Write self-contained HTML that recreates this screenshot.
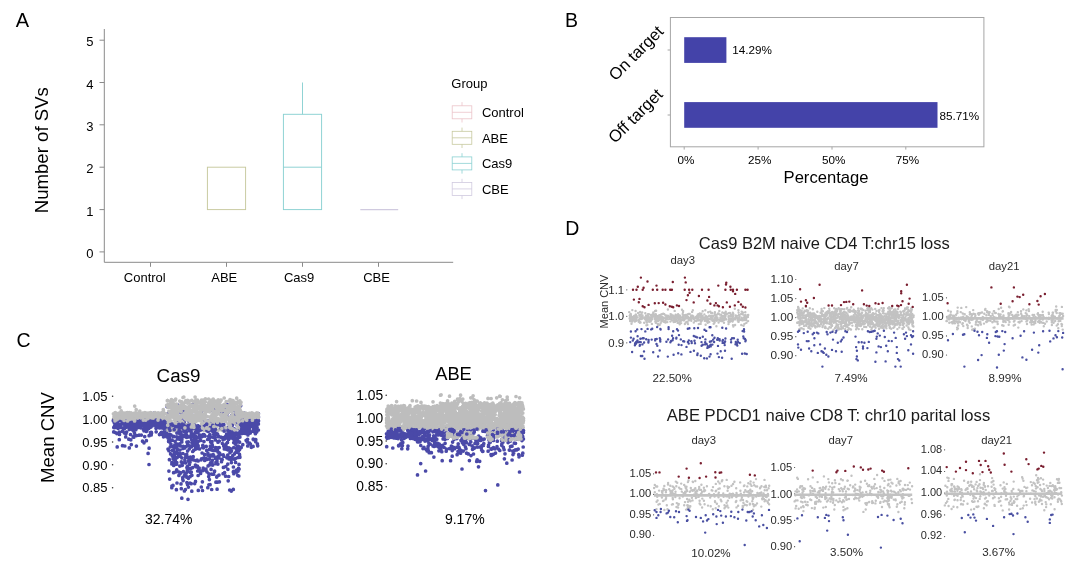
<!DOCTYPE html>
<html lang="en"><head><meta charset="utf-8"><title>Figure</title>
<style>html,body{margin:0;padding:0;background:#fff;}body{width:1080px;height:565px;overflow:hidden;}svg{display:block;}text{font-family:"Liberation Sans", Arial, Helvetica, sans-serif;}</style>
</head><body>
<svg width="1080" height="565" viewBox="0 0 1080 565">
<rect width="1080" height="565" fill="#fff"/>
<g id="panelA">
<text x="15.8" y="27.3" font-size="20" text-anchor="start" fill="#000">A</text>
<path d="M104.3 29 V262.3 H453.2" fill="none" stroke="#8a8a8a" stroke-width="1"/>
<line x1="99.5" x2="104.3" y1="251.9" y2="251.9" stroke="#8a8a8a" stroke-width="1"/>
<text x="93.5" y="258.0" font-size="13" text-anchor="end" fill="#000">0</text>
<line x1="99.5" x2="104.3" y1="209.6" y2="209.6" stroke="#8a8a8a" stroke-width="1"/>
<text x="93.5" y="215.7" font-size="13" text-anchor="end" fill="#000">1</text>
<line x1="99.5" x2="104.3" y1="167.2" y2="167.2" stroke="#8a8a8a" stroke-width="1"/>
<text x="93.5" y="173.3" font-size="13" text-anchor="end" fill="#000">2</text>
<line x1="99.5" x2="104.3" y1="124.8" y2="124.8" stroke="#8a8a8a" stroke-width="1"/>
<text x="93.5" y="130.9" font-size="13" text-anchor="end" fill="#000">3</text>
<line x1="99.5" x2="104.3" y1="82.5" y2="82.5" stroke="#8a8a8a" stroke-width="1"/>
<text x="93.5" y="88.6" font-size="13" text-anchor="end" fill="#000">4</text>
<line x1="99.5" x2="104.3" y1="40.2" y2="40.2" stroke="#8a8a8a" stroke-width="1"/>
<text x="93.5" y="46.3" font-size="13" text-anchor="end" fill="#000">5</text>
<line x1="150.5" x2="150.5" y1="262.3" y2="266.8" stroke="#8a8a8a" stroke-width="1"/>
<text x="144.8" y="282.3" font-size="13" text-anchor="middle" fill="#000">Control</text>
<line x1="226.5" x2="226.5" y1="262.3" y2="266.8" stroke="#8a8a8a" stroke-width="1"/>
<text x="224.3" y="282.3" font-size="13" text-anchor="middle" fill="#000">ABE</text>
<line x1="302.5" x2="302.5" y1="262.3" y2="266.8" stroke="#8a8a8a" stroke-width="1"/>
<text x="299.1" y="282.3" font-size="13" text-anchor="middle" fill="#000">Cas9</text>
<line x1="378.5" x2="378.5" y1="262.3" y2="266.8" stroke="#8a8a8a" stroke-width="1"/>
<text x="376.6" y="282.3" font-size="13" text-anchor="middle" fill="#000">CBE</text>
<text x="47.6" y="150.2" font-size="18.6" text-anchor="middle" fill="#000" transform="rotate(-90 47.6 150.2)">Number of SVs</text>
<rect x="207.4" y="167.2" width="38.2" height="42.4" fill="none" stroke="#c7c99e" stroke-width="0.95"/>
<rect x="283.4" y="114.3" width="38.2" height="95.3" fill="none" stroke="#8ad1d2" stroke-width="0.95"/>
<line x1="283.4" x2="321.6" y1="167.2" y2="167.2" stroke="#8ad1d2" stroke-width="0.95"/>
<line x1="302.5" x2="302.5" y1="114.3" y2="82.5" stroke="#8ad1d2" stroke-width="0.95"/>
<line x1="360.3" x2="398.2" y1="209.6" y2="209.6" stroke="#d0cadf" stroke-width="1.2"/>
<text x="451.3" y="87.6" font-size="13" text-anchor="start" fill="#000">Group</text>
<g stroke="#ecc3c9" stroke-width="0.8" fill="none"><line x1="462" x2="462" y1="102.1" y2="122.5"/><rect x="452.2" y="105.8" width="19.6" height="13" fill="#fff"/><line x1="452.2" x2="471.8" y1="112.3" y2="112.3"/></g>
<text x="481.9" y="117.0" font-size="13" text-anchor="start" fill="#000">Control</text>
<g stroke="#c7c99e" stroke-width="0.8" fill="none"><line x1="462" x2="462" y1="127.6" y2="148.0"/><rect x="452.2" y="131.3" width="19.6" height="13" fill="#fff"/><line x1="452.2" x2="471.8" y1="137.8" y2="137.8"/></g>
<text x="481.9" y="142.5" font-size="13" text-anchor="start" fill="#000">ABE</text>
<g stroke="#8ad1d2" stroke-width="0.8" fill="none"><line x1="462" x2="462" y1="153.2" y2="173.6"/><rect x="452.2" y="156.9" width="19.6" height="13" fill="#fff"/><line x1="452.2" x2="471.8" y1="163.4" y2="163.4"/></g>
<text x="481.9" y="168.1" font-size="13" text-anchor="start" fill="#000">Cas9</text>
<g stroke="#d0cadf" stroke-width="0.8" fill="none"><line x1="462" x2="462" y1="178.8" y2="199.1"/><rect x="452.2" y="182.4" width="19.6" height="13" fill="#fff"/><line x1="452.2" x2="471.8" y1="188.9" y2="188.9"/></g>
<text x="481.9" y="193.6" font-size="13" text-anchor="start" fill="#000">CBE</text>
</g>
<g id="panelB">
<text x="565.0" y="26.6" font-size="19.5" text-anchor="start" fill="#000">B</text>
<rect x="670.4" y="17.5" width="313.5" height="129.3" fill="none" stroke="#a6a6a6" stroke-width="1"/>
<rect x="684.2" y="37.2" width="42.2" height="25.7" fill="#4443a9"/>
<rect x="684.2" y="102.1" width="253.3" height="25.7" fill="#4443a9"/>
<text x="732.3" y="53.8" font-size="11.7" text-anchor="start" fill="#000">14.29%</text>
<text x="939.6" y="120.3" font-size="11.7" text-anchor="start" fill="#000">85.71%</text>
<line x1="684.2" x2="684.2" y1="146.8" y2="149.6" stroke="#a6a6a6" stroke-width="1"/>
<text x="685.9" y="164.3" font-size="11.7" text-anchor="middle" fill="#000">0%</text>
<line x1="758.1" x2="758.1" y1="146.8" y2="149.6" stroke="#a6a6a6" stroke-width="1"/>
<text x="759.8" y="164.3" font-size="11.7" text-anchor="middle" fill="#000">25%</text>
<line x1="832.0" x2="832.0" y1="146.8" y2="149.6" stroke="#a6a6a6" stroke-width="1"/>
<text x="833.7" y="164.3" font-size="11.7" text-anchor="middle" fill="#000">50%</text>
<line x1="905.8" x2="905.8" y1="146.8" y2="149.6" stroke="#a6a6a6" stroke-width="1"/>
<text x="907.5" y="164.3" font-size="11.7" text-anchor="middle" fill="#000">75%</text>
<line x1="667.6" x2="670.4" y1="50" y2="50" stroke="#a6a6a6" stroke-width="1"/>
<line x1="667.6" x2="670.4" y1="115" y2="115" stroke="#a6a6a6" stroke-width="1"/>
<text x="826.0" y="183.1" font-size="16.6" text-anchor="middle" fill="#000">Percentage</text>
<text x="664.5" y="32.5" font-size="16.6" text-anchor="end" fill="#000" transform="rotate(-45 664.5 32.5)">On target</text>
<text x="663.7" y="95.4" font-size="16.6" text-anchor="end" fill="#000" transform="rotate(-45 663.7 95.4)">Off target</text>
</g>
<g id="panelC">
<text x="16.5" y="346.6" font-size="19.5" text-anchor="start" fill="#000">C</text>
<text x="178.5" y="381.6" font-size="18.8" text-anchor="middle" fill="#000">Cas9</text>
<text x="453.5" y="379.8" font-size="18.3" text-anchor="middle" fill="#000">ABE</text>
<text x="53.7" y="437.5" font-size="18.6" text-anchor="middle" fill="#000" transform="rotate(-90 53.7 437.5)">Mean CNV</text>
<text x="107.6" y="400.9" font-size="13" text-anchor="end" fill="#000">1.05</text>
<circle cx="112.6" cy="396.2" r="0.8" fill="#333"/>
<text x="383.2" y="399.9" font-size="13.8" text-anchor="end" fill="#000">1.05</text>
<circle cx="386.2" cy="395.2" r="0.8" fill="#333"/>
<text x="107.6" y="423.8" font-size="13" text-anchor="end" fill="#000">1.00</text>
<circle cx="112.6" cy="419.1" r="0.8" fill="#333"/>
<text x="383.2" y="422.7" font-size="13.8" text-anchor="end" fill="#000">1.00</text>
<circle cx="386.2" cy="418.1" r="0.8" fill="#333"/>
<text x="107.6" y="446.7" font-size="13" text-anchor="end" fill="#000">0.95</text>
<circle cx="112.6" cy="442.0" r="0.8" fill="#333"/>
<text x="383.2" y="445.6" font-size="13.8" text-anchor="end" fill="#000">0.95</text>
<circle cx="386.2" cy="441.0" r="0.8" fill="#333"/>
<text x="107.6" y="469.5" font-size="13" text-anchor="end" fill="#000">0.90</text>
<circle cx="112.6" cy="464.8" r="0.8" fill="#333"/>
<text x="383.2" y="468.4" font-size="13.8" text-anchor="end" fill="#000">0.90</text>
<circle cx="386.2" cy="463.8" r="0.8" fill="#333"/>
<text x="107.6" y="492.4" font-size="13" text-anchor="end" fill="#000">0.85</text>
<circle cx="112.6" cy="487.7" r="0.8" fill="#333"/>
<text x="383.2" y="491.3" font-size="13.8" text-anchor="end" fill="#000">0.85</text>
<circle cx="386.2" cy="486.7" r="0.8" fill="#333"/>
<text x="168.8" y="524.0" font-size="14" text-anchor="middle" fill="#000">32.74%</text>
<text x="464.8" y="523.7" font-size="14" text-anchor="middle" fill="#000">9.17%</text>
<path d="M213.1 428.7h0M233.4 418.9h0M224.3 412.8h0M183.4 411.1h0M188.9 428.8h0M231.6 415.6h0M167.0 429.5h0M227.7 417.4h0M225.9 417.6h0M201.4 427.3h0M189.1 423.3h0M187.3 419.1h0M185.6 415.1h0M199.7 426.8h0M204.1 414.7h0M207.8 428.0h0M240.7 405.8h0M225.6 415.2h0M212.9 417.5h0M240.2 428.7h0M182.6 410.5h0M178.5 425.0h0M212.2 421.6h0M169.9 422.6h0M169.3 420.4h0M204.9 429.3h0M201.3 412.6h0M234.8 414.4h0M213.4 409.3h0M204.9 405.3h0M203.6 409.5h0M185.0 427.8h0M167.5 425.8h0M180.9 406.9h0M218.1 419.7h0M181.5 416.5h0M194.1 419.5h0M166.9 421.1h0M228.4 412.0h0M178.1 429.0h0M186.5 416.1h0M232.1 420.3h0M204.5 420.5h0M229.6 408.8h0M214.2 405.6h0M221.8 414.7h0M173.4 423.9h0M206.9 425.2h0M204.4 423.0h0M231.4 406.9h0M193.5 427.7h0M211.1 424.9h0M171.0 426.8h0M195.4 417.6h0M190.6 427.8h0M177.8 405.2h0M227.3 404.8h0M194.8 404.5h0M239.4 410.6h0M210.5 410.5h0M211.6 408.9h0M214.1 418.7h0M216.9 405.0h0M177.8 419.4h0M199.4 408.3h0M184.4 421.6h0M196.5 404.5h0M173.8 412.1h0M238.6 428.4h0M182.6 418.0h0M216.6 425.1h0M189.0 421.1h0M231.6 419.9h0M215.9 409.0h0M176.4 418.9h0M229.5 405.0h0M236.9 424.8h0M233.9 429.0h0M209.0 426.2h0M177.4 405.3h0M180.9 412.8h0M235.6 412.3h0M207.7 406.9h0M180.0 420.3h0M232.4 424.7h0M214.3 412.2h0M209.0 426.4h0M194.6 424.7h0M197.2 407.4h0M184.4 423.9h0M169.4 426.9h0M231.8 409.1h0M201.4 418.9h0M207.3 420.6h0M190.6 419.8h0M222.5 406.5h0M168.5 421.2h0M194.3 420.4h0M168.9 425.4h0M175.7 424.9h0M238.6 412.5h0M215.5 422.8h0M198.5 426.5h0M205.6 427.2h0M231.5 408.2h0M192.2 404.7h0M210.5 420.9h0M217.5 409.6h0M193.0 418.7h0M205.2 428.6h0M223.5 413.9h0M234.2 410.6h0M177.8 415.9h0M236.0 421.1h0M167.0 406.6h0M222.6 413.9h0M226.9 407.5h0M176.8 421.2h0M197.8 425.6h0M227.3 413.8h0M167.7 413.7h0M213.4 418.0h0M225.6 409.6h0M204.8 410.4h0M220.6 412.6h0M183.4 415.9h0M181.4 406.1h0M193.6 423.6h0M179.9 419.1h0M192.3 411.8h0M117.3 413.9h0M153.5 414.3h0M120.1 418.6h0M120.2 417.5h0M120.1 418.0h0M117.5 420.0h0M161.1 419.6h0M127.4 418.9h0M129.4 418.4h0M157.2 415.8h0M145.9 417.5h0M123.1 414.3h0M136.2 418.3h0M159.9 418.3h0M133.0 418.0h0M150.7 416.1h0M118.3 415.6h0M151.6 415.9h0M154.2 413.2h0M156.8 418.9h0M148.8 416.8h0M132.8 415.7h0M116.6 416.8h0M140.6 418.1h0M153.2 415.7h0M123.3 418.8h0M127.3 419.4h0M141.5 415.7h0M152.7 414.0h0M160.5 418.3h0M258.5 417.0h0M243.6 416.1h0M253.5 418.3h0M255.5 414.3h0M257.2 419.4h0M243.2 414.5h0M242.6 418.4h0M258.4 413.5h0M243.1 416.3h0M244.1 413.2h0" fill="none" stroke="#4a49a8" stroke-width="3.70" stroke-linecap="round"/>
<path d="M129.8 414.6h0M129.7 417.8h0M151.2 417.0h0M137.2 417.7h0M116.2 415.2h0M165.8 417.6h0M160.1 417.4h0M161.6 415.3h0M126.2 412.8h0M134.0 419.2h0M125.2 417.5h0M119.8 414.0h0M114.9 417.6h0M139.8 414.5h0M119.7 415.8h0M122.5 418.5h0M158.6 415.7h0M138.8 414.6h0M122.9 414.7h0M148.6 413.1h0M127.2 414.1h0M141.0 414.5h0M128.1 413.8h0M140.5 413.0h0M146.4 415.8h0M141.5 414.1h0M134.1 417.7h0M155.0 419.0h0M159.3 414.5h0M122.7 416.5h0M120.4 416.1h0M119.2 413.1h0M164.9 413.5h0M162.9 418.7h0M125.4 415.9h0M164.4 418.2h0M124.2 413.1h0M139.9 416.7h0M139.5 418.6h0M161.5 418.6h0M115.3 412.6h0M129.9 416.2h0M144.9 415.1h0M116.7 417.8h0M125.7 413.1h0M137.8 414.4h0M159.7 418.2h0M153.4 415.8h0M157.0 415.7h0M153.4 419.3h0M150.6 414.8h0M158.1 412.9h0M149.2 415.3h0M152.0 413.7h0M129.1 413.2h0M122.1 416.5h0M153.1 419.2h0M122.0 416.6h0M161.7 417.1h0M144.7 414.8h0M130.6 416.5h0M162.7 417.8h0M121.4 416.7h0M140.4 418.1h0M118.0 416.4h0M164.2 414.0h0M143.6 416.6h0M155.6 416.0h0M128.1 413.7h0M155.5 416.9h0M150.3 418.2h0M147.2 413.5h0M163.4 416.4h0M136.1 417.7h0M135.1 415.4h0M149.7 414.5h0M157.3 415.2h0M130.9 416.3h0M148.6 417.3h0M124.2 416.5h0M142.3 413.3h0M153.8 418.2h0M116.6 419.0h0M151.6 413.3h0M114.0 414.3h0M163.8 413.8h0M137.9 418.5h0M134.8 418.9h0M151.2 412.9h0M140.8 414.9h0M151.8 413.9h0M117.7 415.8h0M142.9 419.0h0M142.7 413.1h0M162.4 413.8h0M115.3 416.0h0M137.1 416.2h0M146.5 417.7h0M142.3 415.6h0M117.1 413.6h0M144.5 415.0h0M124.9 419.4h0M123.5 417.8h0M159.6 413.4h0M123.6 418.2h0M137.2 414.7h0M152.8 418.0h0M150.5 412.7h0M142.4 418.6h0M155.8 413.7h0M137.8 415.7h0M146.0 417.2h0M156.4 416.1h0M149.0 413.7h0M147.1 413.6h0M134.6 414.6h0M142.7 413.0h0M134.1 414.1h0M152.5 413.5h0M133.3 415.8h0M137.8 415.1h0M153.1 416.6h0M139.8 414.5h0M131.0 412.8h0M156.9 414.9h0M133.3 417.8h0M157.8 414.4h0M154.7 415.4h0M136.8 417.8h0M150.8 415.4h0M115.0 418.7h0M133.8 418.9h0M158.6 414.7h0M143.8 417.7h0M142.7 414.3h0M148.3 413.6h0M149.0 415.6h0M144.0 416.8h0M135.4 419.1h0M122.9 413.6h0M128.7 417.5h0M128.7 415.9h0M135.9 413.5h0M166.0 419.3h0M131.8 417.4h0M136.8 413.5h0M132.8 418.8h0M143.9 413.3h0M163.2 413.2h0M160.1 414.9h0M133.1 419.1h0M127.3 412.8h0M159.9 418.9h0M139.3 416.8h0M149.4 413.1h0M117.1 416.5h0M159.0 415.8h0M129.7 416.5h0M139.3 417.7h0M123.7 417.3h0M135.4 419.5h0M156.9 413.7h0M156.9 418.2h0M138.2 415.4h0M153.7 418.0h0M137.4 418.8h0M132.9 419.4h0M142.0 414.4h0M123.8 415.7h0M129.9 419.1h0M150.5 419.1h0M153.9 415.2h0M116.2 419.1h0M151.9 415.4h0M156.4 415.2h0M136.7 417.8h0M116.5 415.9h0M149.3 415.7h0M126.2 415.3h0M147.2 415.6h0M133.1 413.6h0M146.8 413.0h0M126.8 417.8h0M138.4 416.5h0M140.9 417.2h0M146.5 418.1h0M123.9 414.2h0M164.0 414.2h0M128.5 414.5h0M129.4 414.7h0M126.7 417.8h0M116.8 415.2h0M135.5 414.8h0M154.0 417.0h0M150.7 413.9h0M123.5 413.3h0M120.4 417.4h0M130.2 417.8h0M153.8 414.6h0M139.0 417.0h0M161.9 412.8h0M147.9 415.4h0M146.0 416.6h0M153.7 414.3h0M152.8 415.0h0M131.4 416.8h0M126.8 416.7h0M136.3 413.7h0M139.0 417.5h0M120.7 413.2h0M136.5 419.3h0M147.0 414.0h0M120.4 414.3h0M120.5 414.0h0M122.4 419.4h0M128.2 414.6h0M164.0 416.8h0M114.6 419.4h0M122.9 419.2h0M121.9 412.9h0M138.2 416.2h0M114.0 416.7h0M137.4 417.4h0M121.8 414.9h0M127.4 414.9h0M155.0 412.6h0M122.9 412.8h0M145.8 416.4h0M134.7 413.1h0M135.2 414.0h0M156.3 414.9h0M121.7 413.1h0M162.0 412.8h0M160.4 419.0h0M148.5 415.6h0M115.8 414.0h0M148.2 417.5h0M144.9 412.7h0M154.0 414.3h0M124.5 419.2h0M163.5 418.8h0M160.0 417.0h0M119.2 413.2h0M129.8 414.8h0M114.9 412.8h0M157.1 414.1h0M161.5 412.8h0M165.5 413.5h0M145.5 417.0h0M148.4 413.3h0M149.0 413.7h0M143.3 418.8h0M163.5 414.9h0M145.3 414.9h0M130.9 413.2h0M140.3 418.1h0M114.2 417.3h0M151.4 416.4h0M149.8 416.9h0M135.4 413.3h0M158.2 414.4h0M153.1 416.6h0M131.0 419.2h0M117.3 418.2h0M120.2 417.0h0M122.9 416.2h0M129.2 412.7h0M136.8 418.7h0M162.2 413.1h0M127.9 413.5h0M160.6 417.4h0M149.1 418.2h0M158.3 418.0h0M134.5 415.7h0M113.4 413.8h0M154.8 412.8h0M126.2 418.5h0M120.7 419.3h0M155.4 414.3h0M149.4 418.6h0M124.4 415.4h0M127.3 414.7h0M162.8 416.1h0M127.4 412.7h0M150.3 415.7h0M120.0 414.0h0M156.2 417.5h0M119.4 416.1h0M140.4 418.6h0M115.1 418.8h0M142.2 414.8h0M157.9 414.5h0M117.7 419.1h0M127.7 416.1h0M153.6 413.3h0M145.3 412.9h0M129.7 419.4h0M146.4 416.6h0M137.2 413.0h0M158.7 416.1h0M139.8 411.0h0M136.2 409.7h0M163.4 410.4h0M163.3 409.5h0M119.8 407.3h0M121.2 410.9h0M134.7 406.1h0M218.6 410.7h0M181.1 411.8h0M201.6 410.1h0M239.1 414.9h0M206.7 421.8h0M170.8 417.6h0M198.5 401.5h0M215.7 410.9h0M170.8 405.2h0M185.4 402.3h0M168.0 404.3h0M206.8 405.5h0M195.0 421.1h0M204.1 416.4h0M188.6 418.8h0M215.5 415.4h0M179.5 406.9h0M234.1 408.6h0M238.0 409.7h0M203.3 406.5h0M201.2 409.3h0M230.6 417.0h0M188.2 401.7h0M226.4 406.1h0M188.0 410.5h0M220.2 414.9h0M191.5 414.2h0M211.4 415.9h0M235.5 402.3h0M170.6 404.0h0M226.7 406.8h0M206.9 406.2h0M194.8 416.6h0M192.7 421.9h0M171.8 415.0h0M185.8 400.7h0M213.0 406.5h0M173.9 417.7h0M216.4 420.3h0M238.2 413.1h0M239.6 407.7h0M232.8 407.8h0M226.6 413.9h0M179.8 419.0h0M238.8 407.5h0M181.7 404.2h0M231.3 400.1h0M231.9 403.0h0M212.9 418.7h0M205.4 413.7h0M181.5 421.8h0M205.2 401.5h0M188.2 408.1h0M176.0 417.5h0M176.1 414.5h0M226.2 401.5h0M235.2 408.8h0M177.2 414.0h0M167.6 415.1h0M186.2 409.9h0M176.6 404.1h0M180.6 421.3h0M210.0 410.3h0M198.0 415.8h0M198.5 411.8h0M181.9 401.8h0M216.0 405.2h0M188.1 401.4h0M196.3 404.2h0M201.1 404.4h0M233.9 409.1h0M184.9 407.1h0M220.1 408.0h0M189.6 418.0h0M233.1 400.5h0M195.9 402.3h0M204.2 417.8h0M231.9 411.7h0M216.7 409.7h0M173.6 405.9h0M176.8 411.9h0M240.3 404.9h0M168.8 418.9h0M189.0 418.1h0M237.9 407.1h0M167.7 400.5h0M178.6 419.5h0M182.5 406.6h0M173.0 414.5h0M201.7 418.9h0M210.7 417.6h0M190.3 419.0h0M174.7 410.8h0M226.9 418.5h0M226.5 410.1h0M208.4 405.8h0M176.8 410.6h0M206.9 407.4h0M213.4 416.9h0M198.5 418.3h0M230.9 403.1h0M195.6 403.6h0M204.6 408.4h0M175.1 410.2h0M208.5 421.0h0M223.6 420.7h0M221.0 421.3h0M185.7 416.1h0M240.4 414.9h0M220.2 405.9h0M198.1 408.2h0M197.5 400.1h0M224.6 418.3h0M179.7 406.1h0M214.2 401.7h0M220.1 406.9h0M205.0 407.1h0M231.6 415.9h0M201.5 400.1h0M201.2 405.1h0M187.8 419.7h0M235.0 418.8h0M190.1 413.8h0M218.3 412.3h0M197.1 404.9h0M236.2 419.3h0M237.1 416.7h0M168.8 411.3h0M240.6 403.5h0M211.6 404.7h0M172.1 408.3h0M203.6 407.3h0M170.3 401.3h0M207.4 408.9h0M180.4 409.9h0M194.0 406.3h0M189.3 408.5h0M211.4 407.3h0M227.8 408.3h0M236.3 413.6h0M191.1 410.9h0M209.0 404.3h0M167.0 417.5h0M194.3 411.3h0M238.1 410.1h0M175.4 415.7h0M231.3 416.5h0M215.1 418.7h0M188.5 417.8h0M224.5 414.7h0M188.1 415.9h0M233.2 403.5h0M172.8 415.4h0M175.5 405.6h0M222.4 405.7h0M200.0 402.6h0M177.6 408.7h0M204.8 400.4h0M188.7 414.5h0M207.5 416.5h0M221.9 417.1h0M230.3 402.8h0M171.0 414.1h0M210.7 418.4h0M239.8 400.8h0M200.8 404.3h0M223.9 405.9h0M173.8 410.2h0M231.6 403.8h0M209.9 411.9h0M232.7 407.6h0M225.2 414.4h0M231.3 411.7h0M170.9 415.1h0M219.8 405.4h0M181.3 415.6h0M186.4 416.2h0M190.8 415.9h0M210.6 401.5h0M213.3 420.8h0M235.9 412.7h0M167.5 406.0h0M181.0 409.6h0M193.5 411.4h0M227.5 411.4h0M207.5 405.5h0M204.7 405.8h0M223.2 408.0h0M215.3 417.2h0M188.2 409.6h0M173.1 400.8h0M201.0 409.9h0M232.1 404.4h0M211.1 400.3h0M170.6 421.5h0M199.3 406.5h0M195.2 411.8h0M209.9 407.9h0M210.3 401.2h0M237.4 419.8h0M191.8 420.6h0M197.0 404.1h0M212.2 409.2h0M232.5 408.2h0M219.1 403.7h0M201.6 414.6h0M227.2 417.2h0M202.7 416.7h0M238.3 414.9h0M187.6 400.4h0M176.1 405.1h0M228.4 411.3h0M188.7 415.5h0M229.6 408.5h0M211.9 409.9h0M204.5 418.5h0M173.1 400.5h0M225.1 405.9h0M171.5 406.4h0M238.4 421.8h0M231.8 405.0h0M189.1 401.0h0M176.1 409.2h0M232.5 414.3h0M202.3 403.4h0M175.9 418.5h0M203.7 404.3h0M185.0 415.5h0M196.9 403.6h0M214.2 419.4h0M234.7 404.4h0M226.2 416.1h0M178.6 418.5h0M202.1 405.6h0M203.2 402.0h0M240.2 412.9h0M173.1 411.0h0M204.6 410.5h0M234.6 417.2h0M196.3 410.2h0M186.1 410.9h0M208.0 410.7h0M190.4 410.0h0M235.6 408.9h0M172.9 403.5h0M182.0 406.5h0M172.8 405.8h0M219.6 405.5h0M188.4 417.2h0M233.6 402.5h0M233.1 404.5h0M236.3 411.6h0M185.7 406.9h0M166.6 405.3h0M195.4 408.2h0M238.2 411.0h0M223.4 414.8h0M171.0 421.4h0M218.9 418.8h0M234.8 409.5h0M238.6 409.9h0M219.9 409.1h0M230.8 405.3h0M229.2 420.9h0M193.3 401.5h0M174.0 404.5h0M220.7 414.6h0M176.8 413.0h0M195.2 406.1h0M240.7 420.6h0M208.2 409.0h0M205.4 413.1h0M237.1 402.0h0M187.7 419.6h0M241.0 402.3h0M234.5 408.7h0M193.7 419.5h0M190.9 420.8h0M176.0 419.9h0M234.7 418.2h0M180.4 405.1h0M167.3 400.7h0M232.8 409.9h0M211.1 401.4h0M216.6 421.1h0M221.1 400.2h0M169.8 407.2h0M173.4 404.5h0M203.8 400.3h0M170.3 411.0h0M204.1 401.7h0M221.4 419.8h0M215.5 415.1h0M212.5 408.1h0M170.1 418.5h0M184.2 417.5h0M233.4 407.2h0M175.8 418.6h0M206.3 420.4h0M170.3 413.6h0M236.5 407.7h0M179.4 419.8h0M197.1 420.7h0M207.3 407.6h0M220.1 401.9h0M236.3 419.1h0M221.4 414.6h0M192.4 405.1h0M172.2 412.5h0M219.2 406.8h0M239.0 420.2h0M167.9 407.5h0M224.2 404.3h0M179.7 401.0h0M200.8 407.5h0M205.5 421.8h0M212.3 404.8h0M240.2 410.1h0M217.7 421.4h0M195.8 400.1h0M219.8 406.5h0M201.3 418.1h0M197.3 402.1h0M193.8 420.4h0M203.3 418.4h0M187.5 403.1h0M184.6 413.0h0M177.6 412.2h0M199.4 415.3h0M188.4 406.8h0M228.9 408.5h0M229.7 405.3h0M192.2 406.4h0M212.7 403.9h0M233.7 419.9h0M193.3 419.5h0M207.9 407.9h0M199.6 415.3h0M215.0 410.8h0M238.0 406.2h0M176.9 407.7h0M238.4 421.2h0M216.1 407.5h0M225.8 412.7h0M213.9 420.8h0M231.4 406.5h0M190.9 417.8h0M219.3 402.5h0M186.3 416.1h0M204.4 417.7h0M217.3 418.4h0M181.6 421.5h0M171.2 415.6h0M225.4 421.5h0M226.8 406.1h0M216.1 411.5h0M190.5 404.7h0M215.6 401.8h0M172.8 409.7h0M215.9 415.8h0M209.5 417.1h0M212.5 400.4h0M199.9 420.7h0M183.4 405.4h0M220.6 406.4h0M201.1 418.3h0M222.1 419.7h0M193.7 416.2h0M173.1 407.3h0M207.0 410.2h0M212.9 418.4h0M235.2 407.9h0M232.6 417.7h0M170.9 417.2h0M224.0 410.3h0M186.0 419.7h0M218.5 408.5h0M194.8 416.5h0M190.6 414.1h0M202.9 407.3h0M206.1 411.7h0M218.3 413.3h0M214.1 411.8h0M217.1 402.4h0M195.2 421.8h0M217.0 421.3h0M192.3 400.8h0M211.8 420.8h0M200.8 411.7h0M208.5 402.8h0M167.9 418.1h0M203.7 409.5h0M183.0 415.7h0M195.3 418.2h0M172.1 411.8h0M215.5 401.1h0M233.1 418.1h0M193.0 415.3h0M174.4 420.0h0M212.7 405.9h0M176.1 417.3h0M232.9 419.2h0M175.7 407.8h0M193.5 409.0h0M203.4 407.3h0M175.4 400.1h0M190.3 405.1h0M187.1 407.3h0M219.7 402.4h0M240.0 416.8h0M193.6 409.4h0M225.4 412.5h0M177.0 406.3h0M209.7 407.9h0M198.8 416.6h0M188.0 410.3h0M227.7 413.1h0M222.1 409.3h0M176.6 412.3h0M188.4 419.7h0M227.6 405.9h0M240.4 411.4h0M212.1 415.1h0M231.5 401.9h0M239.8 421.2h0M221.7 411.0h0M214.6 405.4h0M183.1 416.7h0M194.2 417.9h0M213.0 413.9h0M235.5 420.2h0M189.1 402.0h0M196.0 411.6h0M168.3 416.3h0M218.4 420.2h0M199.6 414.1h0M226.0 413.3h0M184.0 408.5h0M215.7 412.6h0M216.7 412.2h0M201.1 419.9h0M180.6 418.2h0M196.6 416.2h0M222.0 420.3h0M180.7 401.5h0M173.3 416.9h0M201.0 410.2h0M184.0 416.5h0M226.2 406.5h0M227.4 410.3h0M236.9 418.1h0M229.1 400.8h0M214.8 406.4h0M180.5 410.7h0M227.8 418.7h0M220.8 405.9h0M222.2 418.1h0M218.5 405.4h0M228.4 406.7h0M188.8 412.2h0M216.6 414.4h0M205.1 419.4h0M191.7 419.3h0M190.9 405.5h0M178.2 416.4h0M203.2 414.0h0M194.0 408.5h0M198.0 417.1h0M230.0 419.7h0M217.3 410.5h0M217.2 420.2h0M239.8 402.8h0M182.8 403.7h0M204.4 416.8h0M173.5 406.7h0M195.8 412.9h0M237.3 410.9h0M173.0 403.2h0M223.0 416.6h0M231.0 416.3h0M204.5 403.2h0M225.9 405.7h0M199.4 417.6h0M192.9 420.1h0M204.2 419.1h0M181.1 411.0h0M189.5 408.1h0M189.3 409.8h0M240.1 403.9h0M191.5 410.9h0M183.6 405.1h0M236.5 403.6h0M176.9 408.4h0M238.5 401.4h0M230.1 410.3h0M214.7 415.3h0M198.4 414.3h0M181.3 421.5h0M174.5 419.5h0M174.3 413.9h0M192.6 419.7h0M196.9 409.8h0M235.3 417.6h0M206.5 406.3h0M240.3 411.6h0M220.2 421.6h0M177.5 413.2h0M207.8 411.1h0M178.5 417.3h0M169.5 406.9h0M236.8 418.3h0M191.7 400.4h0M180.7 405.2h0M174.2 403.9h0M215.1 405.7h0M200.9 420.8h0M167.5 400.5h0M219.8 406.6h0M185.7 412.6h0M224.7 415.5h0M224.2 398.0h0M195.1 397.1h0M183.0 397.5h0M230.0 399.7h0M175.7 399.1h0M171.4 399.7h0M183.8 397.0h0M203.2 400.1h0M236.7 398.2h0M220.8 400.2h0M208.6 399.0h0M205.4 398.8h0M218.2 399.8h0M213.2 399.1h0M216.8 426.2h0M178.3 429.8h0M211.6 426.6h0M193.1 427.7h0M172.2 425.4h0M176.5 423.4h0M202.3 427.6h0M186.1 426.4h0M223.5 425.1h0M175.7 424.3h0M167.6 428.3h0M240.8 424.9h0M189.9 427.2h0M204.5 424.3h0M182.2 428.8h0M182.1 425.4h0M196.5 426.3h0M225.4 430.3h0M169.5 428.5h0M228.9 428.6h0M240.3 425.1h0M208.2 429.6h0M193.4 425.5h0M184.0 430.9h0M180.2 430.1h0M190.7 427.9h0M230.0 429.5h0M166.8 426.9h0M225.1 428.6h0M216.3 423.1h0M168.0 430.9h0M171.8 429.2h0M221.3 423.3h0M216.7 424.2h0M189.9 427.2h0M230.7 428.9h0M182.2 423.3h0M198.4 430.6h0M175.2 425.1h0M214.6 431.0h0M173.1 428.8h0M180.0 426.4h0M223.6 425.3h0M203.8 422.9h0M215.8 422.8h0M221.2 427.7h0M211.7 429.0h0M181.3 430.2h0M218.6 425.3h0M175.2 430.4h0M186.7 424.7h0M199.9 430.5h0M175.1 430.3h0M174.5 423.4h0M215.1 429.7h0M221.8 428.3h0M194.2 428.3h0M195.6 429.6h0M182.0 426.8h0M205.4 426.6h0M209.8 425.3h0M236.1 429.8h0M169.6 430.1h0M234.2 423.4h0M240.3 428.9h0M192.4 424.5h0M220.6 423.7h0M228.0 423.8h0M215.0 427.2h0M188.1 424.5h0M212.9 424.2h0M231.8 422.9h0M174.6 424.9h0M202.3 429.0h0M168.3 422.2h0M229.5 426.3h0M224.5 427.4h0M170.0 422.4h0M222.1 424.6h0M218.1 430.2h0M176.0 430.9h0M205.7 429.7h0M217.9 423.5h0M191.6 428.9h0M204.1 426.1h0M239.2 423.5h0M213.9 426.3h0M203.9 430.3h0M171.5 429.9h0M175.6 425.5h0M229.9 422.6h0M221.8 430.1h0M228.7 430.9h0M209.6 426.6h0M209.5 424.0h0M206.1 426.9h0M221.3 428.3h0M191.2 426.3h0M203.6 425.2h0M201.6 424.2h0M215.8 424.7h0M182.7 422.4h0M168.5 424.3h0M173.2 430.6h0M179.9 422.1h0M230.4 428.5h0M219.9 429.1h0M222.4 425.6h0M199.7 427.4h0M174.2 424.0h0M252.8 414.4h0M253.5 419.3h0M253.9 417.9h0M249.7 415.7h0M258.1 413.5h0M256.2 414.5h0M251.1 419.4h0M253.0 418.1h0M245.8 413.1h0M257.6 417.5h0M252.4 415.2h0M256.8 417.6h0M246.1 414.6h0M258.3 413.5h0M242.9 412.7h0M250.3 414.6h0M242.9 418.5h0M244.3 418.7h0M254.4 417.3h0M242.2 417.8h0M247.7 413.9h0M244.4 415.0h0M256.0 418.8h0M242.4 419.4h0M246.9 415.7h0M256.1 418.0h0M253.1 419.0h0M253.4 419.5h0M258.4 414.6h0M241.4 417.1h0M252.7 415.3h0M254.1 415.8h0M254.2 415.8h0M253.6 414.5h0M242.3 412.7h0M242.5 417.9h0M254.6 417.4h0M251.8 418.4h0M245.6 413.7h0M241.2 414.2h0M250.4 416.7h0M242.6 419.1h0M254.2 415.9h0M247.0 414.0h0M255.2 416.7h0M242.7 419.2h0M249.7 418.6h0M242.8 418.8h0M254.7 415.4h0M250.9 414.4h0M245.1 418.6h0M257.9 418.0h0M253.0 418.5h0M246.9 415.3h0M256.1 414.6h0M247.7 414.3h0M257.6 418.6h0M246.2 418.9h0M258.3 415.1h0M242.1 418.6h0M253.9 415.2h0M246.1 415.7h0M248.5 416.5h0M252.2 414.1h0M241.8 414.4h0M244.9 414.4h0M242.8 414.4h0M254.0 416.2h0M244.9 413.3h0M249.8 418.0h0M246.8 413.8h0M245.2 415.7h0M257.5 417.0h0M249.9 413.6h0M252.4 415.4h0M253.4 416.5h0M255.5 416.4h0M245.6 418.8h0M242.4 418.0h0M249.2 413.4h0M244.0 418.3h0M241.4 416.4h0M257.2 417.3h0M252.0 413.7h0M248.3 415.9h0M243.4 417.4h0M254.4 418.1h0M250.4 418.2h0M244.1 414.1h0M258.3 418.3h0M257.7 416.5h0M257.3 417.2h0M255.5 418.5h0M250.4 415.4h0M246.3 418.9h0M252.5 418.7h0M243.7 418.2h0M251.9 415.2h0M242.2 416.2h0M241.2 413.8h0M253.6 417.8h0M247.0 418.7h0M253.3 413.7h0M254.7 417.7h0M255.7 417.4h0M251.8 412.9h0M255.9 418.9h0M252.6 415.9h0M257.3 414.5h0M256.8 412.8h0M241.8 418.0h0M245.7 414.9h0M247.8 416.1h0M245.4 413.9h0M244.1 416.8h0M256.4 415.3h0M241.4 418.2h0M244.2 417.2h0M254.4 417.6h0M244.9 414.3h0" fill="none" stroke="#bdbdbd" stroke-width="3.70" stroke-linecap="round"/>
<path d="M116.6 426.1h0M159.7 428.0h0M162.6 423.2h0M147.2 424.0h0M161.9 427.8h0M150.5 423.5h0M145.2 427.1h0M135.3 423.6h0M132.0 422.9h0M139.1 422.4h0M124.9 421.8h0M135.8 423.7h0M140.0 421.4h0M114.8 427.0h0M134.0 428.3h0M128.2 420.8h0M146.7 420.5h0M156.1 420.0h0M145.6 427.9h0M148.3 420.6h0M145.6 425.8h0M126.7 422.6h0M133.1 421.7h0M157.8 422.1h0M163.2 425.9h0M122.8 420.2h0M113.8 427.4h0M164.0 424.8h0M158.6 422.0h0M145.3 421.8h0M156.3 425.6h0M144.6 425.3h0M161.0 422.7h0M126.0 422.8h0M136.7 423.9h0M148.6 427.7h0M124.6 424.6h0M150.9 427.1h0M127.1 425.4h0M150.7 424.8h0M155.7 424.2h0M135.6 425.8h0M165.5 424.2h0M146.5 426.2h0M153.1 421.5h0M114.3 422.7h0M119.2 427.4h0M150.8 423.4h0M163.0 427.2h0M146.4 428.0h0M161.4 424.9h0M116.3 420.9h0M160.3 426.4h0M159.5 425.7h0M146.4 422.5h0M135.9 427.3h0M150.4 424.1h0M126.1 420.5h0M148.5 420.6h0M149.9 421.9h0M141.7 425.2h0M126.9 426.9h0M113.3 420.8h0M123.5 420.2h0M157.2 425.3h0M124.4 423.5h0M117.1 423.8h0M126.2 427.0h0M140.6 427.8h0M144.2 428.2h0M159.5 426.6h0M158.3 420.0h0M164.3 421.3h0M159.9 425.0h0M137.0 428.1h0M120.7 420.7h0M163.7 424.4h0M125.3 423.4h0M146.0 423.5h0M127.2 422.3h0M156.3 422.3h0M123.8 422.0h0M135.4 420.9h0M124.8 424.7h0M158.6 423.8h0M145.9 426.1h0M146.5 425.4h0M129.8 428.1h0M122.5 422.9h0M158.5 427.5h0M153.6 423.3h0M152.0 425.6h0M165.8 426.8h0M142.7 423.4h0M122.6 423.8h0M145.4 425.4h0M128.4 420.9h0M140.3 424.5h0M137.5 420.8h0M143.0 421.9h0M161.8 425.3h0M156.0 428.3h0M135.1 428.5h0M156.4 422.2h0M158.6 421.2h0M154.1 424.4h0M142.3 423.8h0M160.7 423.2h0M139.2 426.5h0M118.8 426.0h0M127.6 424.8h0M147.9 425.3h0M133.2 424.9h0M135.5 425.8h0M134.4 427.9h0M123.3 428.0h0M118.1 428.3h0M115.8 427.3h0M148.7 420.9h0M130.3 423.8h0M137.3 426.6h0M162.6 422.5h0M146.3 425.2h0M156.0 420.5h0M153.5 421.7h0M163.6 423.4h0M116.7 420.6h0M133.5 423.6h0M163.3 422.0h0M137.7 427.3h0M163.2 422.7h0M123.0 423.2h0M116.4 426.8h0M160.5 424.8h0M134.9 420.4h0M140.0 421.8h0M162.6 425.2h0M124.8 421.7h0M164.3 422.1h0M134.1 425.3h0M126.3 424.2h0M125.5 422.3h0M140.6 424.8h0M137.9 425.4h0M160.0 420.3h0M115.9 422.3h0M115.5 422.6h0M121.3 427.5h0M145.2 420.4h0M154.5 423.0h0M138.5 421.7h0M145.6 425.9h0M147.1 426.9h0M114.2 420.5h0M126.2 427.3h0M165.9 425.9h0M130.7 421.8h0M163.2 427.8h0M139.2 422.5h0M125.0 426.7h0M113.3 420.6h0M124.7 423.9h0M130.2 424.3h0M136.4 427.6h0M136.8 427.1h0M142.2 424.6h0M138.2 420.4h0M114.9 423.7h0M127.3 423.2h0M164.0 428.5h0M114.6 425.8h0M152.0 423.4h0M138.4 423.1h0M150.5 426.5h0M130.8 420.8h0M132.7 426.9h0M140.5 425.7h0M161.2 423.7h0M130.5 426.0h0M117.7 423.4h0M115.2 421.2h0M159.7 423.5h0M129.8 420.4h0M119.5 420.7h0M144.7 423.7h0M157.8 427.0h0M144.9 421.7h0M121.2 424.3h0M134.6 428.3h0M127.3 427.0h0M114.1 427.7h0M164.2 425.7h0M137.4 425.0h0M120.3 424.9h0M159.9 425.1h0M165.2 424.0h0M156.3 423.1h0M126.6 422.0h0M123.3 420.6h0M140.9 423.1h0M144.0 426.5h0M159.6 424.7h0M164.3 421.4h0M161.3 426.9h0M131.3 420.4h0M144.1 427.9h0M119.7 425.5h0M140.6 424.7h0M116.9 423.5h0M119.1 427.0h0M119.6 420.1h0M129.1 420.1h0M129.6 424.4h0M150.4 422.5h0M117.2 423.4h0M119.1 424.6h0M147.9 420.4h0M148.7 428.4h0M150.7 425.8h0M151.2 420.8h0M148.2 426.3h0M142.4 424.5h0M152.3 425.8h0M117.5 426.3h0M124.4 428.4h0M152.3 421.0h0M123.4 428.5h0M141.2 424.1h0M126.9 421.7h0M136.0 423.2h0M157.2 423.1h0M148.1 427.6h0M136.7 424.5h0M127.6 420.6h0M155.7 426.1h0M147.9 424.2h0M136.4 426.9h0M159.1 420.4h0M149.8 427.4h0M165.0 427.6h0M148.3 420.1h0M160.7 424.1h0M142.3 421.0h0M150.7 424.5h0M157.7 420.8h0M118.0 427.5h0M138.2 421.6h0M145.2 425.7h0M116.3 425.6h0M154.9 422.7h0M124.5 432.9h0M161.5 432.3h0M115.3 432.5h0M126.6 432.1h0M130.5 434.5h0M144.0 430.8h0M132.7 429.9h0M119.1 432.2h0M143.3 429.3h0M151.4 432.3h0M150.4 432.7h0M139.1 435.2h0M129.4 429.4h0M113.7 431.9h0M141.3 435.1h0M146.4 431.4h0M136.5 435.6h0M163.8 434.6h0M123.9 428.9h0M156.2 431.8h0M151.2 435.0h0M160.7 433.0h0M162.0 434.2h0M125.7 436.9h0M161.9 434.2h0M134.5 433.1h0M149.1 435.7h0M163.5 432.2h0M144.6 428.6h0M144.0 430.8h0M116.9 433.6h0M144.7 436.6h0M125.9 433.7h0M133.7 430.9h0M133.2 436.9h0M164.6 431.9h0M146.9 430.4h0M151.5 433.2h0M122.3 431.4h0M129.3 429.4h0M159.5 434.6h0M119.5 434.4h0M163.5 436.8h0M135.8 429.7h0M133.8 436.2h0M142.5 441.2h0M122.5 445.7h0M130.8 439.8h0M136.4 446.1h0M124.8 446.0h0M117.2 446.9h0M144.0 442.8h0M119.3 439.7h0M131.3 444.6h0M129.3 447.9h0M146.4 440.7h0M133.8 437.2h0M128.8 439.2h0M149.1 448.2h0M148.1 453.4h0M149.0 464.5h0M195.1 436.7h0M218.1 424.4h0M219.1 424.1h0M198.9 430.8h0M221.1 428.2h0M200.9 429.9h0M206.9 430.7h0M189.4 430.6h0M166.7 436.7h0M210.7 436.9h0M186.4 428.8h0M187.1 428.0h0M232.0 433.2h0M193.5 426.8h0M174.2 429.6h0M213.5 434.1h0M206.7 424.1h0M170.9 434.8h0M192.6 434.3h0M212.1 429.4h0M187.4 427.5h0M240.0 431.6h0M226.0 428.1h0M204.1 435.5h0M234.7 432.3h0M169.2 428.3h0M183.3 435.3h0M234.7 432.5h0M204.4 425.8h0M179.3 429.8h0M209.0 430.9h0M220.9 437.2h0M211.5 428.5h0M170.0 430.3h0M169.3 437.7h0M196.9 430.0h0M167.8 435.6h0M172.9 425.4h0M214.4 429.5h0M199.2 426.6h0M173.0 436.4h0M231.8 431.7h0M194.0 427.1h0M232.3 425.3h0M211.9 429.9h0M212.8 425.3h0M198.1 430.8h0M216.6 434.2h0M184.7 428.3h0M185.8 426.3h0M231.7 429.1h0M181.8 426.3h0M195.3 435.8h0M222.0 425.3h0M191.2 434.4h0M193.8 428.7h0M234.2 434.2h0M182.0 434.8h0M184.5 425.9h0M232.6 434.6h0M187.1 437.2h0M191.2 431.9h0M232.2 433.0h0M190.5 428.5h0M240.8 426.4h0M227.7 434.4h0M229.6 435.5h0M183.4 426.9h0M182.7 425.6h0M222.6 428.9h0M228.1 432.8h0M183.3 429.1h0M181.9 437.5h0M184.7 435.1h0M176.8 436.8h0M197.9 432.4h0M204.0 434.6h0M213.3 437.3h0M170.7 424.5h0M180.9 432.0h0M175.3 426.6h0M186.7 435.1h0M180.4 427.3h0M236.3 434.4h0M194.4 428.7h0M176.9 433.1h0M216.2 433.5h0M239.0 436.7h0M225.7 436.2h0M214.8 430.1h0M194.7 433.6h0M196.6 426.6h0M189.1 425.4h0M226.6 434.0h0M226.4 436.7h0M203.0 434.5h0M230.7 431.2h0M215.1 432.8h0M217.6 434.2h0M186.6 432.0h0M184.6 429.1h0M183.5 435.9h0M234.5 429.2h0M226.1 436.7h0M233.5 435.2h0M227.8 435.1h0M226.5 435.7h0M199.0 437.8h0M223.6 437.9h0M179.0 431.0h0M215.4 429.3h0M169.8 434.3h0M238.5 437.6h0M232.0 432.8h0M178.9 424.4h0M223.8 424.5h0M227.9 430.5h0M169.7 435.0h0M208.7 436.4h0M197.9 429.3h0M212.6 431.2h0M232.5 431.2h0M220.4 425.3h0M182.3 424.0h0M207.9 431.3h0M208.4 431.1h0M167.4 436.1h0M176.4 426.5h0M193.3 435.9h0M179.8 427.8h0M184.3 431.5h0M216.9 433.9h0M238.1 426.0h0M200.7 437.2h0M214.7 437.4h0M223.2 437.6h0M216.7 424.0h0M215.5 433.0h0M166.7 433.4h0M231.3 436.3h0M178.6 426.8h0M180.0 425.7h0M204.5 435.3h0M210.3 427.7h0M222.8 424.9h0M188.4 425.3h0M236.9 433.0h0M213.3 431.5h0M229.4 434.5h0M202.1 435.3h0M171.9 424.0h0M167.5 437.1h0M214.2 436.3h0M198.3 437.1h0M199.4 434.8h0M190.9 429.4h0M179.9 427.5h0M201.8 436.8h0M185.6 429.9h0M233.0 430.8h0M179.9 433.8h0M238.6 433.6h0M230.6 433.7h0M195.1 432.7h0M224.1 431.1h0M209.8 434.7h0M201.3 429.5h0M227.0 427.7h0M228.4 436.7h0M181.6 435.8h0M219.6 453.0h0M179.8 439.3h0M170.9 444.1h0M234.4 459.2h0M235.9 452.1h0M187.3 466.5h0M213.2 454.7h0M168.9 471.1h0M196.1 466.4h0M218.6 455.8h0M193.7 450.3h0M226.0 444.6h0M233.7 447.7h0M177.5 450.2h0M217.4 450.4h0M194.8 443.2h0M180.2 454.9h0M192.9 440.5h0M202.5 470.7h0M232.5 458.0h0M223.0 439.8h0M168.0 449.1h0M171.7 446.2h0M239.6 442.2h0M207.9 455.2h0M211.8 443.3h0M193.1 442.1h0M227.8 464.1h0M207.9 453.2h0M210.5 462.9h0M185.7 454.8h0M223.8 456.2h0M183.1 448.4h0M177.5 453.1h0M210.9 455.2h0M227.9 449.7h0M188.8 469.0h0M189.5 445.9h0M178.4 444.8h0M211.3 449.8h0M223.4 467.4h0M176.7 469.9h0M206.3 458.6h0M206.7 450.4h0M175.3 462.0h0M206.0 469.1h0M187.3 445.7h0M182.0 462.7h0M239.0 464.4h0M174.1 451.6h0M192.5 441.8h0M212.4 460.3h0M196.9 444.4h0M168.9 450.7h0M230.3 457.8h0M184.9 474.5h0M197.4 441.9h0M233.4 438.9h0M237.8 457.6h0M233.8 473.7h0M197.4 437.8h0M221.5 461.7h0M229.0 437.1h0M181.9 458.0h0M237.8 440.8h0M174.9 462.4h0M215.2 450.4h0M184.9 462.2h0M183.2 446.3h0M177.5 439.0h0M235.8 443.3h0M176.9 447.0h0M233.7 442.6h0M179.6 443.9h0M191.4 457.8h0M182.9 453.5h0M239.1 469.0h0M174.3 455.9h0M229.9 457.6h0M189.4 464.4h0M236.5 470.1h0M221.9 459.4h0M186.7 437.5h0M204.5 454.4h0M179.3 437.3h0M197.1 460.2h0M169.5 438.6h0M216.9 457.6h0M210.6 442.0h0M187.3 470.2h0M168.6 439.8h0M235.6 462.4h0M176.6 464.2h0M191.3 447.0h0M169.4 459.7h0M195.3 449.2h0M196.7 446.4h0M206.2 446.4h0M191.0 436.6h0M185.7 462.9h0M224.5 438.9h0M187.8 443.9h0M191.6 439.5h0M203.2 468.2h0M187.4 457.2h0M220.2 454.7h0M173.7 459.3h0M191.0 468.3h0M198.1 461.0h0M186.3 456.5h0M228.4 448.5h0M193.2 456.7h0M198.1 475.5h0M201.5 458.8h0M227.7 455.1h0M183.4 471.5h0M227.6 438.2h0M236.3 438.5h0M186.9 467.6h0M179.9 473.7h0M224.7 438.0h0M190.3 437.0h0M184.1 436.4h0M173.3 459.1h0M212.0 441.5h0M235.4 458.5h0M231.4 462.6h0M210.2 436.6h0M199.4 470.8h0M238.3 446.1h0M215.4 458.2h0M236.8 450.1h0M217.4 449.7h0M218.0 452.1h0M218.4 436.1h0M176.7 453.2h0M185.9 446.6h0M172.4 450.3h0M235.1 442.5h0M239.6 449.4h0M211.4 464.0h0M178.9 475.4h0M176.6 443.9h0M199.9 470.7h0M195.9 460.6h0M181.8 440.0h0M174.1 436.6h0M214.5 471.4h0M225.0 445.4h0M172.2 440.2h0M190.0 462.2h0M189.4 464.3h0M206.9 471.8h0M211.4 456.0h0M197.3 448.5h0M230.3 448.7h0M195.9 444.2h0M189.6 461.4h0M223.1 473.7h0M228.6 439.4h0M231.1 451.5h0M179.9 450.1h0M181.9 439.2h0M201.1 459.8h0M237.7 475.3h0M212.5 447.1h0M212.7 465.1h0M191.3 472.0h0M239.3 446.8h0M180.8 472.8h0M208.1 465.9h0M216.5 461.8h0M226.2 443.8h0M226.5 447.1h0M195.6 440.1h0M187.2 471.8h0M238.5 468.4h0M207.6 439.5h0M188.0 457.2h0M177.6 444.5h0M225.8 466.6h0M229.0 458.9h0M208.9 473.8h0M195.4 465.1h0M215.4 440.0h0M238.6 450.9h0M209.5 459.1h0M224.6 472.5h0M231.5 450.8h0M222.4 443.5h0M202.8 447.3h0M180.5 445.9h0M218.0 442.2h0M227.8 449.8h0M237.3 446.0h0M178.6 456.4h0M175.8 471.8h0M213.7 474.2h0M227.5 442.4h0M173.1 458.8h0M212.1 463.0h0M186.9 442.1h0M239.9 457.3h0M193.8 444.0h0M173.5 450.6h0M224.3 449.0h0M189.4 468.6h0M197.9 445.4h0M177.1 457.6h0M191.6 459.4h0M177.3 449.2h0M186.2 473.2h0M209.5 449.3h0M189.2 449.0h0M215.9 463.7h0M232.8 455.5h0M209.3 465.0h0M169.7 442.1h0M237.1 441.9h0M181.9 465.4h0M192.7 451.5h0M205.7 470.3h0M212.4 445.3h0M192.4 445.6h0M199.5 470.5h0M213.0 450.5h0M200.7 440.4h0M188.1 444.8h0M197.3 466.8h0M195.5 446.6h0M188.7 458.2h0M211.1 469.4h0M204.7 460.4h0M197.4 466.1h0M219.0 475.1h0M226.4 448.0h0M214.6 471.0h0M192.3 458.0h0M235.4 444.1h0M175.1 441.3h0M225.9 449.1h0M198.1 441.5h0M196.3 466.9h0M228.6 458.3h0M215.0 437.8h0M238.1 471.1h0M231.2 459.8h0M176.0 453.7h0M204.0 441.6h0M223.2 454.8h0M173.6 472.7h0M206.9 459.4h0M239.5 454.4h0M184.9 460.3h0M176.1 458.0h0M188.6 460.9h0M192.5 444.0h0M188.3 441.9h0M198.9 436.5h0M227.9 469.3h0M205.1 436.1h0M210.3 446.2h0M175.5 459.4h0M172.3 456.0h0M236.5 472.1h0M192.7 444.5h0M236.2 440.6h0M191.9 442.4h0M213.9 455.9h0M215.5 447.6h0M174.1 454.2h0M172.7 463.5h0M199.6 448.9h0M176.8 462.6h0M189.0 436.8h0M181.8 457.8h0M190.3 472.3h0M200.6 473.4h0M190.1 458.9h0M191.9 475.3h0M202.8 445.4h0M217.0 447.9h0M170.6 453.9h0M239.8 456.4h0M198.8 468.8h0M234.4 453.9h0M168.1 437.9h0M171.8 464.0h0M174.8 444.9h0M233.7 471.3h0M197.4 444.5h0M228.9 447.8h0M217.9 441.5h0M174.0 448.1h0M193.8 460.0h0M191.6 446.7h0M200.4 437.9h0M222.2 459.5h0M173.7 465.4h0M234.7 440.4h0M202.1 453.0h0M194.1 438.7h0M218.1 436.7h0M187.6 451.0h0M219.2 447.5h0M197.7 471.0h0M202.2 436.5h0M181.3 461.9h0M182.3 465.3h0M230.0 452.7h0M209.3 456.0h0M198.2 445.9h0M223.7 446.1h0M233.6 438.1h0M179.1 472.2h0M239.9 437.1h0M168.6 441.5h0M212.1 465.0h0M186.7 454.3h0M185.9 456.5h0M203.4 447.8h0M211.3 442.4h0M199.2 468.0h0M219.3 441.0h0M236.4 447.8h0M179.8 466.1h0M184.8 447.9h0M211.7 474.1h0M197.3 443.0h0M190.4 457.1h0M204.1 457.5h0M218.1 456.0h0M233.4 467.0h0M235.7 437.8h0M226.9 457.8h0M192.7 467.6h0M231.6 438.0h0M219.0 457.9h0M180.2 453.6h0M236.6 452.2h0M185.5 457.5h0M217.0 461.0h0M217.9 464.1h0M233.3 471.9h0M215.9 462.3h0M238.8 476.0h0M171.9 462.6h0M170.3 446.8h0M181.8 441.9h0M209.2 438.8h0M187.5 484.4h0M177.0 483.0h0M216.7 477.1h0M217.1 476.3h0M211.7 489.5h0M195.5 481.4h0M201.3 487.0h0M186.9 482.6h0M233.3 489.4h0M169.7 479.1h0M191.2 483.7h0M208.9 484.8h0M181.3 488.7h0M228.7 476.5h0M202.4 481.8h0M194.7 483.6h0M173.0 485.4h0M188.4 478.3h0M210.1 484.7h0M188.4 487.1h0M171.8 487.7h0M209.4 479.6h0M190.0 483.1h0M228.2 480.8h0M217.3 482.2h0M219.4 481.8h0M231.3 491.1h0M225.6 476.2h0M191.8 491.2h0M208.7 476.5h0M186.8 477.2h0M182.8 479.3h0M183.1 480.6h0M176.4 489.7h0M185.4 489.5h0M184.4 491.0h0M215.9 482.2h0M186.3 476.3h0M171.9 486.0h0M198.3 490.4h0M182.7 477.7h0M217.1 489.2h0M184.2 476.0h0M207.8 487.7h0M181.0 483.9h0M202.5 490.5h0M229.7 490.0h0M190.0 476.7h0M188.0 499.3h0M181.8 498.2h0M247.3 431.1h0M248.2 430.8h0M241.1 433.6h0M249.4 425.4h0M256.7 420.6h0M242.1 431.3h0M257.6 424.0h0M249.6 430.8h0M244.7 420.3h0M258.1 420.5h0M249.3 428.4h0M248.7 429.6h0M247.6 427.9h0M256.5 427.5h0M243.3 428.4h0M244.7 421.8h0M246.0 420.9h0M242.1 424.9h0M255.9 427.7h0M249.6 423.5h0M251.6 422.5h0M256.6 426.2h0M249.7 425.7h0M245.9 423.8h0M250.3 433.0h0M249.8 433.2h0M246.3 420.7h0M245.1 426.7h0M247.3 423.3h0M253.9 424.7h0M243.9 420.4h0M258.5 421.1h0M245.1 420.5h0M245.8 421.8h0M243.2 429.1h0M247.9 421.1h0M247.5 432.4h0M253.0 431.2h0M256.8 423.8h0M245.4 429.7h0M255.2 433.3h0M246.4 421.6h0M248.2 427.8h0M243.3 426.5h0M256.7 424.3h0M247.6 424.0h0M253.3 421.2h0M241.5 429.1h0M253.3 422.8h0M245.0 425.9h0M248.9 433.0h0M252.9 424.9h0M244.0 424.4h0M250.3 433.1h0M255.7 428.2h0M243.9 428.0h0M249.2 423.1h0M244.2 429.0h0M243.5 425.3h0M249.6 427.6h0M249.0 425.6h0M252.3 421.1h0M256.1 432.3h0M253.4 429.7h0M246.9 433.4h0M249.6 424.3h0M252.9 423.9h0M255.8 421.9h0M253.0 424.3h0M249.8 424.6h0M243.3 422.6h0M256.3 423.7h0M246.0 424.1h0M248.1 432.0h0M256.6 426.2h0M244.6 431.5h0M257.1 420.7h0M245.0 422.6h0M242.5 433.3h0M250.0 420.7h0M255.0 421.0h0M248.1 427.3h0M255.8 424.1h0M248.0 422.7h0M255.3 428.5h0M243.0 428.5h0M246.0 422.6h0M243.2 427.5h0M254.0 426.4h0M249.3 431.9h0M252.5 421.0h0M245.2 423.3h0M253.9 427.9h0M258.5 420.5h0M242.4 431.8h0M246.6 433.6h0M256.3 424.6h0M256.0 430.8h0M256.3 423.5h0M245.0 433.3h0M250.9 423.0h0M242.5 420.1h0M248.6 421.0h0M251.1 426.4h0M245.6 420.5h0M248.4 433.7h0M247.4 428.8h0M242.5 428.0h0M242.2 428.8h0M254.7 425.9h0M241.1 432.4h0M258.4 430.0h0M256.8 426.0h0M258.4 424.0h0M254.8 422.0h0M241.0 424.4h0M243.0 424.9h0M246.6 421.1h0M244.2 432.9h0M242.1 423.6h0M257.1 427.6h0M257.0 420.9h0M254.5 427.7h0M245.5 429.0h0M256.0 421.1h0M255.4 433.7h0M246.7 422.3h0M243.2 423.7h0M243.4 430.3h0M248.2 424.7h0M255.6 432.3h0M242.3 423.3h0M248.6 424.4h0M247.2 429.7h0M256.7 432.0h0M243.7 432.4h0M252.5 424.0h0M246.7 427.4h0M252.4 425.8h0M255.5 429.5h0M255.5 423.2h0M255.9 431.7h0M246.2 430.0h0M245.9 422.4h0M243.2 424.4h0M245.5 424.7h0M243.1 433.0h0M254.8 426.4h0M241.8 428.6h0M244.4 433.0h0M248.0 434.9h0M257.7 445.8h0M246.1 440.3h0M241.2 447.6h0M242.8 444.7h0M253.2 439.2h0M247.7 445.9h0M255.7 441.7h0M250.4 444.0h0M253.1 446.4h0M247.2 442.1h0M251.3 447.3h0M253.3 439.6h0M247.6 439.3h0M249.6 443.0h0M255.8 439.7h0M257.4 443.9h0M247.2 441.4h0" fill="none" stroke="#4a49a8" stroke-width="3.70" stroke-linecap="round"/>
<path d="M221.8 428.6h0M228.0 419.0h0M208.8 429.1h0M234.6 429.8h0M224.7 420.9h0M230.4 425.6h0M168.0 419.1h0M167.7 425.2h0M213.8 426.5h0M191.4 426.9h0M231.5 428.3h0M195.7 421.5h0M221.9 419.4h0M184.9 427.8h0M213.4 418.3h0M233.6 420.8h0M230.7 420.8h0M193.9 427.3h0M202.4 423.3h0M206.4 428.1h0M192.2 426.0h0M202.6 428.1h0M238.4 427.4h0M232.1 428.6h0M190.0 421.3h0M217.5 422.3h0M237.2 425.5h0M193.5 425.0h0M229.7 427.3h0M225.9 427.7h0M129.3 419.5h0M119.6 417.9h0M152.3 418.0h0M149.5 416.7h0M127.8 416.9h0M116.2 419.9h0M114.4 418.1h0M126.3 417.4h0M127.6 420.9h0M124.1 420.4h0M115.9 417.3h0M122.2 418.2h0M131.7 418.8h0M118.1 416.8h0M124.1 418.1h0M136.3 417.4h0M158.0 420.1h0M159.2 416.5h0M134.6 421.0h0M119.8 417.2h0M127.4 417.7h0M148.8 416.4h0M134.7 420.6h0M143.3 420.1h0M152.1 416.3h0M148.0 418.6h0M158.6 418.0h0M117.7 419.0h0M128.9 417.7h0M115.0 420.8h0M140.7 417.1h0M145.7 420.1h0M126.6 417.3h0M116.1 419.2h0M137.7 418.1h0M122.1 418.6h0M123.5 418.6h0M133.3 419.1h0M163.1 416.3h0M132.2 416.3h0M258.1 416.7h0M245.5 418.7h0M247.3 417.0h0M245.2 416.2h0M252.4 420.2h0M258.3 416.6h0M248.1 416.7h0M246.7 420.1h0M247.2 417.2h0M241.5 417.0h0M242.6 420.7h0M241.8 417.0h0M246.7 420.2h0M258.3 417.5h0" fill="none" stroke="#bdbdbd" stroke-width="3.70" stroke-linecap="round"/>
<path d="M464.0 413.6h0M429.0 428.0h0M432.9 410.3h0M514.3 419.9h0M510.9 427.4h0M410.3 426.5h0M485.8 409.2h0M405.5 416.4h0M427.4 411.3h0M396.0 421.7h0M475.3 411.2h0M486.0 409.6h0M488.8 411.8h0M492.6 408.5h0M440.5 422.0h0M410.6 412.0h0M386.9 414.7h0M446.7 411.9h0M514.4 414.3h0M447.9 412.6h0M470.9 413.7h0M512.2 421.9h0M504.7 409.5h0M487.9 421.4h0M467.6 413.5h0M418.1 407.7h0M489.1 408.3h0M443.6 426.3h0M483.3 406.5h0M417.0 411.9h0M515.5 425.4h0M408.8 407.3h0M494.9 410.4h0M508.5 411.7h0M407.2 424.8h0M505.1 408.2h0M474.8 427.3h0M469.2 408.3h0M421.2 418.6h0M431.4 423.4h0M418.6 418.4h0M446.9 417.2h0M475.3 415.6h0M486.4 411.3h0M483.2 428.4h0M433.9 414.8h0M432.5 420.3h0M491.1 419.0h0M520.0 427.7h0M416.7 411.1h0M443.0 409.1h0M424.2 426.3h0M520.1 417.3h0M388.6 420.3h0M508.8 419.9h0M491.7 423.6h0M431.9 424.9h0M479.7 421.7h0M437.1 405.6h0M473.7 424.8h0M444.7 406.5h0M511.9 425.3h0M449.1 405.5h0M497.8 423.4h0M465.4 420.3h0M437.4 406.1h0M519.0 422.9h0M413.1 418.9h0M511.0 408.3h0M521.0 425.8h0M502.9 419.2h0M470.1 416.2h0M471.8 427.3h0M513.8 410.2h0M445.8 409.6h0M499.5 426.1h0M492.7 409.2h0M504.2 424.4h0M446.8 410.3h0M475.9 424.3h0M399.0 414.9h0M396.2 419.8h0M401.1 419.5h0M487.3 414.6h0M435.1 417.5h0M511.0 420.5h0M397.2 408.7h0M410.0 426.7h0M501.1 424.5h0M443.8 410.3h0M416.6 410.7h0M493.5 414.6h0M418.5 423.3h0M520.0 417.4h0M424.0 412.8h0M504.2 423.3h0M452.1 410.0h0M514.7 421.9h0M427.0 422.9h0M513.3 407.9h0M427.9 418.7h0M447.8 419.2h0M473.2 427.9h0M462.4 412.4h0M478.4 416.1h0M481.9 427.1h0M423.1 408.5h0M387.5 426.2h0M485.6 413.9h0M468.7 413.4h0M463.7 428.5h0M454.4 414.5h0M513.8 411.2h0M427.1 410.3h0M511.5 421.6h0M409.4 420.2h0M481.7 411.0h0M515.6 416.9h0M407.5 412.1h0M492.0 424.8h0M423.8 413.8h0M394.4 419.7h0M445.5 426.6h0M482.3 411.0h0M425.2 427.5h0M516.8 416.7h0M386.6 420.3h0M423.1 411.8h0M433.2 421.5h0M437.2 422.2h0M427.4 419.2h0M389.2 425.4h0M415.1 416.4h0M422.2 405.8h0M478.6 426.6h0M438.1 418.6h0M485.5 419.7h0M447.1 419.3h0M433.1 406.5h0M408.1 412.1h0M417.7 407.6h0M510.1 420.5h0M448.8 425.2h0M429.3 420.8h0M416.3 424.3h0M506.7 413.2h0M483.0 406.2h0M481.7 415.0h0M496.8 409.4h0M419.4 412.6h0M486.7 411.0h0M396.1 409.7h0M477.6 421.4h0M430.5 419.3h0M477.2 424.5h0M417.4 428.2h0M434.8 411.0h0M478.3 427.2h0M515.3 423.2h0M433.1 418.5h0M409.5 428.0h0M403.4 417.3h0M478.5 406.2h0M509.1 408.4h0M388.6 412.7h0M433.7 421.6h0M409.5 418.6h0M517.4 421.3h0M404.5 405.9h0M395.7 411.2h0M491.8 418.3h0M523.5 420.6h0M492.5 415.5h0M402.0 410.5h0M442.3 412.7h0M457.7 423.1h0M509.7 422.1h0M489.7 411.2h0M394.5 427.5h0M448.5 406.5h0M493.2 410.9h0M460.9 415.6h0M477.8 424.1h0M519.1 418.6h0M520.7 421.1h0M501.2 427.5h0M464.8 414.0h0M428.5 409.7h0M408.2 415.0h0M409.3 418.5h0M474.2 408.6h0M492.4 406.4h0M504.2 422.3h0M511.8 428.3h0M425.8 427.0h0M432.2 414.2h0M413.2 416.0h0M461.0 424.6h0M516.3 428.3h0M490.3 413.7h0M446.3 427.5h0M408.1 421.6h0M502.0 408.9h0M509.4 415.9h0M491.8 405.6h0M426.4 414.9h0M439.9 417.6h0M466.4 423.9h0M512.3 413.1h0M419.6 420.5h0M443.9 420.8h0M394.6 417.6h0M386.7 419.7h0M419.7 416.1h0M497.4 419.6h0M479.0 416.1h0M451.8 426.6h0M442.5 408.1h0M422.7 425.5h0M491.5 422.7h0M453.3 405.8h0M395.9 422.1h0M472.4 413.9h0M522.7 417.2h0M396.3 417.5h0M523.2 422.5h0M400.0 416.7h0M428.5 420.2h0M520.4 410.6h0M519.8 407.1h0M411.7 420.9h0M485.2 428.3h0M470.4 407.3h0M440.9 426.5h0M493.9 414.4h0M473.4 420.6h0M417.2 411.6h0M453.6 421.5h0M483.7 415.6h0M471.6 423.9h0M460.8 411.9h0M487.6 413.2h0M404.8 419.9h0M392.2 407.9h0M390.8 428.0h0M471.5 419.5h0M446.0 428.0h0M501.1 409.6h0M519.7 421.9h0M401.7 410.2h0M438.3 407.4h0M443.9 415.7h0M461.3 416.4h0M511.2 418.4h0M468.7 416.3h0M428.2 410.0h0M477.3 421.3h0M431.5 411.6h0M462.5 412.2h0M399.8 423.5h0M463.7 421.2h0M452.0 422.3h0M474.9 426.8h0M464.1 425.2h0M464.9 410.6h0M487.5 428.0h0M404.6 417.5h0M489.5 418.4h0M471.9 411.9h0M480.8 414.5h0M441.2 418.4h0M398.0 406.3h0M512.9 422.1h0M499.8 413.6h0M520.3 421.5h0M449.5 422.4h0M507.8 419.8h0M506.0 407.2h0M461.8 418.5h0M509.9 413.7h0M498.2 422.0h0M400.4 421.9h0M404.7 417.1h0M442.2 422.4h0M459.5 408.8h0M475.9 424.4h0M463.8 427.9h0M506.6 426.3h0M496.2 424.3h0M400.4 414.9h0M432.9 427.0h0M508.2 418.5h0M490.0 410.5h0M388.5 418.0h0M472.4 425.2h0M403.6 421.2h0M455.4 424.7h0M522.8 406.3h0M396.6 427.9h0M499.4 426.8h0M452.7 417.1h0M520.7 426.8h0M504.3 409.7h0M395.2 413.9h0M474.6 409.4h0M504.4 421.0h0M424.6 426.7h0M483.1 427.0h0M421.2 407.3h0M414.5 423.3h0M431.9 418.4h0M426.5 410.6h0M518.4 426.2h0M418.6 417.7h0M444.6 406.5h0M453.0 414.2h0M481.2 421.3h0M519.5 425.2h0M470.6 410.1h0M504.5 419.2h0M404.3 407.5h0M477.1 426.6h0M410.0 405.7h0M505.9 427.9h0M468.1 418.6h0M405.0 422.9h0M503.0 421.0h0M458.4 417.2h0M453.0 415.6h0M397.4 410.3h0M510.8 412.1h0M456.9 407.7h0M505.0 411.7h0M396.6 420.6h0M479.6 418.2h0M437.9 418.6h0M460.0 417.7h0M472.0 427.3h0M499.7 425.1h0M513.1 411.6h0M409.2 418.4h0M504.3 427.9h0M402.3 411.7h0M387.8 421.7h0M427.7 420.5h0M425.4 421.0h0M492.2 418.4h0M463.2 422.6h0M439.6 414.2h0M494.9 427.1h0M514.8 418.6h0M474.3 413.3h0M476.0 420.3h0M504.6 421.3h0M426.5 426.7h0M523.0 420.2h0M410.5 417.6h0M392.5 413.7h0M499.3 415.3h0M410.2 412.1h0M432.4 419.8h0M456.7 425.4h0M401.6 419.2h0M444.5 410.2h0M434.9 406.3h0M398.1 425.8h0M469.1 412.3h0M448.2 421.4h0M408.2 427.3h0M494.5 427.2h0M442.6 418.3h0M389.8 426.6h0M507.0 414.8h0M442.5 427.2h0M398.9 421.2h0M426.0 407.4h0M421.3 424.3h0M392.3 409.2h0M431.7 428.5h0M409.5 406.6h0M415.6 423.0h0M478.9 409.0h0M408.0 418.0h0M389.2 414.1h0M410.8 425.7h0M426.9 411.8h0M409.0 422.1h0M468.3 427.2h0M507.1 407.0h0M500.3 422.0h0M450.9 407.4h0M494.2 423.5h0M494.8 425.3h0M473.4 408.7h0M496.5 425.9h0M438.3 415.6h0M489.0 412.6h0M458.1 427.8h0M487.7 414.4h0M487.8 410.3h0M395.4 413.1h0M500.8 426.4h0M391.3 428.2h0M445.0 416.0h0M467.4 416.9h0M499.4 419.3h0M394.2 424.9h0M478.5 405.7h0M433.7 423.9h0M391.9 428.0h0M431.9 414.9h0M474.3 415.6h0M397.7 427.6h0M502.8 414.9h0M392.2 414.2h0M419.1 425.3h0M431.6 416.4h0M395.1 420.4h0M513.4 412.1h0M519.0 421.2h0M510.5 414.0h0M413.6 423.6h0M500.7 416.9h0M432.7 426.7h0M425.9 418.1h0M481.0 425.3h0M398.0 415.7h0M387.0 421.0h0M514.1 411.7h0M434.9 419.0h0M495.4 420.8h0M444.8 409.9h0M399.0 418.1h0M451.5 426.8h0M409.8 410.2h0M397.4 416.8h0M388.9 424.8h0M441.3 415.3h0M421.8 406.2h0M432.4 417.6h0M518.3 416.2h0M500.1 426.9h0M483.2 420.8h0M419.8 423.4h0M489.3 414.0h0M482.1 426.2h0M458.8 424.6h0M419.1 407.6h0M414.8 420.8h0M443.9 426.4h0M424.3 420.5h0M507.8 427.9h0M450.3 411.5h0M479.3 419.1h0M509.5 417.8h0M471.6 412.3h0M408.4 423.5h0M430.1 415.5h0M513.0 420.5h0M392.6 423.6h0M416.7 422.3h0M471.2 407.8h0M503.6 406.8h0M498.9 424.4h0M486.6 420.5h0M482.7 408.9h0M437.6 408.5h0M394.7 417.0h0M473.6 409.6h0M396.3 427.0h0M495.9 410.7h0M404.3 427.3h0M389.7 422.0h0M523.5 418.3h0M409.3 421.0h0M466.2 421.5h0M394.8 412.1h0M521.0 416.8h0M388.6 407.0h0M480.7 406.6h0M502.1 427.3h0M427.0 425.1h0M387.4 422.9h0M391.4 407.9h0M394.7 419.9h0M489.9 422.0h0M458.9 415.4h0M509.4 414.2h0M473.1 422.3h0M467.9 405.7h0M414.0 416.4h0M417.0 411.4h0M520.7 415.8h0M517.1 418.3h0M446.4 415.2h0M495.5 425.8h0M485.2 425.9h0M424.4 423.0h0M413.8 423.9h0M489.1 417.1h0M518.5 411.8h0M521.4 424.3h0M435.3 408.2h0M395.3 419.2h0M430.1 420.1h0M395.9 408.0h0M521.9 410.2h0M428.5 421.0h0M502.7 425.3h0M420.1 414.5h0M518.1 417.8h0M453.5 421.9h0M500.8 418.9h0M468.6 416.2h0M491.5 420.2h0M396.3 421.9h0M398.3 424.0h0M435.4 418.5h0M506.8 420.8h0M511.1 410.0h0M483.9 409.2h0M468.5 424.2h0M393.0 410.7h0M513.7 415.6h0M476.9 425.9h0M470.9 408.9h0M501.9 421.2h0M418.8 411.2h0M471.4 420.0h0M480.1 424.4h0M490.1 424.5h0M399.3 423.5h0M486.3 417.5h0M510.2 418.1h0M472.6 409.5h0M409.6 408.2h0M512.4 422.8h0M400.3 406.7h0M417.9 427.0h0M503.7 409.8h0M467.1 422.1h0M432.4 415.8h0M496.6 419.7h0M475.2 423.0h0M402.5 412.3h0M418.2 424.6h0M497.6 422.9h0M497.7 418.9h0M396.5 418.8h0M457.9 414.4h0M484.2 427.9h0M431.0 414.5h0M394.9 411.1h0M443.6 418.4h0M514.7 426.8h0M486.6 426.9h0M415.6 418.9h0M502.3 414.6h0M478.0 422.8h0M426.1 418.4h0M423.2 424.5h0M410.6 424.7h0M441.9 421.7h0M435.7 428.0h0M425.5 420.5h0M506.3 428.0h0M490.8 420.6h0M454.0 410.5h0M518.5 420.0h0M478.8 423.2h0M517.0 415.3h0M499.5 409.4h0M473.4 413.6h0M481.5 423.6h0M492.7 410.3h0M490.3 405.8h0M506.2 425.8h0M433.0 427.9h0M436.2 425.6h0M420.2 424.0h0M512.9 422.4h0M510.4 418.2h0M447.0 420.6h0M441.4 422.7h0M404.5 413.1h0M520.2 410.2h0M478.6 421.5h0M518.6 419.4h0M473.1 428.4h0M456.9 415.1h0M489.1 415.1h0M508.1 408.3h0M502.3 405.8h0M433.8 408.7h0M455.9 419.2h0M516.0 427.8h0M455.8 408.1h0M496.4 409.2h0M458.4 421.3h0M500.6 412.5h0M395.7 406.6h0M386.5 426.0h0M398.8 408.9h0M446.2 415.6h0M436.8 422.9h0M518.0 423.5h0M523.2 427.6h0M404.8 419.2h0M500.9 408.9h0M456.2 407.4h0M501.8 420.4h0M437.0 417.9h0M492.4 411.3h0M386.9 409.3h0M450.5 413.6h0M432.0 412.2h0M420.9 413.7h0M427.6 413.6h0M443.8 422.9h0M454.4 416.2h0M458.4 425.1h0M487.2 417.1h0M499.8 412.2h0M518.3 426.9h0M478.2 420.5h0M421.5 425.0h0M465.8 410.9h0M446.5 428.0h0M418.6 420.2h0M431.9 414.2h0M417.8 411.3h0M460.3 407.8h0M395.4 406.3h0M460.9 410.0h0M442.8 412.7h0M387.2 417.8h0M424.2 414.7h0M519.6 406.5h0M465.9 408.8h0M395.2 405.9h0M465.6 406.4h0M483.0 412.4h0M404.8 420.2h0M441.6 409.0h0M415.7 425.9h0M460.8 428.3h0M499.2 419.7h0M419.2 406.6h0M405.4 409.7h0M405.4 417.3h0M470.7 427.1h0M395.8 428.2h0M458.6 422.5h0M497.5 426.1h0M491.5 407.7h0M478.3 417.2h0M387.8 416.5h0M445.6 410.5h0M419.7 418.5h0M457.0 418.5h0M407.2 427.9h0M404.9 407.0h0M516.9 412.4h0M507.2 409.5h0M399.7 410.7h0M499.9 412.9h0M395.4 414.0h0M432.8 427.6h0M522.8 413.1h0M515.4 416.7h0M450.5 409.3h0M482.7 410.6h0M438.8 410.5h0M502.8 418.6h0M429.7 412.4h0M414.6 411.9h0M406.1 417.6h0M472.9 405.9h0M462.9 425.4h0M510.2 406.7h0M406.5 415.0h0M496.8 428.3h0M515.9 409.4h0M488.8 406.5h0M402.1 416.7h0M407.4 420.1h0M398.4 414.3h0M432.1 410.6h0M490.5 421.5h0M406.2 419.1h0M447.9 413.5h0M392.4 419.7h0M479.4 424.9h0M399.8 417.4h0M495.2 414.5h0M470.4 419.7h0M412.5 417.2h0M482.2 407.8h0M434.2 426.4h0M458.2 408.4h0M462.7 422.7h0M423.6 415.5h0M443.6 423.6h0M494.3 417.6h0M505.0 424.5h0M502.8 416.4h0M464.3 411.2h0M506.1 423.3h0M405.6 424.6h0M521.4 417.1h0M392.5 427.0h0M509.8 421.8h0M495.0 427.0h0M439.9 410.0h0M494.8 427.3h0M517.8 423.2h0M408.8 427.3h0M475.5 413.6h0M386.9 418.3h0M477.5 426.2h0M394.7 421.0h0M478.0 412.2h0M390.0 412.2h0M441.7 427.4h0M505.3 421.0h0M428.4 406.7h0M519.4 411.5h0M451.0 418.4h0M411.3 409.9h0M514.8 416.3h0M407.6 420.9h0M467.9 407.4h0M515.7 411.4h0M515.5 425.8h0M462.6 406.4h0M415.4 408.1h0M455.0 424.4h0M426.4 421.1h0M429.5 416.4h0M429.9 425.3h0M414.0 410.3h0M391.6 405.6h0M489.4 424.3h0M388.1 420.2h0M465.0 413.3h0M436.7 418.9h0M475.5 407.4h0M466.0 412.7h0M452.1 418.6h0M493.0 425.0h0M464.8 412.8h0M509.7 406.9h0M466.7 407.5h0M506.6 412.6h0M504.9 420.0h0M483.3 421.8h0M431.5 421.5h0M453.1 425.7h0M397.1 421.2h0M485.9 421.0h0M475.0 419.2h0M498.7 420.9h0M397.9 422.4h0M403.9 428.0h0M475.0 409.6h0M486.8 420.4h0M396.4 408.4h0M390.5 410.3h0M430.9 426.9h0M432.9 414.9h0M393.4 418.6h0M399.7 410.4h0M414.3 417.3h0M388.2 406.1h0M406.6 418.9h0M389.8 427.5h0M437.1 421.4h0M489.1 420.9h0M477.1 418.3h0M469.3 412.9h0M450.5 423.4h0M412.0 414.5h0M392.9 413.3h0M411.8 418.1h0M516.3 428.0h0M498.1 422.5h0M464.6 421.1h0M470.5 408.5h0M488.6 424.2h0M499.1 415.3h0M419.5 420.0h0M496.5 418.5h0M475.3 423.6h0M424.5 406.2h0M425.8 407.8h0M409.8 412.0h0M461.5 410.2h0M519.3 421.2h0M494.7 408.2h0M409.2 407.6h0M402.7 417.7h0M425.0 407.0h0M408.9 423.8h0M405.9 413.1h0M486.8 412.5h0M429.5 419.3h0M463.9 428.0h0M429.6 412.0h0M521.5 410.7h0M467.6 414.0h0M405.5 423.5h0M493.0 427.1h0M426.1 409.1h0M448.8 406.2h0M425.7 412.6h0M453.5 412.9h0M428.5 422.8h0M430.3 421.2h0M407.9 422.8h0M518.1 414.6h0M414.8 415.4h0M425.1 427.3h0M442.6 406.6h0M402.5 406.0h0M417.8 405.9h0M442.2 424.4h0M466.5 417.5h0M459.9 421.6h0M436.9 420.6h0M479.2 424.3h0M488.7 417.7h0M422.7 413.1h0M419.2 408.1h0M472.2 415.0h0M442.8 410.0h0M500.3 426.9h0M387.6 423.1h0M460.7 412.1h0M434.2 417.3h0M415.5 416.3h0M505.5 419.5h0M416.1 427.4h0M494.6 411.9h0M503.6 419.7h0M519.1 417.2h0M402.3 427.6h0M407.7 410.5h0M397.8 420.5h0M430.3 407.6h0M510.8 418.1h0M474.7 427.7h0M407.6 422.1h0M400.8 406.2h0M489.2 428.2h0M471.9 418.0h0M386.6 418.9h0M466.9 427.3h0M412.4 419.0h0M426.6 410.6h0M400.2 415.4h0M522.4 422.8h0M449.0 414.7h0M471.0 409.4h0M414.3 414.5h0M437.8 407.9h0M475.1 407.8h0M488.8 408.3h0M510.8 417.3h0M420.3 412.9h0M419.2 409.7h0M441.6 422.6h0M428.6 419.6h0M498.8 424.4h0M437.3 409.2h0M437.6 419.8h0M455.3 411.6h0M463.7 416.9h0M434.8 415.8h0M387.5 419.0h0M487.3 418.7h0M402.1 426.7h0M503.6 419.9h0M420.2 413.6h0M421.4 423.9h0M459.8 409.2h0M510.9 423.4h0M438.6 418.8h0M452.3 411.5h0M443.2 422.9h0M401.7 408.1h0M425.9 406.3h0M512.2 411.8h0M515.3 417.2h0M421.3 420.1h0M512.6 412.8h0M388.5 418.9h0M485.0 428.2h0M389.8 428.6h0M444.8 422.2h0M443.0 412.5h0M446.0 416.5h0M515.5 424.2h0M434.7 426.0h0M388.8 427.5h0M401.4 414.5h0M489.2 413.3h0M403.9 413.3h0M394.4 423.6h0M413.1 427.6h0M520.5 418.5h0M447.3 415.7h0M406.6 420.9h0M476.7 415.2h0M438.2 418.7h0M462.2 409.8h0M523.0 407.8h0M482.3 414.9h0M459.7 411.7h0M523.4 409.0h0M455.7 427.8h0M448.5 421.6h0M503.1 414.5h0M517.8 428.4h0M485.1 408.0h0M436.4 413.6h0M441.6 425.9h0M387.5 427.9h0M419.2 423.8h0M493.0 409.8h0M453.4 418.6h0M503.9 407.1h0M478.3 407.0h0M464.0 425.4h0M496.9 405.6h0M454.7 407.7h0M477.9 407.9h0M453.5 421.9h0M434.7 420.0h0M491.3 410.5h0M396.1 415.0h0M520.5 427.5h0M518.2 410.4h0M500.3 407.1h0M450.5 420.4h0M448.1 408.0h0M441.6 418.4h0M449.4 411.4h0M416.7 406.3h0M496.0 420.7h0M507.3 422.9h0M455.0 412.8h0M503.4 409.2h0M426.3 428.1h0M504.3 411.2h0M519.9 411.2h0M478.3 414.0h0M518.5 411.0h0M486.0 411.2h0M481.5 426.9h0M451.3 407.4h0M394.5 424.8h0M403.5 417.9h0M500.0 406.3h0M411.2 409.0h0M480.5 420.6h0M408.3 418.4h0M490.0 411.1h0M517.5 412.2h0M471.2 426.9h0M391.6 422.5h0M487.5 420.8h0M451.6 426.8h0M505.2 410.9h0M406.8 413.1h0M424.8 424.9h0M512.5 415.7h0M501.3 415.8h0M511.1 424.2h0M457.8 428.6h0M478.9 426.0h0M514.4 423.3h0M476.9 415.8h0M398.3 421.8h0M407.6 410.7h0M386.7 411.4h0M401.6 410.2h0M390.0 421.2h0M439.1 427.4h0M471.0 423.0h0M504.5 411.7h0M442.4 420.8h0M408.4 413.6h0M511.1 424.5h0M512.2 416.7h0M520.5 411.3h0M389.5 412.2h0M467.4 407.5h0M472.9 413.8h0M459.7 413.3h0M412.1 416.1h0M512.7 420.7h0M460.0 426.9h0M391.4 424.4h0M433.8 418.8h0M486.2 413.8h0M414.1 409.4h0M492.9 419.2h0M415.1 407.0h0M445.7 406.7h0M426.4 420.3h0M403.8 409.3h0M507.7 425.1h0M433.1 421.0h0M489.5 417.6h0M508.7 427.1h0M425.1 408.5h0M387.1 412.7h0M458.4 417.2h0M418.6 427.8h0M506.3 407.3h0M408.9 419.4h0M485.3 426.7h0M389.8 408.8h0M423.5 421.8h0M413.3 421.5h0M503.3 413.8h0M468.6 417.9h0M476.9 427.1h0M397.6 416.3h0M428.7 416.0h0M508.8 418.5h0M470.5 406.2h0M490.3 424.2h0M455.2 406.7h0M414.5 428.1h0M511.8 427.9h0M422.5 424.4h0M409.6 426.2h0M475.4 419.7h0M398.1 412.6h0M491.3 419.4h0M484.1 421.2h0M438.9 408.8h0M457.0 423.4h0M453.2 412.5h0M396.6 417.3h0M397.2 411.7h0M434.7 412.0h0M387.2 425.7h0M411.8 423.3h0M436.5 406.9h0M472.4 423.3h0M457.1 426.9h0M410.1 421.8h0M490.6 421.5h0M495.4 411.6h0M477.3 421.6h0M480.8 414.3h0M421.1 426.8h0M501.4 421.8h0M466.6 413.0h0M410.7 425.9h0M480.3 423.4h0M472.4 410.1h0M464.4 410.5h0M451.0 405.8h0M491.6 423.3h0M486.5 407.5h0M467.2 411.9h0M395.5 422.5h0M418.1 412.6h0M520.7 412.1h0M441.6 407.0h0M473.2 406.7h0M404.4 418.7h0M464.7 408.7h0M469.9 427.8h0M490.9 406.1h0M519.3 412.8h0M448.9 409.7h0M429.2 426.3h0M408.2 422.8h0M432.2 408.1h0M447.2 406.8h0M518.7 407.4h0M456.5 422.6h0M479.0 422.8h0M487.0 420.1h0M388.2 416.8h0M418.3 416.2h0M460.5 419.3h0M394.2 408.0h0M407.0 423.9h0M489.6 423.5h0M478.9 421.2h0M405.3 410.9h0M402.5 410.5h0M502.1 428.1h0M451.2 427.4h0M429.7 422.8h0M485.0 423.6h0M478.2 416.1h0M522.8 425.8h0M400.5 421.4h0M491.8 415.6h0M449.5 421.2h0M420.4 407.3h0M454.7 414.6h0M389.1 425.0h0M403.4 416.6h0M401.2 418.4h0M481.3 418.5h0M483.6 427.3h0M419.8 410.1h0M428.5 421.2h0M492.4 415.9h0M439.5 410.9h0M434.2 406.6h0M516.1 419.6h0M461.0 409.7h0M460.2 419.0h0M470.1 415.4h0M392.0 414.9h0M441.1 426.0h0M494.6 407.6h0M475.7 418.5h0M508.5 415.1h0M428.9 409.0h0M451.6 414.6h0M418.5 425.5h0M411.8 410.1h0M398.8 421.2h0M413.6 411.7h0M408.8 417.5h0M446.6 418.2h0M442.7 407.2h0M491.2 424.2h0M493.1 414.2h0M460.5 410.3h0M476.5 410.3h0M450.6 428.3h0M428.9 427.3h0M455.4 416.3h0M472.9 411.8h0M517.4 421.9h0M498.4 406.7h0M395.4 425.3h0M474.2 405.6h0M398.8 406.6h0M471.7 413.2h0M502.9 416.0h0M482.3 405.6h0M402.7 412.1h0M444.5 428.2h0M413.1 423.4h0M477.0 406.9h0M483.9 425.8h0M487.5 416.3h0M435.2 428.4h0M468.4 412.9h0M414.9 412.7h0M514.0 421.2h0M515.1 416.8h0M390.5 411.9h0M463.7 417.6h0M484.9 420.2h0M418.0 412.7h0M390.8 424.5h0M386.6 422.8h0M483.4 422.9h0M388.0 420.8h0M439.3 410.8h0M495.9 421.8h0M393.5 409.5h0M483.3 408.8h0M445.5 417.1h0M439.8 409.5h0M452.8 408.4h0M434.6 419.2h0M504.6 428.0h0M478.3 406.8h0M439.5 415.8h0M402.8 407.6h0M455.5 417.9h0M523.5 418.8h0M508.7 416.8h0M395.6 406.4h0M435.2 421.7h0M450.8 417.2h0M442.0 418.7h0M401.7 420.9h0M411.9 426.4h0M459.7 415.5h0M485.3 426.6h0M484.7 409.6h0M478.6 416.0h0M478.8 409.6h0M387.5 414.1h0M416.2 426.4h0M432.5 428.0h0M421.5 416.4h0M439.6 411.9h0M441.1 413.0h0M432.9 426.3h0M387.7 415.6h0M505.1 410.1h0M517.7 424.8h0M470.8 417.3h0M423.8 415.4h0M448.1 426.4h0M511.5 422.7h0M468.6 405.8h0M482.0 427.8h0M482.4 416.0h0M521.0 409.7h0M476.2 426.5h0M401.2 415.2h0M455.7 421.3h0M512.9 422.8h0M404.1 410.0h0M393.3 428.2h0M393.2 418.5h0M395.9 406.8h0M408.8 417.9h0M492.2 405.9h0M468.6 428.1h0M486.8 420.9h0M462.7 414.3h0M434.9 424.0h0M494.3 423.8h0M409.6 421.7h0M435.7 410.9h0M443.3 407.7h0M479.7 425.3h0M490.8 426.0h0M464.1 413.5h0M469.8 414.4h0M424.9 414.8h0M467.7 411.9h0M502.1 427.2h0M446.6 417.8h0M489.5 421.9h0M456.1 419.5h0M456.7 407.6h0M469.8 407.2h0M405.5 408.9h0M415.9 417.0h0M410.4 420.0h0M459.8 428.5h0M478.2 426.3h0M483.4 422.6h0M414.9 414.4h0M432.1 413.5h0M406.3 421.6h0M476.1 413.5h0M444.0 423.2h0M423.8 422.3h0M417.2 408.3h0M516.6 424.1h0M452.4 407.7h0M522.4 412.8h0M430.4 428.0h0M415.9 420.5h0M484.6 425.3h0M511.5 426.9h0M408.8 411.6h0M504.6 423.9h0M467.0 414.1h0M510.5 407.0h0M516.2 408.0h0M444.9 408.4h0M515.5 420.1h0M411.1 420.3h0M447.2 425.1h0M447.2 412.3h0M420.0 423.1h0M452.7 411.7h0M489.6 412.7h0M401.2 420.6h0M452.3 414.6h0M458.5 428.6h0M413.3 412.8h0M474.5 411.0h0M421.0 425.8h0M464.7 425.7h0M464.8 409.3h0M489.1 413.3h0M514.7 417.3h0M513.5 407.0h0M455.2 414.1h0M422.4 423.3h0M419.6 423.2h0M494.3 408.9h0M490.7 412.5h0M495.3 411.7h0M500.7 421.3h0M463.9 408.5h0M509.5 428.3h0M476.5 408.2h0M473.0 417.7h0M501.2 421.7h0M475.8 427.4h0M491.7 419.7h0M514.0 425.3h0M440.6 417.8h0M489.4 410.6h0M427.3 415.2h0M453.1 419.5h0M506.2 417.8h0M520.0 423.6h0M516.4 418.0h0M490.3 414.4h0M502.8 417.4h0M507.7 417.5h0M470.0 405.7h0M419.7 413.1h0M388.7 418.7h0M490.8 422.0h0M490.7 415.4h0M486.7 422.7h0M465.9 417.1h0M476.6 414.0h0M484.9 411.1h0M459.3 423.9h0M476.7 426.8h0M417.1 422.3h0M459.6 410.6h0M472.6 421.8h0M464.4 417.2h0M421.6 426.9h0M403.7 405.6h0M476.2 423.4h0M401.8 416.3h0M495.3 425.3h0M411.3 419.5h0M492.3 405.7h0M435.1 421.5h0M510.1 417.8h0M417.3 411.0h0M407.9 408.3h0M479.0 414.7h0M492.5 418.5h0M434.3 416.5h0M451.1 405.9h0M477.2 408.9h0M426.8 421.2h0M439.7 418.1h0M464.0 422.7h0M427.9 415.1h0M406.3 411.4h0M511.1 423.9h0M403.1 410.5h0M521.8 406.9h0M502.3 414.0h0M447.7 415.9h0M504.5 410.3h0M395.1 427.6h0M463.5 410.8h0M434.8 408.3h0M427.6 420.8h0M509.2 408.8h0M391.6 412.0h0M504.7 415.1h0M397.1 411.8h0M479.3 420.6h0M425.5 408.7h0M458.6 420.4h0M513.3 408.2h0M495.8 418.9h0M399.9 428.1h0M428.2 423.7h0M453.3 427.4h0M484.7 418.1h0M387.1 409.2h0M504.9 414.1h0M501.9 423.4h0M517.6 408.5h0M414.1 420.8h0M415.6 412.9h0M500.7 426.7h0M457.0 413.6h0M420.0 413.0h0M388.6 411.8h0M416.0 418.0h0M479.0 427.5h0M486.9 418.0h0M434.9 422.6h0M512.3 417.5h0M456.3 407.4h0M457.4 419.1h0M440.5 419.2h0M441.7 419.3h0M435.6 412.4h0M499.5 411.7h0M446.7 413.1h0M418.1 406.2h0M446.1 409.2h0M513.4 412.1h0M474.0 417.3h0M400.7 426.6h0M443.8 421.7h0M450.4 417.4h0M388.2 422.1h0M518.3 415.8h0M512.1 406.6h0M400.2 421.4h0M462.1 421.8h0M429.2 420.6h0M415.4 425.2h0M424.0 423.6h0M393.7 424.6h0M480.8 406.6h0M436.6 428.6h0M482.4 419.1h0M498.2 419.2h0M464.9 419.7h0M433.5 411.7h0M405.5 412.5h0M475.7 425.8h0M478.9 419.4h0M493.6 427.7h0M405.2 410.3h0M392.6 419.0h0M507.0 419.4h0M469.6 406.4h0M399.2 420.0h0M483.6 414.4h0M394.0 415.4h0M473.1 409.8h0M462.5 419.2h0M484.5 421.1h0M399.2 426.1h0M511.0 424.9h0M515.4 428.1h0M521.5 428.0h0M491.5 421.7h0M429.1 412.0h0M520.7 418.0h0M470.6 407.4h0M484.9 418.6h0M477.1 412.6h0M414.7 417.9h0M503.4 422.8h0M475.1 406.9h0M416.6 425.7h0M438.2 406.4h0M406.0 416.8h0M445.7 410.5h0M522.2 406.4h0M439.0 416.6h0M440.6 411.6h0M496.6 407.3h0M397.7 424.5h0M402.7 411.2h0M488.7 427.2h0M404.2 419.6h0M470.2 413.7h0M498.4 406.9h0M463.6 425.3h0M397.3 408.0h0M414.6 423.4h0M460.5 417.7h0M517.3 416.0h0M476.1 407.4h0M482.0 415.2h0M468.1 405.9h0M431.1 423.1h0M469.7 421.8h0M387.6 408.6h0M443.2 417.3h0M497.8 409.6h0M414.4 421.9h0M475.3 409.9h0M485.2 409.5h0M407.8 412.1h0M504.1 427.9h0M419.8 424.4h0M518.5 414.8h0M433.6 423.9h0M470.3 413.8h0M516.5 409.8h0M498.9 426.2h0M453.0 406.3h0M413.0 423.8h0M470.7 427.7h0M467.0 407.4h0M395.1 425.3h0M438.8 423.5h0M512.7 406.5h0M458.5 415.8h0M411.2 411.5h0M474.7 414.4h0M448.6 414.3h0M511.8 414.6h0M453.6 405.7h0M389.9 411.8h0M408.5 412.2h0M410.4 420.5h0M516.9 421.6h0M435.6 422.8h0M493.3 405.1h0M514.7 405.1h0M486.5 405.4h0M466.2 405.6h0M443.4 405.2h0M500.8 402.8h0M487.0 403.2h0M453.7 402.9h0M482.8 404.1h0M518.9 402.7h0M490.6 404.4h0M465.8 405.7h0M507.4 405.9h0M473.0 402.6h0M441.3 404.9h0M446.7 403.0h0M520.4 405.5h0M447.8 402.6h0M505.5 402.9h0M442.6 403.6h0M475.4 402.5h0M463.6 404.8h0M468.8 403.2h0M447.6 405.0h0M473.6 405.8h0M503.5 404.1h0M483.9 404.1h0M451.0 406.0h0M507.3 403.6h0M512.8 405.6h0M478.1 405.0h0M470.0 402.5h0M441.5 403.5h0M445.9 405.0h0M471.4 402.7h0M449.5 405.5h0M521.0 405.7h0M493.8 405.2h0M466.2 405.3h0M488.9 404.6h0M454.1 405.3h0M516.7 404.1h0M481.9 403.9h0M498.5 405.0h0M455.2 404.1h0M479.6 403.6h0M499.7 403.4h0M472.4 404.0h0M445.4 403.8h0M479.2 405.1h0M508.9 405.2h0M478.6 405.3h0M521.9 405.5h0M486.8 403.8h0M513.8 403.8h0M442.7 405.4h0M492.8 403.1h0M482.7 405.0h0M469.9 404.3h0M515.4 404.8h0M447.7 404.9h0M480.6 404.8h0M465.6 403.3h0M520.3 402.6h0M505.3 405.8h0M456.8 405.6h0M450.7 404.3h0M442.0 404.8h0M455.0 402.8h0M517.7 404.1h0M513.0 404.6h0M506.9 404.9h0M473.5 403.3h0M480.3 402.8h0M488.1 405.9h0M507.7 405.5h0M440.4 403.1h0M455.2 405.4h0M488.6 405.3h0M451.8 403.1h0M518.4 405.3h0M443.7 403.8h0M521.4 403.7h0M457.9 403.1h0M456.2 404.6h0M475.5 404.6h0M493.3 404.3h0M521.9 402.8h0M479.8 405.3h0M515.1 403.6h0M514.4 403.4h0M522.3 404.7h0M470.1 403.1h0M479.7 405.7h0M441.8 404.8h0M472.1 405.3h0M469.6 403.7h0M450.4 404.0h0M509.6 403.4h0M463.3 403.4h0M450.9 404.0h0M449.7 405.3h0M442.0 404.3h0M503.1 405.4h0M484.5 402.9h0M483.8 403.5h0M474.6 402.6h0M520.6 405.7h0M471.6 402.7h0M479.7 404.4h0M497.7 404.9h0M517.7 403.2h0M511.8 405.9h0M513.7 405.9h0M455.3 403.3h0M519.0 403.0h0M508.9 404.8h0M467.6 404.3h0M507.3 404.6h0M519.7 404.7h0M519.6 397.8h0M502.4 399.8h0M460.6 395.2h0M500.5 403.8h0M473.1 395.8h0M521.4 403.2h0M475.7 400.8h0M433.0 401.8h0M516.0 396.5h0M457.4 403.0h0M507.3 399.6h0M488.0 398.4h0M500.2 396.3h0M499.7 396.1h0M514.9 402.7h0M508.3 403.7h0M491.1 398.5h0M461.9 401.4h0M477.2 401.1h0M457.5 399.2h0M462.8 399.1h0M474.2 399.8h0M470.8 397.8h0M458.5 401.6h0M459.9 398.5h0M460.5 399.3h0M449.5 396.2h0M485.4 403.8h0M440.5 395.2h0M454.7 401.3h0M447.6 400.8h0M496.7 397.8h0M457.6 403.8h0M441.1 394.8h0M507.2 397.1h0M472.1 397.7h0M505.7 400.6h0M461.4 400.1h0M416.6 401.0h0M421.0 402.4h0M396.6 401.6h0M412.3 400.7h0" fill="none" stroke="#bdbdbd" stroke-width="3.70" stroke-linecap="round"/>
<path d="M386.6 437.2h0M398.6 431.0h0M404.0 438.4h0M399.7 428.7h0M401.4 436.5h0M412.1 433.6h0M399.6 436.7h0M420.1 433.8h0M400.6 436.9h0M403.6 435.6h0M403.5 434.9h0M422.2 438.0h0M410.3 429.8h0M424.6 437.8h0M386.5 433.8h0M424.2 435.6h0M394.0 435.2h0M421.9 432.5h0M388.0 433.8h0M420.3 438.2h0M411.4 433.4h0M413.5 437.7h0M401.8 428.7h0M401.7 434.3h0M392.5 435.4h0M391.9 432.5h0M411.1 429.4h0M399.9 436.4h0M387.4 436.1h0M393.0 432.4h0M393.0 429.6h0M394.0 436.9h0M404.3 436.3h0M422.4 436.9h0M409.4 436.7h0M415.7 431.2h0M390.5 434.8h0M413.8 433.2h0M420.6 432.5h0M425.8 432.7h0M414.6 435.3h0M410.4 438.5h0M424.5 433.3h0M391.4 432.2h0M417.8 434.8h0M414.9 434.8h0M415.1 432.6h0M400.4 435.0h0M389.5 435.1h0M391.9 436.0h0M413.2 430.3h0M398.7 435.1h0M424.0 432.7h0M391.1 437.3h0M418.6 434.7h0M405.2 436.6h0M398.0 436.6h0M396.4 430.7h0M400.3 429.4h0M400.9 436.1h0M395.3 429.1h0M395.0 438.0h0M424.9 435.4h0M403.0 432.8h0M411.0 435.2h0M414.2 429.9h0M399.5 434.9h0M423.4 437.7h0M398.0 428.6h0M393.9 437.9h0M388.1 431.7h0M396.7 432.5h0M388.7 437.9h0M411.2 436.5h0M409.1 432.4h0M387.2 438.3h0M424.0 428.9h0M415.2 435.1h0M408.1 433.6h0M423.8 437.4h0M407.3 428.8h0M393.3 431.8h0M417.3 433.3h0M424.2 429.3h0M388.7 435.0h0M406.3 437.0h0M395.3 437.6h0M422.2 430.0h0M390.1 433.6h0M418.3 438.4h0M394.5 429.3h0M411.8 435.6h0M413.8 431.4h0M416.5 437.6h0M388.4 434.6h0M405.5 437.5h0M391.3 429.1h0M391.3 434.6h0M392.7 432.8h0M392.2 429.7h0M423.4 432.7h0M408.5 435.9h0M396.4 434.4h0M405.6 434.5h0M388.5 431.4h0M394.9 433.6h0M411.2 433.0h0M413.9 437.6h0M410.7 437.3h0M425.4 432.9h0M425.2 433.6h0M419.4 431.5h0M404.8 434.2h0M416.4 429.9h0M396.2 438.2h0M402.8 442.4h0M386.7 446.7h0M398.1 438.6h0M424.0 447.4h0M398.6 445.8h0M401.6 440.0h0M425.0 441.1h0M417.5 441.8h0M400.6 443.9h0M392.8 448.0h0M401.8 448.7h0M401.1 444.8h0M421.8 439.6h0M407.7 448.8h0M423.0 448.6h0M425.4 439.4h0M420.8 445.5h0M402.4 445.5h0M401.8 445.4h0M408.0 446.1h0M413.3 438.6h0M420.0 441.7h0M418.8 442.0h0M398.7 445.3h0M415.5 439.5h0M453.0 434.8h0M443.1 438.9h0M430.6 438.9h0M472.2 430.8h0M445.9 436.0h0M473.1 437.9h0M446.1 437.5h0M503.3 435.2h0M436.9 434.6h0M501.3 435.3h0M490.2 433.5h0M441.4 435.2h0M462.9 438.8h0M463.3 432.8h0M470.4 433.8h0M491.9 433.8h0M427.5 438.5h0M442.2 431.7h0M494.2 433.8h0M435.1 437.3h0M508.4 433.3h0M462.2 438.4h0M429.5 434.9h0M501.0 430.1h0M449.9 433.0h0M523.5 430.6h0M516.0 433.8h0M512.4 433.0h0M512.3 432.7h0M433.2 438.1h0M428.6 438.9h0M465.1 437.3h0M467.0 437.4h0M465.9 438.8h0M484.2 439.1h0M502.5 430.9h0M502.9 438.9h0M516.8 430.8h0M492.0 432.0h0M511.6 437.7h0M434.9 430.6h0M428.5 439.6h0M470.1 439.2h0M512.2 429.0h0M463.6 436.0h0M436.8 439.2h0M438.3 434.9h0M448.3 434.9h0M510.3 435.5h0M458.8 435.1h0M509.9 435.4h0M518.0 436.5h0M501.6 439.5h0M516.1 429.9h0M450.9 431.6h0M445.0 429.1h0M449.6 429.7h0M427.7 431.2h0M516.8 438.9h0M446.1 432.5h0M487.5 435.6h0M453.8 432.4h0M478.7 439.9h0M468.5 431.1h0M496.4 433.3h0M445.6 433.1h0M454.2 431.4h0M439.5 429.8h0M457.7 433.3h0M507.4 431.2h0M520.0 429.3h0M427.5 438.7h0M508.5 432.8h0M497.6 429.1h0M433.7 435.8h0M441.7 434.3h0M510.5 436.6h0M445.0 433.0h0M514.6 430.5h0M478.7 436.0h0M522.1 433.4h0M475.3 438.6h0M438.8 432.6h0M485.2 431.4h0M469.5 431.0h0M432.9 431.8h0M505.9 431.6h0M513.8 434.7h0M520.1 433.1h0M488.9 439.7h0M482.9 431.2h0M445.0 439.3h0M520.1 432.7h0M497.7 434.3h0M491.2 439.6h0M493.8 437.6h0M508.1 439.4h0M459.5 434.9h0M436.9 432.5h0M522.7 436.4h0M429.1 436.5h0M452.5 429.5h0M474.0 430.2h0M429.9 439.4h0M456.3 436.9h0M510.9 438.1h0M487.0 431.1h0M483.0 439.7h0M427.8 432.3h0M467.7 430.5h0M437.9 433.0h0M463.8 432.9h0M463.9 429.6h0M467.4 438.3h0M456.8 438.6h0M502.2 431.2h0M471.2 435.1h0M514.6 438.6h0M459.6 433.2h0M440.0 434.6h0M460.7 431.7h0M511.1 434.1h0M461.0 432.4h0M506.1 438.1h0M493.6 430.8h0M451.2 429.4h0M444.7 438.9h0M437.0 430.9h0M469.9 435.0h0M493.8 436.8h0M454.7 432.6h0M519.2 439.2h0M427.4 432.7h0M502.7 431.2h0M442.6 429.7h0M523.4 438.9h0M435.6 431.4h0M515.9 438.9h0M465.2 434.0h0M454.0 439.3h0M430.0 430.0h0M447.4 438.4h0M463.4 439.8h0M517.3 436.8h0M520.4 430.5h0M433.8 440.0h0M480.8 437.8h0M429.2 431.3h0M436.1 439.7h0M486.1 429.9h0M438.7 446.9h0M427.5 440.8h0M483.8 443.5h0M465.4 446.8h0M434.4 441.7h0M474.1 448.3h0M512.0 446.2h0M435.0 442.7h0M488.4 446.5h0M442.5 445.4h0M475.9 440.4h0M459.4 448.5h0M452.9 448.6h0M427.2 450.9h0M482.5 451.3h0M469.3 444.4h0M493.5 447.7h0M444.0 447.3h0M522.0 440.6h0M427.9 448.7h0M445.1 443.3h0M488.6 445.1h0M439.1 447.4h0M451.4 446.1h0M475.0 443.4h0M499.8 450.5h0M510.4 441.1h0M456.9 447.2h0M490.2 442.2h0M428.3 451.1h0M512.9 451.2h0M491.6 448.6h0M514.1 450.6h0M446.5 449.2h0M474.5 447.8h0M498.6 449.0h0M428.5 450.9h0M508.1 442.6h0M495.1 448.8h0M502.9 442.2h0M441.9 445.5h0M501.8 444.1h0M481.3 447.6h0M440.6 447.7h0M438.9 450.8h0M509.7 450.1h0M464.9 440.8h0M452.6 442.1h0M461.9 440.5h0M492.8 448.5h0M439.3 444.2h0M441.8 451.7h0M489.4 442.6h0M513.3 451.5h0M491.6 449.1h0M518.2 449.1h0M453.6 447.3h0M460.6 450.6h0M462.4 442.8h0M461.0 450.4h0M452.2 450.6h0M503.4 447.3h0M453.7 447.9h0M466.6 442.7h0M472.1 445.9h0M523.2 447.0h0M458.2 443.8h0M493.4 440.5h0M458.0 451.4h0M504.1 449.7h0M463.8 444.4h0M428.1 446.4h0M477.1 447.1h0M458.9 451.5h0M451.8 446.7h0M454.6 448.7h0M426.2 449.6h0M497.3 441.2h0M479.5 447.0h0M488.1 451.2h0M481.6 449.9h0M463.2 451.1h0M470.8 441.9h0M472.5 449.3h0M515.5 443.3h0M460.0 450.5h0M440.9 449.4h0M434.2 444.5h0M458.9 447.0h0M481.9 445.6h0M482.9 451.3h0M497.0 446.6h0M490.4 440.9h0M434.1 446.4h0M464.0 440.2h0M462.1 441.6h0M437.0 445.9h0M483.4 445.5h0M501.6 440.8h0M430.2 444.1h0M477.7 443.4h0M437.7 443.4h0M501.8 445.3h0M480.5 440.4h0M432.4 440.4h0M476.3 442.8h0M449.5 448.6h0M446.2 451.2h0M491.1 449.1h0M465.5 440.9h0M516.6 449.9h0M515.4 449.8h0M509.3 450.1h0M466.0 448.7h0M514.3 443.1h0M433.0 445.9h0M501.7 445.3h0M461.0 440.4h0M510.5 446.5h0M428.9 443.2h0M519.0 456.8h0M491.0 454.6h0M505.0 453.8h0M429.2 452.7h0M495.5 453.1h0M504.4 458.8h0M471.0 455.6h0M450.6 460.7h0M473.5 454.0h0M479.7 461.3h0M468.3 453.9h0M457.1 454.7h0M491.3 455.4h0M513.0 454.6h0M452.2 456.2h0M512.1 460.0h0M431.4 452.7h0M493.1 454.4h0M459.6 452.5h0M477.2 459.8h0M460.6 453.2h0M433.9 457.1h0M442.2 460.7h0M522.3 455.2h0M466.6 453.2h0M518.7 454.7h0M476.7 461.4h0M513.7 453.0h0M469.4 460.6h0M522.8 453.2h0M417.5 474.9h0M420.7 463.6h0M425.6 471.0h0M462.0 469.0h0M478.5 466.8h0M485.5 490.6h0M497.8 484.9h0M506.8 463.2h0M519.5 472.0h0" fill="none" stroke="#4a49a8" stroke-width="3.70" stroke-linecap="round"/>
<path d="M451.9 435.5h0M470.2 438.0h0M466.2 435.3h0M456.6 433.7h0M468.1 434.6h0M451.4 436.3h0M473.4 437.8h0M464.3 437.3h0M475.4 438.0h0M464.9 435.5h0M464.2 435.0h0M472.7 435.4h0M464.5 438.1h0M449.6 434.4h0M465.4 432.4h0M455.8 434.5h0M466.1 436.2h0M476.9 437.4h0M465.3 438.1h0M472.0 436.5h0M457.6 437.3h0M447.4 437.3h0M448.4 437.3h0M447.5 435.9h0M453.5 438.1h0M455.1 437.8h0M456.6 432.1h0M466.6 432.8h0M469.5 438.4h0M470.1 436.3h0M469.6 432.9h0M472.6 437.9h0M468.6 432.6h0M460.8 435.5h0M459.4 434.5h0M449.4 433.9h0M447.4 433.6h0M472.7 432.6h0M451.5 434.5h0M472.9 432.7h0M459.0 436.1h0M448.8 434.1h0M471.9 437.0h0M468.4 438.1h0M476.9 437.8h0M512.2 437.9h0M513.7 438.0h0M488.8 438.7h0M520.6 436.1h0M506.3 436.8h0M505.1 434.1h0M509.8 436.3h0M492.3 432.8h0M502.5 440.1h0M489.9 439.9h0M518.7 432.6h0M503.5 432.1h0M490.3 435.4h0M520.5 436.5h0M506.5 436.1h0M512.8 434.9h0M514.5 437.3h0M510.6 435.4h0M501.5 435.5h0M495.6 432.3h0M487.4 437.0h0M508.0 432.7h0M489.5 439.3h0M498.8 436.1h0M517.6 435.0h0M518.1 437.6h0M515.2 439.5h0M492.5 433.4h0M519.5 435.4h0M490.6 440.3h0M518.7 439.3h0M512.5 435.3h0M520.5 435.1h0M521.0 438.9h0M504.5 432.7h0M496.8 433.0h0M518.7 436.9h0M496.8 436.8h0M497.5 436.8h0M506.0 438.5h0M490.6 439.5h0M502.0 435.4h0M490.5 434.8h0M501.9 439.2h0M518.3 434.1h0M518.7 439.4h0M520.1 438.0h0M511.7 439.2h0M512.4 437.4h0M500.9 432.9h0M517.8 438.1h0M490.3 436.2h0M491.5 433.6h0M489.8 432.9h0M500.2 434.2h0M487.7 433.1h0M510.9 433.2h0M492.1 439.2h0M510.4 440.1h0M505.8 440.5h0M463.1 426.2h0M464.0 425.8h0M394.5 429.2h0M402.6 427.9h0M492.1 425.8h0M464.7 424.9h0M464.1 426.3h0M489.7 429.6h0M498.0 429.0h0M483.8 425.3h0M387.8 427.6h0M461.0 424.0h0M501.0 429.4h0M498.8 429.7h0M516.6 425.3h0M457.6 426.1h0M458.0 425.8h0M389.7 425.1h0M456.7 428.1h0M463.7 426.3h0M512.3 424.0h0M507.8 425.3h0M394.9 428.0h0M405.8 428.2h0M438.8 424.1h0M493.4 427.3h0M409.1 427.8h0M492.6 427.8h0M467.7 427.9h0M506.8 428.7h0M433.3 426.0h0M441.5 429.1h0M394.6 426.6h0M457.4 424.4h0M492.7 427.9h0M456.8 426.1h0M457.9 427.8h0M512.0 426.2h0M491.6 427.0h0M429.5 427.3h0M516.0 428.2h0M485.8 425.8h0M427.6 428.0h0M415.3 425.4h0M479.1 428.7h0M455.9 425.4h0M468.5 424.4h0M404.0 424.2h0M491.4 427.6h0M504.5 425.9h0M443.9 427.4h0M428.1 425.9h0M520.2 426.6h0M520.2 429.2h0M403.4 429.5h0M460.5 424.3h0M446.3 429.7h0M424.8 427.0h0M457.6 428.4h0M478.0 429.6h0" fill="none" stroke="#bdbdbd" stroke-width="3.70" stroke-linecap="round"/>
<path d="M412.2 429.6h0M438.8 431.2h0M508.1 434.8h0M457.6 434.3h0M509.5 432.9h0M501.4 431.8h0M523.4 432.5h0M477.0 429.1h0M395.5 429.9h0M510.2 431.5h0M411.7 430.0h0M407.8 430.6h0M437.0 434.6h0M414.7 434.4h0M405.5 434.1h0M473.9 433.0h0M511.2 435.5h0M422.5 430.6h0M437.7 433.3h0M474.3 431.9h0M427.5 435.6h0M454.0 431.4h0M511.6 430.7h0M402.4 434.4h0M459.7 434.7h0M415.6 434.0h0M492.5 434.5h0M414.9 430.3h0M497.6 433.2h0M441.6 432.8h0M514.1 435.4h0M436.1 431.8h0M454.0 430.7h0M400.9 431.2h0M424.4 432.6h0M443.4 435.9h0M508.9 433.9h0M466.8 434.0h0M497.5 432.3h0M503.5 431.8h0" fill="none" stroke="#4a49a8" stroke-width="3.70" stroke-linecap="round"/>
</g>
<g id="panelD">
<text x="565.2" y="234.8" font-size="19.5" text-anchor="start" fill="#000">D</text>
<text x="824.3" y="248.7" font-size="16.5" text-anchor="middle" fill="#1a1a1a">Cas9 B2M naive CD4 T:chr15 loss</text>
<text x="828.5" y="420.6" font-size="16.6" text-anchor="middle" fill="#1a1a1a">ABE PDCD1 naive CD8 T: chr10 parital loss</text>
<text x="608.2" y="301.5" font-size="11.0" text-anchor="middle" fill="#2a2a2a" transform="rotate(-90 608.2 301.5)">Mean CNV</text>
<text x="682.8" y="263.9" font-size="11.3" text-anchor="middle" fill="#2a2a2a">day3</text>
<text x="624.2" y="293.9" font-size="11.4" text-anchor="end" fill="#2a2a2a">1.1</text>
<circle cx="626.8" cy="289.8" r="0.6" fill="#444"/>
<text x="624.2" y="320.4" font-size="11.4" text-anchor="end" fill="#2a2a2a">1.0</text>
<circle cx="626.8" cy="316.3" r="0.6" fill="#444"/>
<text x="624.2" y="346.9" font-size="11.4" text-anchor="end" fill="#2a2a2a">0.9</text>
<circle cx="626.8" cy="342.8" r="0.6" fill="#444"/>
<text x="672.2" y="381.6" font-size="11.6" text-anchor="middle" fill="#2a2a2a">22.50%</text>
<path d="M740.4 319.7h0M683.0 317.4h0M644.2 322.8h0M722.3 318.8h0M653.3 312.4h0M675.8 319.2h0M702.3 317.9h0M728.5 324.1h0M630.0 318.0h0M707.1 317.4h0M645.5 319.5h0M704.6 318.9h0M701.4 313.6h0M690.9 318.5h0M680.1 317.0h0M693.8 322.6h0M743.5 325.8h0M671.3 314.5h0M685.5 315.0h0M646.8 315.4h0M675.6 316.0h0M635.4 315.9h0M737.8 318.3h0M670.4 321.6h0M741.2 313.9h0M645.3 313.2h0M708.2 312.2h0M701.1 321.6h0M708.1 322.3h0M724.1 313.2h0M638.1 312.9h0M717.5 318.5h0M632.3 321.6h0M665.2 321.3h0M730.4 318.7h0M697.3 320.3h0M740.4 319.1h0M732.1 316.3h0M679.7 324.2h0M662.8 318.1h0M653.5 314.5h0M634.2 316.6h0M714.7 313.2h0M725.4 318.2h0M634.9 321.6h0M687.9 314.1h0M728.4 321.7h0M705.6 324.8h0M678.9 319.3h0M742.6 314.4h0M679.7 315.4h0M666.5 317.0h0M688.6 314.0h0M670.6 314.1h0M676.0 317.3h0M688.5 317.5h0M638.5 320.0h0M701.3 314.3h0M698.8 324.1h0M714.2 321.5h0M658.2 321.0h0M634.1 316.0h0M713.7 323.7h0M673.3 317.0h0M700.6 323.9h0M661.5 321.5h0M670.8 315.2h0M660.6 316.6h0M688.0 324.1h0M706.5 321.3h0M657.3 317.6h0M666.9 318.8h0M684.4 318.7h0M712.4 315.6h0M673.3 317.5h0M636.6 316.0h0M691.2 316.7h0M683.4 319.6h0M748.2 315.0h0M698.5 320.4h0M634.7 318.5h0M706.1 320.5h0M639.1 321.0h0M673.7 322.1h0M633.4 320.1h0M700.9 320.4h0M649.8 317.5h0M741.9 319.9h0M652.3 315.2h0M744.8 317.3h0M738.3 320.5h0M691.0 317.9h0M684.6 319.5h0M675.7 314.7h0M718.6 322.5h0M651.6 316.3h0M671.5 319.4h0M636.2 318.0h0M680.2 321.1h0M652.0 316.9h0M739.0 314.9h0M683.0 312.0h0M655.8 317.1h0M661.9 314.3h0M650.5 319.8h0M639.8 322.7h0M635.6 311.0h0M714.7 314.0h0M641.7 319.1h0M729.7 322.1h0M744.7 319.1h0M738.4 319.1h0M650.3 319.7h0M723.9 319.9h0M700.5 323.4h0M742.1 320.1h0M664.2 314.1h0M701.5 316.6h0M702.8 318.8h0M651.8 315.5h0M700.9 317.3h0M715.8 316.4h0M725.5 315.9h0M731.4 320.3h0M632.4 316.9h0M719.8 314.6h0M667.9 315.8h0M720.6 318.2h0M647.3 324.9h0M674.1 318.9h0M677.7 322.9h0M712.2 319.7h0M702.7 311.2h0M726.4 319.3h0M629.9 315.4h0M663.2 313.7h0M717.1 314.6h0M657.8 323.9h0M729.9 313.0h0M666.3 316.1h0M708.8 321.8h0M635.8 320.2h0M738.6 312.6h0M642.6 317.7h0M678.3 316.4h0M675.7 317.5h0M665.4 320.5h0M693.2 316.2h0M691.8 317.1h0M724.0 322.8h0M745.3 312.2h0M724.8 316.9h0M715.6 319.6h0M652.8 314.1h0M654.5 316.1h0M630.7 313.9h0M640.3 318.6h0M722.7 316.1h0M636.0 320.6h0M661.4 321.4h0M675.0 318.2h0M648.0 316.9h0M669.8 318.9h0M659.3 318.3h0M678.1 314.2h0M650.5 321.5h0M632.3 318.8h0M737.7 320.6h0M717.9 313.7h0M721.2 320.9h0M659.6 324.9h0M741.4 320.1h0M728.7 313.4h0M678.0 318.2h0M663.8 317.9h0M723.9 318.8h0M631.7 317.3h0M697.5 319.7h0M732.8 316.6h0M738.1 318.8h0M739.6 315.9h0M680.4 318.4h0M631.1 321.3h0M671.0 316.5h0M661.5 320.2h0M698.3 315.2h0M715.8 316.9h0M746.2 317.3h0M667.3 322.1h0M672.5 315.6h0M639.5 322.0h0M728.7 313.3h0M688.7 317.6h0M657.0 321.0h0M689.2 320.3h0M687.1 314.8h0M726.8 314.1h0M656.6 320.9h0M689.7 314.0h0M682.3 319.9h0M641.2 316.4h0M645.7 318.0h0M657.9 325.6h0M681.1 323.1h0M695.5 320.8h0M718.2 313.6h0M737.9 319.1h0M640.1 318.2h0M745.4 317.7h0M678.5 322.4h0M722.4 312.5h0M668.9 319.1h0M716.4 318.5h0M711.1 315.6h0M631.5 323.7h0M733.3 314.0h0M634.4 318.2h0M688.0 318.3h0M655.1 311.0h0M699.8 313.4h0M650.9 314.9h0M701.9 320.6h0M721.1 321.1h0M700.1 320.0h0M729.2 318.8h0M674.7 310.9h0M709.0 318.8h0M682.6 316.4h0M738.5 321.9h0M640.5 322.4h0M733.0 325.3h0M630.8 320.4h0M731.3 320.7h0M639.4 314.7h0M712.4 318.3h0M641.3 314.1h0M722.4 321.0h0M655.8 314.2h0M637.6 317.4h0M733.1 315.4h0M698.0 316.5h0M730.4 319.5h0M723.8 316.2h0M640.5 318.8h0M640.7 314.8h0M714.6 322.6h0M730.2 316.0h0M650.7 321.3h0M735.1 325.0h0M632.3 310.1h0M721.0 314.8h0M704.1 317.4h0M675.2 321.8h0M674.8 316.5h0M665.9 319.3h0M686.0 315.7h0M688.9 319.9h0M648.9 314.1h0M630.8 320.8h0M692.1 311.9h0M651.9 323.9h0M640.9 318.6h0M659.3 315.1h0M646.4 325.2h0M732.5 321.5h0M663.9 321.7h0M706.5 316.7h0M630.4 320.1h0M708.1 319.7h0M743.1 312.6h0M719.4 320.0h0M720.4 317.4h0M679.1 322.2h0M686.2 322.3h0M736.8 315.9h0M657.5 316.1h0M689.6 318.7h0M716.3 320.2h0M669.5 316.7h0M685.6 317.7h0M633.4 320.0h0M710.7 319.4h0M649.2 321.8h0M660.1 318.8h0M656.1 315.1h0M714.9 312.3h0M676.9 320.7h0M747.9 316.9h0M724.6 316.9h0M739.5 317.1h0M711.2 312.9h0M656.7 316.7h0M667.9 309.5h0M672.6 316.7h0M653.4 315.1h0M684.9 324.0h0M723.7 319.5h0M691.5 317.3h0M649.1 318.5h0M716.7 320.4h0M744.4 315.5h0M685.9 317.3h0M646.1 316.9h0M716.4 326.2h0M693.6 318.3h0M725.7 311.6h0M701.5 320.6h0M733.3 326.5h0M630.9 314.9h0M706.9 317.8h0M701.0 321.3h0M722.2 316.2h0M655.3 317.1h0M699.1 314.0h0M661.1 314.5h0M719.3 311.0h0M638.7 321.8h0M648.0 314.2h0M742.1 319.2h0M717.3 319.1h0M659.3 315.9h0M666.5 318.2h0M681.0 317.7h0M657.1 316.4h0M645.9 318.2h0M745.0 318.2h0M654.5 314.6h0M718.5 313.7h0M715.0 315.2h0M717.0 318.4h0M665.4 322.6h0M655.8 322.8h0M702.8 319.0h0M748.1 321.1h0M675.6 318.4h0M655.3 321.6h0M689.9 318.4h0M651.9 319.3h0M670.6 317.1h0M717.0 318.0h0M658.2 324.3h0M682.7 314.0h0M706.0 318.0h0M648.2 316.0h0M646.4 321.2h0M744.4 324.0h0M732.8 317.0h0M734.8 308.8h0M697.5 320.0h0M689.4 320.0h0M642.2 312.4h0M657.9 317.2h0M642.6 317.8h0M692.8 310.3h0M681.2 320.2h0M649.8 319.4h0M641.0 318.8h0M697.8 314.5h0M646.1 315.6h0M630.7 315.9h0M656.1 319.6h0M725.1 314.7h0M707.7 322.8h0M691.0 319.2h0M656.1 310.8h0M685.0 323.6h0M630.4 318.5h0M668.0 316.1h0M686.4 318.3h0M640.1 311.9h0M698.5 318.6h0M682.0 309.8h0M635.7 314.6h0M646.8 322.5h0M687.5 322.2h0M736.3 316.8h0M636.0 314.7h0M696.3 321.1h0M663.2 317.8h0M675.6 318.7h0M739.3 320.0h0M704.4 314.4h0M663.1 320.6h0M683.1 310.9h0M746.4 322.8h0M732.8 312.7h0M680.0 315.9h0M692.4 315.7h0M683.9 320.4h0M647.2 320.4h0M744.7 319.1h0M656.6 319.7h0M655.4 319.5h0M642.4 317.7h0M741.7 311.6h0M738.4 310.3h0M705.3 310.3h0M692.3 317.8h0M698.6 317.2h0M673.4 317.5h0M735.5 318.7h0M695.7 317.1h0M731.4 314.6h0M712.1 312.9h0M710.3 311.6h0M709.3 322.0h0M721.8 321.0h0M726.3 313.4h0M710.8 317.0h0M667.5 319.4h0M660.6 323.2h0M652.6 315.9h0M731.4 318.5h0M687.2 321.8h0M629.2 312.1h0M700.7 315.5h0M732.3 317.8h0M738.9 315.5h0M741.3 325.0h0M732.9 320.8h0" fill="none" stroke="#c2c2c2" stroke-width="2.44" stroke-linecap="round"/>
<path d="M648.0 319.8h0M680.1 318.9h0M649.6 319.1h0M677.8 320.4h0M629.9 315.7h0M684.0 315.2h0M683.3 318.2h0M746.5 317.7h0M674.5 320.4h0M692.7 316.9h0M647.2 319.1h0M662.9 319.2h0M656.6 316.4h0M745.4 315.1h0M644.4 317.5h0M705.9 316.2h0M728.5 316.1h0M741.7 317.8h0M713.4 316.1h0M650.8 318.4h0M739.0 318.7h0M690.8 317.8h0M692.2 318.4h0M735.7 316.2h0M631.1 318.5h0M715.1 320.1h0M720.1 320.1h0M709.2 315.7h0M652.4 316.9h0M738.3 319.3h0M657.8 318.5h0M667.9 317.3h0M728.9 320.0h0M739.1 320.4h0M660.7 318.4h0M686.4 316.5h0M730.7 320.8h0M693.5 317.9h0M656.4 317.1h0M673.5 315.8h0M704.7 320.7h0M715.6 319.1h0M666.0 315.4h0M651.8 316.1h0M722.4 320.5h0M665.4 315.5h0M658.6 319.1h0M663.6 318.4h0M656.8 318.0h0M645.2 319.1h0M675.2 317.0h0M651.7 318.8h0M706.5 320.3h0M641.5 318.4h0M671.8 318.1h0M742.4 318.7h0M683.9 316.1h0M735.7 317.0h0M656.4 319.3h0M723.0 318.4h0M639.5 315.7h0M742.8 320.2h0M744.1 317.5h0M711.8 316.5h0M653.4 315.9h0M719.7 320.5h0M725.2 319.4h0M707.3 316.9h0M721.9 316.2h0M659.5 320.1h0M722.4 315.9h0M656.1 318.1h0M689.6 319.0h0M676.4 320.6h0M654.7 319.1h0M660.0 315.6h0M734.9 318.1h0M636.6 320.5h0M687.9 316.6h0M686.8 315.5h0M642.5 315.4h0M639.2 320.0h0M681.3 320.6h0M672.0 317.8h0M660.1 316.8h0M659.7 317.4h0M656.5 316.1h0M705.4 317.6h0M745.9 317.8h0M665.8 318.2h0M676.9 315.6h0M712.5 320.8h0M665.9 318.8h0M644.3 318.4h0M706.7 320.0h0M671.6 315.3h0M629.7 318.5h0M668.4 317.2h0M734.2 318.8h0M635.5 320.6h0M735.6 315.4h0M702.6 316.0h0M728.6 317.1h0M696.2 318.2h0M714.0 320.0h0M735.0 319.4h0M649.7 318.3h0M642.3 316.2h0M697.4 318.0h0M686.4 317.6h0M691.3 315.7h0M672.2 320.5h0M746.2 320.0h0M701.3 318.7h0M702.1 316.5h0M632.6 318.5h0M662.2 316.9h0M662.9 318.9h0M747.7 315.2h0M645.6 318.6h0M689.5 318.4h0M716.5 320.6h0M703.4 318.4h0M720.1 319.7h0M672.4 316.3h0M648.7 318.3h0M656.4 316.9h0M694.8 320.9h0M691.3 320.7h0M677.7 316.5h0M738.9 318.7h0M677.1 315.4h0M654.6 318.3h0M701.0 320.9h0M698.7 315.8h0M722.9 319.4h0M696.0 318.1h0M630.1 321.0h0M687.0 317.5h0M651.2 320.0h0M657.2 318.6h0M721.1 319.8h0M744.2 320.1h0M733.4 318.9h0M657.3 317.1h0M680.1 318.6h0M732.0 319.7h0M729.7 319.9h0M636.1 318.8h0M662.5 317.7h0M699.9 315.5h0M652.6 315.7h0M631.6 318.9h0M655.6 317.4h0M693.9 319.1h0M714.5 318.1h0M717.3 317.4h0M696.8 316.2h0M700.7 320.1h0M691.4 316.6h0" fill="none" stroke="#c2c2c2" stroke-width="2.44" stroke-linecap="round"/>
<path d="M633.0 289.8h0M636.5 289.8h0M642.7 289.8h0M652.8 289.8h0M657.2 289.8h0M662.7 289.8h0M665.4 289.8h0M670.2 289.8h0M671.9 289.8h0M684.7 289.8h0M689.1 289.8h0M692.3 289.8h0M702.0 289.8h0M708.6 289.8h0M725.4 289.8h0M730.7 289.8h0M733.0 289.8h0M736.9 289.8h0M745.4 289.8h0M747.6 289.8h0M640.9 277.6h0M647.5 281.5h0M643.6 287.7h0M637.8 286.8h0M656.5 285.6h0M672.8 282.0h0M684.9 277.6h0M685.7 282.4h0M718.3 285.6h0M726.3 282.8h0M726.0 284.5h0M730.4 286.8h0M689.6 292.7h0M687.9 295.3h0M698.9 296.0h0M709.1 296.9h0M733.0 291.3h0M735.2 293.9h0M686.5 300.1h0M633.9 299.6h0M639.5 298.9h0M638.8 302.2h0M642.7 306.3h0M644.5 307.2h0M648.6 304.9h0M654.8 303.3h0M658.7 303.1h0M663.1 302.8h0M665.4 304.5h0M669.8 306.3h0M671.9 306.8h0M673.2 307.2h0M676.9 305.4h0M679.0 306.0h0M693.7 302.4h0M707.4 300.5h0M710.4 303.7h0M714.4 305.4h0M715.9 303.1h0M717.6 305.4h0M718.9 306.3h0M722.9 307.2h0M726.8 302.4h0M729.9 306.8h0M734.8 305.4h0M738.4 301.9h0M741.0 304.5h0M742.8 306.8h0M745.4 307.5h0" fill="none" stroke="#7a1f30" stroke-width="2.44" stroke-linecap="round"/>
<path d="M704.5 329.7h0M641.5 329.1h0M744.1 331.6h0M647.6 328.9h0M689.4 328.3h0M726.1 328.5h0M657.1 327.1h0M706.2 330.9h0M678.0 330.5h0M744.0 329.2h0M645.3 331.4h0M652.2 328.8h0M694.3 328.2h0M710.5 327.2h0M698.0 328.0h0M651.2 329.4h0M687.8 328.8h0M637.2 329.4h0M709.6 327.3h0M668.6 327.2h0M743.8 330.6h0M677.0 329.2h0M635.6 331.2h0M630.9 331.5h0M668.6 329.0h0M660.6 329.5h0M742.6 331.1h0M722.3 327.7h0M673.2 331.3h0M660.4 329.0h0M637.5 340.5h0M644.1 342.5h0M717.8 338.2h0M636.2 342.0h0M722.9 339.9h0M676.4 337.6h0M710.7 344.8h0M702.8 336.8h0M642.4 344.4h0M719.4 339.9h0M733.9 338.2h0M642.6 338.4h0M745.0 338.9h0M725.4 338.5h0M701.5 342.1h0M712.3 335.3h0M634.9 345.2h0M656.5 343.9h0M737.3 345.6h0M732.1 338.1h0M655.3 339.2h0M694.5 340.7h0M670.4 342.2h0M651.7 339.6h0M722.5 341.0h0M709.9 341.7h0M637.6 336.3h0M709.0 347.0h0M630.9 337.6h0M640.8 342.1h0M678.7 344.7h0M633.6 338.7h0M691.3 341.2h0M710.7 346.4h0M660.2 340.3h0M712.4 344.6h0M637.9 342.2h0M639.9 342.0h0M688.7 343.5h0M632.8 340.5h0M719.7 340.6h0M735.5 344.3h0M630.2 342.1h0M724.5 342.8h0M697.2 337.4h0M745.4 341.3h0M724.7 345.1h0M736.9 344.1h0M731.1 342.3h0M731.0 339.6h0M719.6 339.3h0M737.3 342.6h0M639.7 345.8h0M725.1 341.4h0M710.1 345.4h0M672.6 340.3h0M681.5 345.1h0M642.8 338.1h0M666.4 341.8h0M714.5 337.8h0M695.0 343.3h0M739.8 343.1h0M659.8 338.2h0M656.7 338.9h0M717.2 339.8h0M743.3 336.5h0M673.1 338.3h0M676.3 338.5h0M635.9 343.7h0M657.3 345.7h0M737.7 339.8h0M745.7 340.3h0M687.9 341.9h0M731.1 339.6h0M655.2 340.4h0M706.6 343.9h0M738.1 342.0h0M671.1 341.0h0M705.4 339.4h0M718.0 345.9h0M646.2 339.3h0M660.3 341.6h0M700.0 338.0h0M660.3 339.4h0M648.5 341.5h0M648.6 340.0h0M722.6 342.9h0M684.2 341.5h0M695.6 336.8h0M705.1 344.4h0M668.1 339.4h0M707.7 346.0h0M683.2 341.3h0M640.4 338.8h0M691.7 343.0h0M688.8 340.4h0M711.4 341.3h0M743.7 338.3h0M635.1 343.3h0M702.8 344.7h0M713.2 339.6h0M686.5 346.9h0M680.8 339.4h0M714.1 342.0h0M693.8 336.0h0M679.0 335.1h0M707.4 347.9h0M701.6 345.8h0M639.9 344.9h0M672.1 335.8h0M735.8 342.0h0M648.4 342.6h0M691.5 341.5h0M705.2 342.2h0M643.7 338.3h0M653.2 352.3h0M667.8 356.6h0M700.8 355.7h0M644.5 358.7h0M720.7 351.2h0M710.6 354.2h0M725.0 350.7h0M658.1 356.5h0M693.9 350.7h0M731.7 358.7h0M681.4 354.4h0M697.3 355.0h0M678.2 353.3h0M717.5 353.6h0M704.2 358.2h0M718.9 357.1h0M744.8 353.5h0M722.1 357.7h0M697.6 353.4h0M659.7 350.5h0M690.5 351.9h0M742.1 353.8h0M746.7 354.0h0M644.0 351.4h0M709.5 356.6h0M632.1 352.0h0M642.3 356.0h0M673.6 354.8h0M640.9 356.0h0M706.9 358.4h0" fill="none" stroke="#4a50a2" stroke-width="2.44" stroke-linecap="round"/>
<text x="846.5" y="269.6" font-size="11.3" text-anchor="middle" fill="#2a2a2a">day7</text>
<text x="793.4" y="282.9" font-size="11.8" text-anchor="end" fill="#2a2a2a">1.10</text>
<circle cx="795.8" cy="279.5" r="0.6" fill="#444"/>
<text x="793.4" y="302.0" font-size="11.8" text-anchor="end" fill="#2a2a2a">1.05</text>
<circle cx="795.8" cy="298.6" r="0.6" fill="#444"/>
<text x="793.4" y="321.0" font-size="11.8" text-anchor="end" fill="#2a2a2a">1.00</text>
<circle cx="795.8" cy="317.6" r="0.6" fill="#444"/>
<text x="793.4" y="340.1" font-size="11.8" text-anchor="end" fill="#2a2a2a">0.95</text>
<circle cx="795.8" cy="336.7" r="0.6" fill="#444"/>
<text x="793.4" y="359.1" font-size="11.8" text-anchor="end" fill="#2a2a2a">0.90</text>
<circle cx="795.8" cy="355.7" r="0.6" fill="#444"/>
<text x="851.0" y="382.4" font-size="11.6" text-anchor="middle" fill="#2a2a2a">7.49%</text>
<path d="M880.0 326.3h0M868.8 315.3h0M876.7 317.5h0M857.4 312.8h0M912.8 321.3h0M892.2 318.1h0M815.5 321.8h0M815.2 326.5h0M848.0 318.1h0M904.5 320.5h0M813.8 323.3h0M825.0 318.1h0M913.6 315.5h0M884.2 320.4h0M860.6 321.2h0M816.5 322.7h0M800.9 322.9h0M835.7 314.8h0M819.3 320.8h0M900.1 325.1h0M857.4 315.9h0M856.1 320.4h0M868.5 315.1h0M854.6 319.3h0M824.9 327.8h0M882.6 319.4h0M883.1 313.2h0M903.0 320.3h0M854.1 319.6h0M812.4 324.5h0M909.3 311.0h0M798.9 313.5h0M815.4 318.0h0M879.5 310.0h0M897.6 324.6h0M907.0 307.5h0M866.5 313.9h0M829.4 310.4h0M800.8 314.9h0M882.7 322.8h0M871.9 321.7h0M810.7 323.5h0M884.1 321.7h0M907.8 307.4h0M818.9 320.1h0M867.4 308.4h0M845.9 315.7h0M868.8 316.3h0M810.9 315.5h0M901.7 321.1h0M831.4 314.1h0M871.9 327.8h0M824.5 321.7h0M818.1 324.8h0M908.8 322.5h0M827.2 323.3h0M908.3 318.2h0M897.4 329.1h0M862.1 312.7h0M862.6 320.9h0M800.7 318.5h0M886.9 317.2h0M876.7 320.2h0M865.4 314.4h0M891.9 323.1h0M852.0 322.7h0M841.7 319.0h0M883.4 322.4h0M854.8 312.8h0M867.8 308.7h0M815.0 315.3h0M820.6 317.2h0M818.4 317.2h0M890.6 324.0h0M912.9 323.0h0M910.5 329.9h0M861.5 319.1h0M888.5 322.0h0M811.2 317.4h0M835.5 313.8h0M906.5 313.0h0M831.7 314.2h0M815.6 326.2h0M847.7 320.0h0M886.6 317.6h0M912.1 318.5h0M800.9 315.4h0M871.3 318.3h0M895.0 318.2h0M892.2 322.0h0M904.2 323.4h0M872.4 309.6h0M896.0 319.7h0M844.1 325.9h0M866.0 312.9h0M861.1 317.1h0M848.7 319.4h0M849.4 324.4h0M879.5 321.7h0M814.8 317.3h0M894.2 321.2h0M879.8 324.1h0M820.7 320.6h0M837.8 328.5h0M895.1 320.7h0M846.5 312.8h0M895.9 314.2h0M843.6 317.7h0M912.8 317.3h0M842.7 321.8h0M911.7 320.4h0M842.0 327.7h0M846.1 322.8h0M817.5 326.5h0M888.7 314.3h0M806.3 316.2h0M888.2 322.2h0M855.2 319.0h0M897.4 321.9h0M869.5 319.8h0M907.4 315.1h0M857.1 327.7h0M823.5 324.6h0M904.7 310.1h0M901.3 315.1h0M895.0 318.6h0M867.0 322.2h0M827.8 318.1h0M799.2 311.1h0M891.7 323.0h0M874.0 317.4h0M848.5 325.0h0M857.0 320.1h0M889.0 323.9h0M824.1 323.0h0M799.6 323.3h0M808.2 315.7h0M912.3 324.1h0M821.5 319.6h0M911.0 311.8h0M800.5 316.4h0M875.4 316.7h0M858.5 321.0h0M854.8 322.2h0M797.2 312.5h0M863.3 322.4h0M869.0 318.2h0M894.3 312.8h0M893.9 323.0h0M891.6 314.4h0M804.1 312.1h0M899.3 322.6h0M858.1 323.4h0M898.4 315.0h0M902.9 324.2h0M806.6 323.9h0M844.9 315.7h0M856.1 329.3h0M867.3 318.2h0M906.4 319.7h0M801.3 322.0h0M867.3 315.2h0M854.4 320.9h0M812.8 309.3h0M876.9 324.8h0M881.9 326.4h0M810.5 328.7h0M809.3 321.7h0M854.0 320.4h0M908.6 314.6h0M893.9 318.1h0M874.5 326.2h0M843.3 314.1h0M907.9 319.7h0M852.4 318.3h0M813.3 320.6h0M866.8 316.4h0M808.0 323.4h0M897.9 323.8h0M855.7 311.3h0M883.0 324.6h0M896.2 314.6h0M889.0 317.1h0M889.3 324.7h0M888.6 319.1h0M842.1 321.7h0M800.5 322.9h0M826.7 321.8h0M872.9 315.7h0M834.0 313.5h0M912.0 322.3h0M833.9 322.7h0M879.7 320.6h0M811.5 317.6h0M850.2 323.3h0M890.6 318.5h0M903.2 311.3h0M805.6 320.2h0M890.9 321.4h0M909.6 322.8h0M799.9 313.9h0M891.9 314.6h0M802.2 320.5h0M876.1 316.3h0M912.2 318.3h0M807.1 323.7h0M884.1 320.8h0M810.1 328.5h0M865.2 320.3h0M837.5 327.9h0M862.2 324.4h0M885.5 318.8h0M819.7 318.3h0M832.1 325.8h0M810.7 316.0h0M844.7 316.3h0M806.6 320.1h0M800.5 320.8h0M882.5 311.2h0M879.2 320.2h0M800.6 317.1h0M873.3 318.7h0M875.8 319.8h0M837.2 317.8h0M831.5 324.6h0M823.9 321.5h0M867.4 317.8h0M812.7 319.3h0M861.0 324.4h0M844.5 323.1h0M856.8 325.7h0M885.5 318.1h0M823.4 319.6h0M833.6 329.7h0M853.3 318.7h0M835.1 327.9h0M876.6 323.4h0M813.8 316.6h0M903.9 311.4h0M906.9 322.3h0M811.9 315.1h0M853.8 315.1h0M837.4 309.7h0M837.3 325.3h0M820.5 319.5h0M859.8 319.1h0M890.6 321.1h0M824.8 320.3h0M888.4 319.5h0M884.3 321.7h0M870.6 317.5h0M900.5 322.9h0M867.3 321.2h0M890.3 319.1h0M908.4 327.5h0M896.6 311.5h0M864.2 326.9h0M831.1 321.2h0M867.5 310.2h0M881.1 316.8h0M881.0 322.3h0M843.5 312.5h0M884.5 321.9h0M835.9 326.4h0M812.1 318.8h0M908.7 320.7h0M904.1 313.9h0M846.5 319.7h0M861.2 317.2h0M799.0 313.6h0M908.1 311.8h0M838.4 329.3h0M868.4 319.4h0M812.9 313.5h0M813.3 316.7h0M865.5 326.9h0M875.6 327.7h0M911.1 315.7h0M878.6 320.0h0M868.3 323.7h0M867.6 317.1h0M829.2 312.7h0M840.2 313.7h0M870.0 319.0h0M813.1 314.8h0M832.4 312.0h0M816.7 317.7h0M801.4 324.0h0M849.7 322.6h0M840.6 317.7h0M862.3 329.2h0M843.6 314.7h0M805.7 318.5h0M897.4 311.6h0M801.8 323.1h0M799.7 318.3h0M799.8 309.9h0M889.1 314.5h0M840.1 328.6h0M907.3 322.8h0M834.1 319.5h0M844.8 323.6h0M878.6 310.4h0M907.5 314.5h0M903.5 311.8h0M840.9 314.5h0M876.4 316.9h0M804.3 321.8h0M863.8 324.3h0M872.4 324.2h0M829.5 316.3h0M873.6 318.8h0M832.8 321.6h0M886.4 314.5h0M805.6 317.4h0M857.9 321.1h0M907.8 314.2h0M870.4 321.4h0M906.6 325.5h0M907.5 312.9h0M886.0 319.4h0M890.8 313.3h0M882.7 319.8h0M856.6 316.5h0M889.1 320.5h0M889.0 325.0h0M897.6 323.3h0M798.0 317.0h0M801.5 312.6h0M851.2 307.2h0M880.7 314.6h0M846.0 319.4h0M841.6 315.2h0M799.6 315.6h0M867.8 310.3h0M908.4 310.0h0M868.9 309.5h0M825.7 322.1h0M871.2 308.1h0M840.3 322.4h0M839.8 313.9h0M803.7 321.6h0M880.3 320.0h0M797.3 322.7h0M895.0 325.0h0M798.0 314.4h0M887.8 313.4h0M837.9 316.2h0M837.8 314.4h0M854.3 322.1h0M818.7 317.9h0M821.3 318.6h0M880.3 320.7h0M903.0 316.0h0M813.6 324.4h0M829.2 308.6h0M911.4 319.7h0M877.2 321.2h0M903.9 314.3h0M842.1 314.7h0M886.6 323.3h0M879.9 316.7h0M883.8 308.1h0M852.7 311.2h0M831.3 323.8h0M839.6 313.7h0M813.9 325.5h0M806.4 325.8h0M841.4 317.3h0M896.9 321.3h0M835.7 314.0h0M862.5 316.2h0M893.1 314.7h0M809.4 321.6h0M840.3 311.5h0M840.3 317.7h0M880.1 318.7h0M902.4 321.2h0M798.1 307.0h0M860.6 308.8h0M797.6 313.7h0M832.2 317.2h0M843.8 319.1h0M829.9 319.4h0M845.2 329.2h0M839.3 321.9h0M855.3 321.5h0M826.3 315.7h0M842.6 322.6h0M822.7 322.1h0M846.1 321.9h0M879.6 317.7h0M800.8 321.7h0M913.4 326.5h0M814.5 314.1h0M889.4 322.7h0M830.7 322.3h0M805.5 317.1h0M889.1 316.0h0M863.0 315.8h0M827.8 311.8h0M841.5 315.8h0M897.8 321.0h0M879.5 315.0h0M829.6 316.2h0M824.8 320.0h0M863.1 316.0h0M811.2 319.0h0M823.8 318.1h0M891.0 312.6h0M881.6 318.7h0M800.2 312.1h0M849.3 323.3h0M843.6 313.3h0M883.2 317.0h0M846.8 308.6h0M823.7 315.9h0M895.2 311.6h0M819.7 326.3h0M872.6 317.7h0M830.1 321.1h0M869.2 308.9h0M817.3 311.7h0M899.2 317.4h0M840.2 311.0h0M876.4 324.4h0M884.5 316.1h0M851.6 319.1h0M859.9 319.9h0M811.0 317.5h0M860.2 322.4h0M859.1 314.7h0M901.4 320.2h0M838.2 324.7h0M815.0 319.4h0M844.4 318.9h0M888.6 316.5h0M798.5 318.6h0M801.4 321.9h0M913.5 317.0h0M861.9 309.3h0M880.8 319.1h0M851.4 317.5h0M819.9 320.8h0M874.9 318.5h0M825.3 326.7h0M849.8 311.9h0M821.6 313.1h0M902.9 321.7h0M843.0 312.8h0M878.0 320.0h0M818.4 318.2h0M868.1 307.8h0M831.6 321.8h0M811.0 325.5h0M834.0 319.4h0M804.6 310.8h0M867.3 322.4h0M861.9 312.7h0M896.6 317.6h0M800.4 320.4h0M844.7 314.1h0M911.8 309.3h0M837.6 317.5h0M804.0 318.0h0M890.3 313.7h0M808.0 314.1h0M880.3 322.2h0M858.4 317.8h0M899.3 315.7h0M857.0 315.1h0M876.3 319.1h0M827.1 318.7h0M911.6 317.3h0M821.5 310.9h0M894.6 316.3h0M876.6 314.9h0M853.3 318.6h0M840.7 324.3h0M807.1 323.2h0M889.5 321.6h0M823.7 318.8h0M898.8 316.5h0M900.6 320.0h0M821.7 315.7h0M831.1 316.4h0M880.0 313.8h0M886.2 317.9h0M802.9 317.8h0M893.3 327.9h0M892.2 321.1h0M869.7 316.2h0M900.9 322.3h0M910.8 315.7h0M821.1 323.5h0M907.0 322.3h0M897.5 312.5h0M865.6 317.8h0M810.1 317.6h0M909.1 319.8h0M883.7 321.9h0M840.3 313.1h0M834.8 314.4h0M907.9 319.8h0M824.1 323.3h0M892.7 312.3h0M848.8 310.1h0M878.3 324.2h0M892.8 322.6h0M808.8 323.9h0M827.5 313.1h0M810.5 317.2h0M844.0 319.4h0M813.7 320.5h0M903.8 317.6h0M888.9 318.0h0M864.9 323.5h0M819.4 315.9h0M821.7 315.4h0M866.1 316.0h0M902.8 315.6h0M905.8 318.9h0M905.4 317.1h0M834.8 315.9h0M878.4 325.6h0M857.6 319.8h0M861.9 316.5h0M876.0 324.8h0M831.5 315.4h0M828.4 318.2h0M845.2 317.7h0M824.3 315.2h0M897.4 316.2h0M839.8 318.7h0M801.7 310.8h0M870.9 316.2h0M912.0 319.5h0M861.1 319.6h0M830.1 319.8h0M902.2 321.7h0M870.5 317.5h0M869.3 317.6h0M850.8 318.2h0M887.0 320.5h0M875.2 316.7h0M860.8 326.0h0M836.1 312.5h0M888.5 321.5h0M903.2 320.8h0M807.8 312.3h0M800.2 321.5h0M808.8 321.1h0M898.8 314.9h0M869.1 321.9h0M843.5 316.5h0M910.7 315.7h0M907.1 314.4h0M846.6 319.5h0M840.2 318.5h0M859.2 310.9h0M866.2 312.9h0M895.2 314.5h0M899.4 316.1h0M830.4 316.3h0M896.6 314.8h0M806.2 321.5h0M821.4 323.1h0M846.1 318.6h0M806.0 306.9h0M837.6 317.4h0M800.4 321.1h0M891.0 317.8h0M875.9 319.6h0M827.5 318.7h0M858.1 310.5h0M842.6 321.4h0M892.6 315.5h0M831.4 320.3h0M824.7 316.6h0M887.6 317.3h0M885.2 325.2h0M879.1 312.0h0M804.6 318.1h0M802.0 312.6h0M905.5 318.6h0M910.4 320.6h0M821.0 321.5h0M854.4 319.0h0M851.1 311.1h0M830.2 319.4h0M806.4 322.8h0M826.7 323.3h0M909.0 329.2h0M848.7 321.1h0M821.2 313.0h0M806.0 315.5h0M872.4 318.6h0M895.0 323.6h0M826.5 312.3h0M885.0 322.9h0M799.7 321.5h0M812.2 313.7h0M871.5 321.3h0M808.2 314.3h0M851.3 318.2h0M853.6 316.6h0M800.5 319.4h0M892.9 312.1h0M883.2 320.9h0M889.2 307.1h0M873.1 316.1h0M830.0 315.3h0M878.1 326.3h0M863.7 320.9h0M869.8 315.7h0M884.8 313.6h0M830.9 318.4h0M903.6 315.0h0M851.0 329.6h0M834.0 318.5h0M858.6 323.5h0M910.5 314.1h0M879.2 326.4h0M808.3 315.4h0M829.3 323.7h0M875.6 319.2h0M908.7 324.3h0M859.9 318.3h0M860.1 314.5h0M797.3 310.2h0M815.0 323.0h0M891.0 321.0h0M825.4 318.2h0M859.6 320.5h0M876.7 319.2h0M866.5 315.3h0M886.4 328.2h0M872.2 319.4h0M833.2 317.2h0M865.4 310.7h0M878.2 315.0h0M805.3 318.3h0M909.6 317.3h0M869.3 315.8h0M910.7 317.9h0M897.6 312.4h0M800.8 318.2h0M806.8 310.3h0M896.8 313.8h0M825.8 314.4h0M903.3 322.7h0M911.2 320.7h0M886.7 318.6h0M869.9 312.3h0M848.3 316.1h0M903.0 322.3h0M870.4 324.6h0M808.1 310.6h0M881.7 316.0h0M835.8 318.8h0M813.0 320.0h0M839.9 318.2h0M897.2 321.6h0M883.6 310.8h0M841.4 326.2h0M893.1 312.3h0M862.3 318.5h0M836.6 320.9h0M809.1 324.2h0M876.6 322.9h0M826.0 322.7h0M856.1 324.8h0M825.1 317.4h0M870.7 322.1h0M804.0 326.1h0M829.7 314.3h0M870.0 311.0h0M895.3 313.1h0M882.1 325.5h0M830.7 324.6h0M843.5 316.4h0M855.5 319.5h0M907.4 320.7h0M817.8 323.7h0M889.0 308.6h0M810.4 315.4h0M894.9 316.9h0M810.1 319.9h0M841.7 318.7h0M840.2 316.6h0M874.9 319.8h0M834.0 322.5h0M891.0 322.8h0M911.9 314.9h0M880.8 320.4h0M799.7 328.9h0M808.4 327.7h0M890.8 318.7h0M844.7 311.9h0M856.8 319.1h0M895.6 316.7h0M880.3 322.7h0M858.5 311.7h0M832.1 317.3h0M806.6 319.7h0M810.3 315.9h0M803.4 323.7h0M843.7 312.4h0M907.5 311.9h0M810.1 316.5h0M857.1 322.6h0M868.9 316.7h0M906.8 315.3h0M913.0 322.5h0M873.5 319.5h0M864.7 315.6h0M879.5 318.9h0M847.9 317.1h0M888.0 321.5h0M894.6 319.0h0M822.2 314.2h0M858.7 315.8h0M833.7 316.2h0M811.8 320.2h0M846.2 320.2h0M867.6 314.0h0M857.5 317.3h0M841.9 319.9h0M861.9 324.0h0M856.0 319.6h0M800.4 328.4h0M877.5 318.4h0M889.0 322.1h0M850.9 316.6h0M873.0 313.2h0M825.4 318.9h0M882.1 320.8h0M850.2 320.0h0M871.8 319.1h0M875.5 316.6h0M847.5 314.1h0M819.0 316.7h0M906.4 320.7h0M893.6 323.2h0M841.8 321.5h0M841.3 323.9h0M895.8 324.8h0M884.8 320.3h0M829.5 321.8h0M892.8 316.0h0M836.6 317.8h0M895.2 321.0h0M810.1 312.6h0M907.5 314.2h0M839.8 319.3h0M904.4 311.4h0M825.9 318.6h0M840.6 310.6h0M826.7 319.3h0M865.5 318.4h0M826.7 315.4h0M875.7 313.4h0M876.3 315.7h0M886.5 316.2h0M850.0 318.9h0M847.0 324.5h0M826.4 315.7h0M853.8 317.4h0M858.7 325.5h0M829.5 327.3h0M862.1 315.8h0M817.2 323.7h0M845.9 324.4h0M835.0 321.0h0M859.3 313.2h0M887.4 313.4h0M800.8 321.3h0M848.4 317.4h0M808.9 326.4h0M838.5 328.1h0M882.9 311.8h0M871.2 315.2h0M880.6 326.1h0M892.0 323.4h0M836.8 321.1h0M840.6 318.2h0M819.1 321.6h0M835.3 315.0h0M869.2 312.3h0M875.2 309.0h0M879.8 319.1h0M859.7 325.8h0M803.1 315.7h0M872.3 318.0h0M895.8 313.0h0M898.8 317.9h0M799.8 313.0h0M841.1 313.1h0M854.4 310.7h0M869.8 315.5h0M889.8 328.0h0M800.4 318.0h0M902.0 319.3h0M848.0 329.9h0M909.7 315.0h0M889.0 313.1h0M843.4 321.0h0M907.8 311.9h0M851.3 320.0h0M809.8 324.3h0M820.6 312.7h0M859.6 315.6h0M885.5 327.1h0M833.4 312.8h0M906.4 314.8h0M827.0 319.5h0M911.0 316.7h0M872.7 313.9h0M882.7 326.6h0M842.2 315.3h0M859.1 320.0h0M838.3 316.2h0M856.0 317.1h0M895.2 311.2h0M886.5 323.1h0M893.2 316.1h0M845.2 324.9h0M831.8 312.2h0M866.1 315.8h0M908.0 320.8h0M879.4 318.9h0M824.3 314.9h0M889.4 317.6h0M900.3 311.6h0M883.0 318.6h0M881.7 319.2h0M876.0 325.3h0M863.1 322.9h0M843.1 322.7h0M880.8 316.1h0M846.2 320.8h0M817.8 316.2h0M901.5 317.8h0M903.8 317.8h0M811.8 323.1h0M890.8 320.7h0M869.4 322.7h0M835.7 313.4h0M835.6 321.9h0M814.2 320.8h0" fill="none" stroke="#c2c2c2" stroke-width="2.44" stroke-linecap="round"/>
<path d="M803.7 329.2h0M887.0 317.7h0M862.8 317.7h0M834.4 312.1h0M880.3 314.1h0M852.1 316.4h0M805.7 316.9h0M890.7 311.6h0M891.3 315.7h0M861.7 309.3h0M872.4 314.1h0M862.5 322.1h0M830.9 327.5h0M803.8 312.7h0M872.7 323.0h0M830.0 313.0h0M883.6 328.4h0M833.1 313.3h0M842.2 309.1h0M902.4 328.4h0M810.2 315.4h0M828.1 312.5h0M877.8 317.8h0M846.9 326.2h0M898.2 316.5h0M811.6 317.9h0M799.2 322.0h0M890.2 308.5h0M815.4 327.5h0M830.3 323.3h0M820.1 320.7h0M847.8 315.7h0M902.7 328.9h0M853.7 309.6h0M881.5 308.1h0M815.4 320.8h0M859.5 322.5h0M822.9 311.2h0M822.7 326.2h0M833.0 317.4h0M842.2 315.2h0M880.7 323.4h0M809.0 316.8h0M827.7 311.5h0M910.2 317.2h0M839.2 308.8h0M799.6 314.6h0M898.4 320.6h0M797.9 309.7h0M841.3 317.4h0M880.1 318.3h0M906.8 308.8h0M901.0 312.5h0M906.2 309.0h0M866.2 319.2h0M909.8 321.8h0M824.3 308.1h0M834.6 320.2h0M873.2 326.5h0M870.2 309.0h0M892.7 320.8h0M811.5 314.9h0M840.6 311.1h0M870.1 326.7h0M807.3 314.7h0M855.9 326.2h0M899.3 327.4h0M800.1 313.4h0M894.4 326.8h0M880.9 327.6h0M847.2 308.0h0M822.5 327.0h0M888.3 321.7h0M838.6 308.1h0M870.3 319.3h0M812.1 326.4h0M885.8 326.3h0M904.0 327.1h0M904.3 319.1h0M911.4 310.2h0M804.5 315.4h0M891.7 314.4h0M825.5 321.4h0M809.7 313.7h0M889.7 320.0h0M901.4 314.6h0M805.1 318.0h0M821.4 321.8h0M852.4 325.6h0M898.0 308.9h0M851.1 317.7h0M802.7 315.0h0M882.3 321.5h0M908.2 323.5h0M815.7 323.3h0M893.1 311.4h0M908.6 311.2h0M845.8 326.6h0M894.2 314.7h0M871.1 323.0h0M911.2 308.4h0M875.4 320.8h0M831.0 313.0h0M879.5 322.4h0M836.0 309.8h0M838.3 327.0h0M797.6 322.8h0M806.6 321.4h0M818.8 318.2h0M875.0 325.1h0M857.5 317.4h0M843.4 321.7h0M868.3 316.5h0M834.2 308.3h0M835.5 317.9h0M868.2 325.2h0M884.3 321.8h0M883.2 309.9h0M861.6 308.7h0M911.1 311.7h0M912.5 321.5h0M905.4 314.6h0M831.6 313.3h0M883.6 326.8h0M809.8 308.2h0M912.6 325.7h0M863.6 315.5h0M805.3 325.4h0M812.0 314.2h0M872.5 319.1h0M876.5 311.0h0M840.3 314.0h0M849.1 321.9h0M891.5 322.6h0M888.3 311.6h0M885.2 321.8h0M841.2 329.0h0M837.8 321.0h0M873.9 314.0h0M808.3 322.7h0M875.9 320.6h0M877.3 322.2h0M886.5 326.0h0M825.8 328.1h0M837.1 311.3h0M825.4 313.3h0M848.4 310.8h0M871.4 329.4h0M850.2 329.1h0M899.6 324.2h0M865.3 321.4h0M889.7 311.4h0M909.1 314.5h0M889.9 310.8h0M822.4 315.8h0M836.9 310.1h0M802.7 308.4h0M844.2 309.2h0M848.9 317.5h0M834.9 311.5h0M841.1 309.2h0M820.9 324.2h0M892.8 324.4h0M843.1 328.3h0M799.5 325.3h0M849.0 328.4h0M839.9 322.0h0M818.2 319.4h0M878.8 316.9h0M845.5 315.2h0M888.1 308.3h0M868.7 323.3h0M908.5 314.9h0M836.4 323.8h0M801.7 328.3h0M818.6 325.0h0M885.3 318.9h0M819.9 320.0h0M866.2 327.1h0M810.4 313.2h0M896.8 320.6h0M842.0 320.8h0M831.2 321.0h0M900.7 314.2h0M879.1 317.8h0M867.3 318.9h0M902.6 325.0h0M891.2 328.7h0M798.2 309.1h0M903.1 325.1h0M820.3 318.5h0M881.9 321.9h0M832.2 319.6h0M831.7 325.3h0M846.5 316.8h0M798.0 316.5h0M895.5 319.8h0M828.2 328.8h0M871.2 317.1h0M814.0 317.1h0M808.5 318.9h0M799.3 329.4h0M853.8 311.5h0M845.7 320.9h0M881.0 321.1h0M847.5 327.1h0M856.3 315.5h0M863.4 321.2h0M814.1 313.4h0M840.9 316.4h0M894.2 309.6h0M912.2 314.0h0M853.9 316.4h0M833.5 314.4h0M896.6 316.9h0M860.9 314.2h0M802.0 313.5h0M816.0 315.4h0M871.8 322.4h0M811.5 321.4h0M858.7 329.1h0M909.7 310.9h0M857.5 325.3h0M850.1 309.7h0M890.5 312.9h0M858.2 308.4h0M894.7 318.7h0M798.6 308.3h0M895.4 309.4h0M816.5 321.9h0M822.6 322.0h0M863.3 310.0h0M876.8 321.3h0M816.1 317.2h0M889.7 326.7h0M853.2 320.4h0M884.6 319.3h0M838.9 329.3h0M838.8 313.9h0M859.4 317.8h0M874.0 324.6h0M886.8 323.6h0M836.3 308.9h0M869.2 308.3h0M827.1 314.0h0M879.0 328.9h0M844.2 309.4h0M905.1 308.5h0M882.2 327.8h0M806.0 311.0h0M871.6 314.8h0M841.5 326.5h0M834.9 316.6h0M821.6 309.0h0M878.9 316.9h0M896.5 323.7h0M849.0 311.4h0M855.1 313.7h0M836.0 315.2h0M891.7 308.2h0" fill="none" stroke="#c2c2c2" stroke-width="2.44" stroke-linecap="round"/>
<path d="M800.1 289.2h0M801.0 301.6h0M805.9 300.3h0M807.2 302.8h0M805.9 306.0h0M813.9 298.0h0M819.6 284.7h0M828.6 305.5h0M832.0 305.5h0M841.0 305.1h0M844.0 302.1h0M846.3 301.9h0M849.3 301.6h0M853.2 304.2h0M862.1 290.4h0M863.9 304.2h0M866.7 305.6h0M869.3 306.0h0M875.5 303.3h0M878.6 303.9h0M882.6 303.0h0M892.2 306.0h0M897.2 305.6h0M898.6 306.3h0M901.0 305.1h0M902.5 301.2h0M901.2 291.3h0M901.2 293.2h0M906.9 284.7h0M909.6 298.6h0M908.7 303.7h0M912.7 306.9h0" fill="none" stroke="#7a1f30" stroke-width="2.44" stroke-linecap="round"/>
<path d="M798.0 331.7h0M799.2 330.8h0M798.0 344.4h0M798.3 347.6h0M801.0 349.7h0M803.8 333.1h0M807.7 331.7h0M806.8 341.1h0M808.6 341.1h0M809.1 348.5h0M811.3 351.2h0M812.7 334.3h0M813.9 332.9h0M814.4 338.2h0M814.3 345.3h0M816.9 332.6h0M818.3 333.4h0M817.8 352.9h0M820.1 344.4h0M821.5 351.2h0M822.8 352.0h0M824.9 348.5h0M823.7 352.9h0M826.3 354.7h0M828.4 356.5h0M822.4 366.6h0M826.7 332.0h0M827.5 334.3h0M830.4 332.6h0M832.5 331.7h0M833.0 339.6h0M835.7 332.6h0M836.4 330.8h0M832.0 349.9h0M836.0 351.2h0M837.8 342.8h0M840.8 341.4h0M841.9 339.6h0M843.5 337.5h0M841.7 351.7h0M845.4 331.3h0M847.0 332.0h0M855.5 336.6h0M858.7 342.3h0M856.1 347.1h0M856.9 350.8h0M856.9 356.5h0M856.4 359.1h0M857.8 360.4h0M861.7 342.3h0M863.0 346.4h0M863.0 348.5h0M864.4 342.7h0M867.4 348.1h0M868.8 341.9h0M867.9 331.3h0M869.7 332.0h0M871.5 331.7h0M873.2 331.3h0M874.7 330.8h0M877.7 333.4h0M876.8 336.6h0M876.4 338.8h0M879.8 335.6h0M878.6 346.4h0M880.9 347.1h0M876.4 352.4h0M875.4 361.8h0M883.9 330.8h0M884.8 337.0h0M888.7 340.9h0M891.8 341.1h0M886.2 345.8h0M887.8 351.2h0M885.6 361.4h0M894.1 332.6h0M895.7 337.9h0M896.8 347.1h0M896.8 352.9h0M898.0 359.1h0M899.3 360.5h0M895.4 366.6h0M900.7 366.6h0M903.9 334.3h0M906.0 332.6h0M905.1 338.8h0M906.9 336.1h0M911.0 335.2h0M912.2 337.0h0M913.1 336.1h0M911.0 344.4h0M908.3 350.3h0M913.1 353.8h0M913.1 331.3h0" fill="none" stroke="#4a50a2" stroke-width="2.44" stroke-linecap="round"/>
<text x="1004.2" y="269.5" font-size="11.3" text-anchor="middle" fill="#2a2a2a">day21</text>
<text x="943.8" y="300.9" font-size="11.2" text-anchor="end" fill="#2a2a2a">1.05</text>
<circle cx="946.5" cy="297.8" r="0.6" fill="#444"/>
<text x="943.8" y="319.9" font-size="11.2" text-anchor="end" fill="#2a2a2a">1.00</text>
<circle cx="946.5" cy="316.9" r="0.6" fill="#444"/>
<text x="943.8" y="339.0" font-size="11.2" text-anchor="end" fill="#2a2a2a">0.95</text>
<circle cx="946.5" cy="335.9" r="0.6" fill="#444"/>
<text x="943.8" y="358.0" font-size="11.2" text-anchor="end" fill="#2a2a2a">0.90</text>
<circle cx="946.5" cy="355.0" r="0.6" fill="#444"/>
<text x="1005.0" y="382.4" font-size="11.6" text-anchor="middle" fill="#2a2a2a">8.99%</text>
<path d="M1027.0 324.0h0M957.2 329.3h0M971.7 319.8h0M998.7 309.0h0M1035.3 323.1h0M956.1 314.7h0M1059.8 318.1h0M1005.7 322.1h0M965.9 319.7h0M967.2 317.5h0M1009.4 319.3h0M956.9 321.7h0M965.4 321.0h0M1058.3 328.2h0M1048.9 314.0h0M1018.5 314.9h0M1034.0 322.0h0M959.3 319.0h0M978.6 322.1h0M948.2 310.7h0M1014.5 316.8h0M946.9 321.1h0M958.7 317.6h0M1063.1 315.9h0M956.8 319.2h0M1061.8 326.1h0M1009.6 307.3h0M1003.5 325.8h0M961.3 319.3h0M992.5 313.6h0M987.3 321.2h0M1027.9 318.1h0M1061.5 323.9h0M984.3 313.8h0M949.3 322.7h0M1059.5 313.3h0M1003.1 319.5h0M994.5 321.3h0M1035.4 317.5h0M1021.6 321.1h0M1009.5 314.9h0M962.8 323.2h0M1040.0 315.3h0M975.0 314.3h0M1017.6 317.3h0M968.4 317.6h0M973.5 313.7h0M1019.6 321.8h0M1033.7 317.2h0M1060.3 320.9h0M1026.4 310.4h0M1021.0 311.3h0M1016.7 316.5h0M980.2 312.9h0M1053.6 317.2h0M1014.5 320.7h0M952.6 323.4h0M1002.2 325.2h0M986.2 321.8h0M964.7 314.3h0M1027.3 320.6h0M1041.0 315.3h0M1051.6 320.6h0M1048.7 312.6h0M1062.0 324.6h0M968.7 319.9h0M1013.2 316.4h0M994.1 311.1h0M1031.5 319.3h0M1027.2 315.2h0M955.0 319.1h0M978.6 314.3h0M972.0 315.2h0M954.7 321.0h0M978.2 325.3h0M1002.6 311.6h0M982.8 316.9h0M963.9 319.8h0M1040.4 317.1h0M953.9 315.7h0M974.9 328.7h0M1026.5 313.7h0M993.8 319.7h0M1022.0 315.4h0M955.5 317.4h0M1056.2 306.5h0M992.4 322.3h0M1043.3 316.8h0M995.2 313.1h0M1043.8 326.2h0M950.0 316.5h0M978.8 314.8h0M1062.7 313.7h0M954.9 323.2h0M1046.4 318.0h0M990.7 316.3h0M1002.9 311.3h0M979.8 313.4h0M987.2 319.6h0M1061.7 317.8h0M1001.1 307.8h0M962.7 313.5h0M1035.5 319.0h0M971.3 314.1h0M1009.0 306.8h0M1038.3 321.7h0M999.7 315.5h0M957.4 311.3h0M1032.0 320.7h0M1054.9 316.7h0M1025.7 313.1h0M1055.7 311.3h0M1001.1 317.3h0M970.2 318.3h0M985.4 309.0h0M1039.7 322.8h0M1056.0 311.5h0M977.7 324.9h0M1042.8 319.6h0M1035.5 317.0h0M972.7 319.6h0M1042.9 314.9h0M995.7 317.6h0M963.3 326.1h0M1012.2 315.0h0M976.0 322.0h0M1009.5 313.4h0M1058.3 317.8h0M969.7 322.7h0M1011.1 311.9h0M1006.5 319.6h0M966.2 307.1h0M1017.8 312.2h0M975.4 315.8h0M1052.7 322.3h0M1046.7 321.5h0M1008.4 313.3h0M975.0 317.2h0M963.1 318.8h0M973.2 310.1h0M1008.1 320.0h0M1015.0 324.7h0M962.3 324.1h0M1034.1 314.9h0M1003.4 315.9h0M1060.6 313.2h0M992.7 315.4h0M1000.5 316.6h0M1039.1 321.3h0M994.5 318.3h0M1038.0 313.3h0M1009.5 322.0h0M960.1 322.3h0M1052.4 314.8h0M1051.8 316.7h0M961.1 317.4h0M985.1 309.7h0M1012.8 318.6h0M958.7 321.3h0M993.6 327.6h0M954.1 318.9h0M1008.6 316.5h0M1002.9 317.2h0M1055.2 321.0h0M1040.7 321.9h0M977.9 313.6h0M1026.2 318.9h0M1058.6 321.2h0M961.3 307.9h0M1008.7 324.8h0M963.2 316.8h0M976.0 322.3h0M1004.2 317.7h0M947.4 316.7h0M1002.7 317.5h0M981.0 319.4h0M953.7 322.3h0M1008.6 316.6h0M969.8 312.3h0M969.8 314.4h0M1056.7 313.0h0M997.5 321.7h0M1010.4 313.1h0M958.3 325.5h0M1057.9 318.6h0M1015.1 317.5h0M980.9 324.5h0M1024.1 316.1h0M1021.8 316.5h0M1003.3 321.8h0M996.3 321.6h0M957.4 313.0h0M1035.5 320.8h0M950.8 311.7h0M953.8 317.1h0M1019.6 322.6h0M1048.8 319.1h0M1051.8 322.2h0M972.2 329.8h0M1041.9 322.6h0M967.7 328.0h0M968.8 321.4h0M1000.5 314.7h0M1013.7 325.5h0M1008.6 314.5h0M1053.6 322.8h0M1004.7 321.3h0M988.8 313.8h0M1000.6 314.5h0M968.0 317.1h0M1030.9 320.0h0M967.0 324.7h0M1002.9 318.4h0M957.1 327.6h0M1030.9 322.4h0M988.9 314.9h0M1038.4 315.0h0M966.0 318.5h0M1003.5 315.5h0M1048.8 317.7h0M1031.9 322.0h0M970.5 319.4h0M957.8 323.0h0M1016.3 314.7h0M1061.2 313.9h0M993.8 311.2h0M1028.7 309.3h0M1026.3 315.9h0M1061.0 318.5h0M994.0 317.2h0M956.8 318.2h0M957.9 328.4h0M1053.0 312.8h0M971.5 316.9h0M1014.8 315.8h0M1021.1 313.7h0M1051.9 325.0h0M996.2 318.1h0M975.7 324.5h0M1052.7 312.6h0M1018.3 327.6h0M1062.7 329.6h0M1037.6 313.9h0M1024.2 318.2h0M1001.8 317.6h0M946.4 321.1h0M1042.7 311.8h0M988.2 320.6h0M953.0 321.9h0M1033.0 315.3h0M1061.9 306.9h0M1032.6 314.9h0M966.7 316.3h0M986.6 322.1h0M986.4 315.2h0M982.0 312.5h0M1026.4 321.4h0M1031.0 320.1h0M979.0 322.0h0M992.1 318.5h0M984.0 323.6h0M976.6 320.9h0M1023.3 309.4h0M1040.3 319.3h0M1030.2 322.2h0M1059.1 318.5h0M1056.7 325.6h0M1059.3 316.0h0M1038.1 321.8h0M989.6 312.2h0M1033.8 318.3h0M1059.8 315.6h0M978.5 313.3h0M987.6 311.8h0M949.1 319.4h0M1052.7 320.4h0M1039.7 315.1h0M960.7 312.1h0M998.5 313.9h0M980.4 322.1h0M987.1 312.3h0M997.7 324.0h0M1056.8 310.0h0M982.9 319.7h0M1013.9 321.6h0M1033.6 324.4h0M1029.3 316.2h0M950.7 314.5h0M987.0 311.2h0M1043.4 322.9h0M966.8 317.7h0M999.1 316.0h0M1038.7 316.2h0M970.4 319.6h0M1003.7 318.5h0M1057.9 324.2h0M957.7 307.6h0M979.8 322.6h0M949.3 315.7h0M953.1 317.9h0M1040.7 316.8h0M1008.5 317.9h0M1018.5 322.1h0M977.0 319.4h0M1029.0 311.1h0M963.3 318.0h0M969.8 317.9h0M953.6 320.2h0M1057.3 318.6h0M984.9 317.9h0M980.3 323.5h0M995.8 312.9h0M973.6 329.3h0M1053.1 315.5h0M979.2 313.2h0M951.6 322.3h0M1045.0 323.7h0M1031.6 324.6h0M967.7 325.7h0M990.4 320.8h0M965.0 318.7h0M1051.8 320.3h0M1053.4 318.4h0M952.6 315.7h0M971.8 326.4h0M994.5 327.5h0M1019.0 318.4h0M1043.7 317.2h0M1051.6 315.9h0M1055.7 310.0h0" fill="none" stroke="#c2c2c2" stroke-width="2.44" stroke-linecap="round"/>
<line x1="946.3" x2="1063.6" y1="318.4" y2="318.4" stroke="#c2c2c2" stroke-width="2.6"/>
<path d="M991.4 287.4h0M1013.9 287.4h0M947.6 303.3h0M1000.7 303.7h0M1012.6 301.2h0M1017.4 296.6h0M1019.7 297.1h0M1023.2 294.8h0M1029.4 304.2h0M1037.4 301.0h0M1038.7 304.6h0M1040.6 296.3h0M1044.9 294.0h0" fill="none" stroke="#7a1f30" stroke-width="2.44" stroke-linecap="round"/>
<path d="M948.0 340.2h0M952.9 334.0h0M963.0 334.7h0M964.3 334.3h0M974.5 330.8h0M977.5 331.7h0M979.0 335.2h0M982.2 332.0h0M987.3 334.3h0M986.9 337.9h0M989.1 342.7h0M995.8 332.0h0M997.0 331.3h0M995.4 336.1h0M997.6 336.5h0M999.3 336.8h0M1002.3 331.1h0M1005.2 332.0h0M1004.6 344.1h0M1003.8 350.6h0M998.8 354.7h0M981.6 355.1h0M978.1 360.0h0M964.4 366.6h0M997.0 367.5h0M1012.6 338.2h0M1020.6 335.7h0M1024.1 331.3h0M1022.4 357.4h0M1026.4 359.7h0M1032.1 349.7h0M1033.9 332.6h0M1039.2 345.3h0M1038.3 352.6h0M1043.1 331.3h0M1049.5 330.8h0M1050.2 341.4h0M1053.5 338.4h0M1055.5 335.2h0M1056.9 337.3h0M1058.3 331.1h0M1062.2 337.5h0M1063.1 332.9h0M1062.6 369.2h0" fill="none" stroke="#4a50a2" stroke-width="2.44" stroke-linecap="round"/>
<text x="703.8" y="443.8" font-size="11.3" text-anchor="middle" fill="#2a2a2a">day3</text>
<text x="651.3" y="476.8" font-size="11.2" text-anchor="end" fill="#2a2a2a">1.05</text>
<circle cx="653.6" cy="473.8" r="0.6" fill="#444"/>
<text x="651.3" y="497.3" font-size="11.2" text-anchor="end" fill="#2a2a2a">1.00</text>
<circle cx="653.6" cy="494.3" r="0.6" fill="#444"/>
<text x="651.3" y="517.8" font-size="11.2" text-anchor="end" fill="#2a2a2a">0.95</text>
<circle cx="653.6" cy="514.8" r="0.6" fill="#444"/>
<text x="651.3" y="538.3" font-size="11.2" text-anchor="end" fill="#2a2a2a">0.90</text>
<circle cx="653.6" cy="535.3" r="0.6" fill="#444"/>
<text x="711.0" y="556.8" font-size="11.6" text-anchor="middle" fill="#2a2a2a">10.02%</text>
<path d="M685.3 494.2h0M672.5 492.9h0M754.2 485.2h0M710.7 506.2h0M736.5 492.9h0M705.1 490.5h0M656.9 494.1h0M668.0 484.5h0M670.9 491.5h0M657.6 500.4h0M736.5 507.4h0M764.6 501.3h0M700.4 504.6h0M765.8 485.7h0M666.8 505.2h0M694.1 495.7h0M723.3 493.5h0M728.3 507.6h0M657.2 486.5h0M757.1 486.5h0M768.6 488.2h0M687.9 507.2h0M688.0 501.8h0M726.7 479.9h0M702.1 507.5h0M714.0 494.3h0M753.5 497.6h0M728.0 488.0h0M667.5 509.3h0M691.9 497.7h0M753.6 504.8h0M761.5 486.2h0M689.4 499.8h0M662.8 494.9h0M744.1 492.4h0M679.0 487.6h0M679.9 488.6h0M701.4 484.8h0M663.5 488.8h0M732.0 494.0h0M752.8 498.9h0M692.7 481.6h0M731.5 485.8h0M669.2 489.2h0M695.3 481.0h0M671.8 491.9h0M665.9 492.0h0M685.6 492.6h0M696.3 497.5h0M656.6 501.8h0M727.9 500.6h0M728.1 496.4h0M687.1 499.0h0M703.9 487.8h0M685.3 486.6h0M665.6 499.4h0M763.8 498.7h0M761.3 492.4h0M706.9 486.2h0M748.4 496.5h0M712.4 490.6h0M764.3 487.0h0M724.5 505.2h0M753.0 509.8h0M718.5 497.2h0M718.4 488.9h0M726.2 496.3h0M750.7 493.8h0M668.1 483.0h0M736.3 500.9h0M736.3 497.0h0M769.1 504.3h0M694.6 489.7h0M733.2 494.1h0M696.6 493.3h0M722.3 480.3h0M654.8 484.9h0M748.6 491.3h0M675.8 481.6h0M710.2 497.6h0M672.6 490.5h0M762.8 494.8h0M737.4 496.1h0M753.3 494.9h0M741.3 495.0h0M757.4 493.0h0M729.4 497.7h0M663.5 500.8h0M662.1 492.2h0M740.4 490.7h0M687.1 491.0h0M736.3 496.8h0M704.1 491.3h0M752.2 491.2h0M693.0 482.1h0M664.4 510.0h0M750.5 484.3h0M688.6 508.0h0M699.6 500.8h0M743.4 502.7h0M682.8 496.5h0M762.2 498.4h0M657.2 496.7h0M741.6 499.2h0M752.3 501.2h0M725.7 506.8h0M676.3 486.3h0M666.0 498.4h0M742.8 507.6h0M738.1 505.8h0M743.9 486.1h0M766.6 497.0h0M723.6 496.7h0M763.1 496.5h0M767.5 501.5h0M721.8 481.3h0M743.0 499.9h0M672.8 493.7h0M769.0 499.7h0M711.1 495.7h0M711.7 490.2h0M732.9 493.8h0M752.6 497.4h0M685.8 488.0h0M740.6 500.4h0M749.9 503.7h0M699.6 503.4h0M704.6 504.2h0M755.6 505.2h0M692.5 500.4h0M746.8 505.3h0M756.5 495.1h0M695.9 498.0h0M690.3 506.3h0M675.5 491.7h0M677.2 482.7h0M753.2 504.1h0M686.1 509.6h0M685.0 502.1h0M729.0 496.6h0M686.6 489.4h0M686.5 486.7h0M761.3 506.6h0M768.0 502.8h0M741.9 497.3h0M744.4 485.5h0M697.0 490.4h0M694.2 489.6h0M748.3 492.2h0M714.6 496.5h0M678.1 507.6h0M691.4 490.2h0M737.8 494.9h0M698.6 496.9h0M747.3 486.4h0M679.6 498.2h0M654.1 488.0h0M670.4 491.0h0M666.2 496.8h0M675.6 494.2h0M766.6 495.5h0M729.1 487.1h0M703.9 500.7h0M670.3 485.7h0M747.3 501.7h0M727.6 490.7h0M684.2 484.9h0M709.2 493.9h0M751.6 485.9h0M764.7 490.3h0M763.6 493.4h0M721.4 501.2h0M715.0 501.3h0M702.3 498.6h0M654.8 492.3h0M687.9 482.1h0M749.1 492.8h0M695.4 492.0h0M729.7 493.6h0M767.0 490.3h0M745.3 490.3h0M690.4 501.3h0M681.2 483.6h0M760.6 494.8h0M678.3 505.1h0M736.2 488.3h0M727.5 486.5h0M718.8 492.8h0M689.8 491.8h0M766.2 496.9h0M742.7 505.9h0M701.4 493.6h0M672.9 499.3h0M701.0 489.9h0M659.1 490.6h0M675.3 497.1h0M681.3 489.1h0M671.9 504.6h0M715.7 491.3h0M670.6 493.3h0M664.3 486.0h0M661.9 491.1h0M755.9 486.4h0M663.1 490.6h0M764.5 479.9h0M761.1 494.6h0M712.8 509.2h0M756.0 479.1h0M656.5 509.1h0M740.8 493.7h0M715.1 502.0h0M724.4 486.3h0M769.2 485.7h0M672.4 494.0h0M689.5 507.6h0M733.1 484.0h0M674.7 494.0h0M760.0 488.2h0M672.7 486.5h0M699.2 487.0h0M740.2 482.4h0M753.9 506.3h0M744.8 504.8h0M748.3 483.2h0M700.9 493.7h0M697.3 490.8h0M716.9 503.8h0M674.0 487.6h0M715.7 508.2h0M717.7 494.7h0M690.8 488.0h0M670.6 493.9h0M664.3 489.7h0M695.2 495.9h0M716.2 490.6h0M767.4 495.4h0M676.5 507.0h0M656.2 486.5h0M688.5 480.5h0M708.0 505.6h0M720.7 499.8h0M692.8 490.8h0M759.3 493.9h0M678.7 503.9h0M684.2 505.3h0M683.6 493.1h0M765.5 500.3h0M709.0 494.1h0M694.5 489.4h0M659.7 503.9h0M698.4 494.9h0M746.6 501.2h0M750.6 481.5h0M763.6 495.4h0M676.8 503.1h0M658.4 504.6h0M674.4 488.8h0M661.9 497.5h0M753.6 482.6h0M687.0 509.3h0M750.3 489.7h0M687.3 505.3h0M665.9 492.3h0M685.2 491.8h0M724.5 508.3h0M766.0 487.2h0M727.3 505.5h0M746.5 491.5h0M713.0 487.1h0M760.4 487.4h0M752.8 504.1h0M767.9 493.9h0M751.2 491.5h0M734.4 481.7h0M749.8 504.5h0M757.0 503.4h0M732.0 497.3h0M663.0 501.1h0M704.4 490.0h0M765.5 495.9h0M733.7 495.4h0M699.9 489.7h0M756.2 496.5h0M695.3 488.3h0M699.1 488.9h0M715.8 483.9h0M731.9 495.7h0M719.7 488.4h0M692.3 490.2h0M718.8 506.3h0M694.5 494.1h0M731.1 494.2h0M718.2 481.5h0M666.3 490.1h0M726.6 502.8h0M762.3 499.2h0M725.7 495.0h0M662.4 493.0h0M717.6 495.1h0M672.7 497.9h0M702.1 491.7h0M672.9 504.2h0M759.7 493.2h0M743.1 506.5h0M719.7 483.4h0M688.2 505.5h0M665.8 496.1h0M735.8 502.0h0M681.8 491.6h0M758.7 495.8h0" fill="none" stroke="#c2c2c2" stroke-width="2.44" stroke-linecap="round"/>
<line x1="653.9" x2="769.2" y1="495.4" y2="495.4" stroke="#c2c2c2" stroke-width="2.6"/>
<path d="M656.0 472.4h0M659.5 472.4h0M678.7 476.6h0M686.6 468.6h0M688.9 477.7h0M700.8 463.3h0M699.6 478.0h0M706.1 476.6h0M715.3 472.2h0M715.5 477.5h0M719.7 472.7h0M721.2 472.4h0M749.9 474.8h0M754.8 475.4h0" fill="none" stroke="#7a1f30" stroke-width="2.44" stroke-linecap="round"/>
<path d="M654.7 510.3h0M656.5 512.0h0M660.9 509.0h0M660.6 512.0h0M658.3 515.2h0M656.5 517.9h0M666.6 513.4h0M668.9 510.8h0M668.0 512.6h0M670.3 517.0h0M674.2 517.3h0M676.0 511.3h0M679.0 512.0h0M677.8 522.3h0M686.6 516.1h0M688.4 509.6h0M689.6 510.8h0M687.5 520.2h0M687.0 520.9h0M696.0 517.0h0M700.8 517.9h0M703.1 521.4h0M705.7 515.2h0M707.0 520.5h0M708.4 519.1h0M705.2 532.6h0M713.2 514.3h0M716.4 516.5h0M716.7 524.1h0M718.0 509.9h0M720.3 511.1h0M721.2 515.6h0M722.9 522.8h0M725.9 516.5h0M731.3 511.7h0M730.9 516.1h0M734.4 517.3h0M738.3 512.0h0M738.0 518.8h0M742.4 509.6h0M747.7 512.0h0M749.5 512.0h0M751.6 511.3h0M753.9 513.4h0M752.7 516.5h0M746.3 520.5h0M755.7 520.2h0M761.9 515.2h0M759.2 526.4h0M763.3 525.0h0M766.9 528.0h0M769.0 509.9h0M744.7 545.0h0" fill="none" stroke="#4a50a2" stroke-width="2.44" stroke-linecap="round"/>
<text x="840.8" y="444.3" font-size="11.3" text-anchor="middle" fill="#2a2a2a">day7</text>
<text x="792.3" y="471.2" font-size="11.2" text-anchor="end" fill="#2a2a2a">1.05</text>
<circle cx="794.6" cy="467.5" r="0.6" fill="#444"/>
<text x="792.3" y="497.6" font-size="11.2" text-anchor="end" fill="#2a2a2a">1.00</text>
<circle cx="794.6" cy="493.9" r="0.6" fill="#444"/>
<text x="792.3" y="524.0" font-size="11.2" text-anchor="end" fill="#2a2a2a">0.95</text>
<circle cx="794.6" cy="520.3" r="0.6" fill="#444"/>
<text x="792.3" y="550.4" font-size="11.2" text-anchor="end" fill="#2a2a2a">0.90</text>
<circle cx="794.6" cy="546.7" r="0.6" fill="#444"/>
<text x="846.5" y="555.8" font-size="11.6" text-anchor="middle" fill="#2a2a2a">3.50%</text>
<path d="M857.3 490.1h0M821.6 490.0h0M829.6 498.5h0M814.3 490.9h0M846.4 499.8h0M841.2 488.3h0M828.7 489.4h0M842.0 502.2h0M825.3 488.0h0M895.5 499.5h0M902.3 498.5h0M845.6 494.1h0M808.1 479.3h0M828.9 482.4h0M875.0 484.3h0M909.8 482.6h0M883.5 501.7h0M802.1 486.3h0M835.4 483.0h0M802.3 489.5h0M860.6 493.1h0M841.0 479.2h0M847.0 499.4h0M828.0 500.4h0M805.0 488.7h0M886.6 501.2h0M834.9 480.2h0M802.7 489.1h0M818.2 492.5h0M800.2 494.6h0M897.4 504.2h0M814.7 491.1h0M905.0 485.0h0M908.8 495.9h0M808.8 495.4h0M887.4 498.0h0M819.7 491.0h0M878.3 495.5h0M908.2 488.9h0M849.0 499.0h0M819.7 488.1h0M872.1 488.5h0M866.1 504.3h0M823.1 487.2h0M857.9 494.0h0M854.2 499.0h0M842.8 491.2h0M838.3 502.0h0M903.0 488.8h0M872.2 503.0h0M842.8 480.2h0M860.8 482.0h0M868.2 494.6h0M896.8 506.7h0M847.4 508.3h0M890.3 486.4h0M813.1 493.7h0M880.3 489.6h0M877.1 475.0h0M795.8 500.4h0M870.3 490.7h0M803.1 506.1h0M901.5 496.4h0M859.8 489.3h0M812.1 487.9h0M880.6 492.3h0M826.5 498.0h0M802.5 489.6h0M860.6 495.8h0M888.6 483.9h0M878.6 494.7h0M889.0 504.1h0M878.1 497.8h0M839.8 491.0h0M820.0 488.1h0M834.3 487.0h0M892.5 483.5h0M797.1 489.4h0M803.5 496.3h0M902.6 489.0h0M795.6 508.4h0M859.8 497.3h0M899.9 490.1h0M855.8 493.7h0M882.0 507.0h0M797.9 478.9h0M881.4 496.1h0M867.1 502.9h0M869.0 486.0h0M826.9 495.1h0M866.2 491.9h0M884.3 488.0h0M893.9 491.6h0M803.5 491.1h0M898.8 481.4h0M878.3 491.9h0M858.6 498.5h0M881.1 490.1h0M882.4 498.4h0M859.3 500.6h0M895.7 500.2h0M897.3 478.9h0M889.6 507.3h0M820.5 501.6h0M840.0 501.1h0M902.9 494.1h0M861.1 494.0h0M814.4 489.2h0M889.4 497.7h0M815.1 502.2h0M907.9 488.9h0M872.2 501.2h0M906.1 489.9h0M831.3 499.2h0M898.4 492.7h0M830.5 501.6h0M803.4 511.1h0M883.3 496.0h0M904.2 489.6h0M903.2 490.2h0M810.2 499.5h0M859.9 489.6h0M873.0 502.7h0M831.4 496.6h0M880.5 502.0h0M838.8 489.1h0M896.4 485.5h0M860.6 487.4h0M845.0 497.5h0M853.4 487.0h0M843.2 500.2h0M851.5 475.8h0M876.7 488.1h0M833.2 492.5h0M797.2 477.8h0M874.5 488.6h0M847.4 480.7h0M896.1 493.4h0M797.0 491.9h0M884.7 500.6h0M829.9 486.6h0M890.4 479.6h0M832.4 489.2h0M808.8 495.2h0M870.6 494.9h0M819.3 495.5h0M888.4 504.8h0M859.6 490.9h0M894.7 492.1h0M873.8 486.5h0M847.7 488.8h0M865.4 503.3h0M800.9 497.2h0M806.2 504.7h0M823.9 476.4h0M855.0 490.4h0M900.1 502.7h0M795.4 495.2h0M825.3 499.0h0M805.1 501.7h0M891.0 496.7h0M898.6 482.9h0M859.6 497.3h0M820.2 487.9h0M891.7 491.5h0M833.4 498.9h0M867.2 495.1h0M888.0 494.1h0M834.3 509.5h0M819.6 496.5h0M802.6 502.2h0M902.6 497.0h0M798.7 508.7h0M891.0 490.8h0M904.7 504.5h0M843.5 510.2h0M810.3 490.8h0M875.4 503.4h0M817.6 482.1h0M845.9 496.9h0M833.4 500.6h0M880.1 486.7h0M882.5 478.2h0M867.3 494.5h0M854.3 491.2h0M881.6 495.8h0M815.7 496.7h0M818.3 501.5h0M814.7 508.0h0M817.0 498.0h0M847.8 480.6h0M811.3 500.1h0M903.6 497.6h0M802.7 495.5h0M904.3 508.2h0M887.9 496.5h0M859.6 491.0h0M856.4 498.3h0M888.3 480.0h0M833.0 502.7h0M890.3 494.7h0M845.3 509.2h0M889.0 500.3h0M855.3 497.5h0M909.4 495.9h0M866.9 483.7h0M870.2 493.5h0M821.9 496.9h0M912.0 503.0h0M801.9 498.1h0M797.5 500.4h0M836.3 500.4h0M910.0 489.6h0M825.2 497.0h0M802.5 492.4h0M832.2 483.2h0M884.5 480.9h0M887.5 501.6h0M803.6 507.0h0M843.4 506.9h0M844.9 486.8h0M814.8 507.6h0M811.9 508.1h0M832.2 487.6h0M839.6 498.6h0M865.7 509.5h0M871.4 495.1h0M866.6 504.8h0M844.2 488.8h0M814.9 491.3h0M807.6 502.1h0M810.6 492.9h0M880.9 495.5h0M816.9 495.2h0M850.2 485.3h0M823.3 507.6h0M825.6 493.1h0M882.1 491.4h0M887.3 490.4h0M857.7 494.9h0M868.0 486.1h0M869.2 502.0h0M888.4 491.3h0M794.6 501.4h0M826.1 486.6h0M887.9 485.3h0M912.1 486.2h0M876.9 496.4h0M891.5 482.6h0M816.2 501.8h0M798.8 491.4h0M904.9 502.3h0M823.0 490.9h0M827.0 501.5h0M869.2 485.2h0M855.2 484.6h0M893.8 499.6h0M822.8 489.4h0M815.1 503.7h0M803.7 488.1h0M887.7 498.8h0M871.4 487.0h0M874.3 478.9h0M825.8 507.0h0M817.8 492.4h0M880.2 502.9h0M888.8 495.8h0M828.3 479.1h0M831.5 497.8h0M887.9 503.9h0M889.0 505.7h0M814.6 508.8h0M825.2 497.7h0M883.8 493.3h0M877.6 494.9h0M839.3 483.9h0M888.6 500.8h0M875.8 500.7h0M845.8 497.3h0M852.9 487.4h0M819.1 500.0h0M842.2 489.3h0M807.7 505.3h0M855.2 488.8h0M803.0 489.5h0M795.5 491.4h0M907.8 485.1h0M810.5 486.3h0M832.0 491.7h0M898.4 512.0h0M804.2 497.5h0M862.3 496.8h0M853.2 486.4h0M863.5 495.9h0M871.5 494.1h0M852.9 495.0h0M900.6 481.0h0M870.0 493.1h0M812.8 477.4h0M862.6 492.4h0M800.5 486.3h0M825.3 488.7h0M900.8 491.3h0M801.0 501.6h0M834.8 505.0h0M802.5 494.4h0M899.7 484.6h0M801.1 507.4h0M860.8 481.6h0M848.8 489.2h0M898.3 492.2h0M800.0 487.5h0M796.2 506.0h0M891.6 497.7h0M816.0 503.7h0M846.0 491.5h0M901.7 501.8h0M831.9 492.7h0M819.5 492.8h0M891.7 496.8h0M888.9 497.6h0M911.5 499.2h0M887.8 492.2h0M865.1 480.7h0M818.9 491.2h0M883.1 491.5h0M859.7 486.8h0M844.1 501.4h0M863.4 511.9h0M812.6 491.0h0" fill="none" stroke="#c2c2c2" stroke-width="2.44" stroke-linecap="round"/>
<line x1="794.4" x2="912.2" y1="494.8" y2="494.8" stroke="#c2c2c2" stroke-width="2.6"/>
<path d="M812.7 470.6h0M836.4 472.2h0M837.5 470.6h0M845.3 470.9h0M853.8 466.5h0M860.8 467.4h0M863.0 469.7h0M868.3 469.5h0M870.6 468.6h0M882.1 470.6h0M883.9 471.8h0M908.3 468.3h0" fill="none" stroke="#7a1f30" stroke-width="2.44" stroke-linecap="round"/>
<path d="M797.4 518.4h0M802.0 515.2h0M817.8 517.3h0M824.9 517.9h0M826.3 514.9h0M828.6 515.6h0M829.0 521.1h0M827.2 530.6h0M842.8 517.3h0M843.5 520.2h0M847.9 534.7h0M799.7 541.3h0M878.0 517.0h0M881.6 514.9h0M887.4 515.6h0M893.6 520.0h0M900.7 518.8h0M902.5 523.2h0M880.9 547.6h0" fill="none" stroke="#4a50a2" stroke-width="2.44" stroke-linecap="round"/>
<text x="996.6" y="443.8" font-size="11.3" text-anchor="middle" fill="#2a2a2a">day21</text>
<text x="942.2" y="452.5" font-size="11.0" text-anchor="end" fill="#2a2a2a">1.08</text>
<circle cx="944.6" cy="449.8" r="0.6" fill="#444"/>
<text x="942.2" y="474.2" font-size="11.0" text-anchor="end" fill="#2a2a2a">1.04</text>
<circle cx="944.6" cy="471.5" r="0.6" fill="#444"/>
<text x="942.2" y="495.8" font-size="11.0" text-anchor="end" fill="#2a2a2a">1.00</text>
<circle cx="944.6" cy="493.2" r="0.6" fill="#444"/>
<text x="942.2" y="517.5" font-size="11.0" text-anchor="end" fill="#2a2a2a">0.96</text>
<circle cx="944.6" cy="514.9" r="0.6" fill="#444"/>
<text x="942.2" y="539.2" font-size="11.0" text-anchor="end" fill="#2a2a2a">0.92</text>
<circle cx="944.6" cy="536.6" r="0.6" fill="#444"/>
<text x="998.6" y="555.8" font-size="11.6" text-anchor="middle" fill="#2a2a2a">3.67%</text>
<path d="M964.1 480.7h0M1017.3 499.1h0M1035.7 485.9h0M1005.4 488.9h0M1002.7 488.6h0M1037.6 487.3h0M983.9 508.3h0M978.4 506.4h0M992.1 491.0h0M985.3 494.3h0M1022.8 508.2h0M1033.8 491.0h0M1004.9 489.6h0M1053.5 486.1h0M1046.1 507.1h0M1045.0 494.9h0M1030.7 493.6h0M1056.1 489.8h0M978.4 485.6h0M1026.0 501.8h0M991.6 486.8h0M995.3 489.0h0M1058.9 478.9h0M1006.8 483.9h0M1013.3 489.0h0M957.9 489.2h0M1037.0 480.3h0M977.4 488.1h0M996.1 492.3h0M973.5 498.5h0M1021.6 491.0h0M971.2 481.7h0M1011.7 491.0h0M994.6 497.3h0M1012.7 493.4h0M1047.9 493.8h0M1001.2 493.5h0M1015.7 499.1h0M1013.7 481.6h0M967.5 488.3h0M1043.0 496.7h0M1005.3 493.6h0M1043.6 484.1h0M950.8 490.9h0M1004.5 487.3h0M981.3 493.6h0M953.9 478.9h0M1057.0 479.2h0M1023.4 480.8h0M1048.4 492.2h0M1014.4 501.9h0M984.7 504.0h0M1001.6 493.4h0M957.3 507.2h0M1017.3 496.4h0M1023.3 493.9h0M1009.1 502.8h0M1033.4 482.8h0M980.0 474.3h0M1050.3 483.0h0M1023.7 505.6h0M972.1 501.2h0M1023.9 495.0h0M1026.4 491.3h0M1051.6 491.8h0M1001.1 496.7h0M972.1 485.8h0M960.7 500.0h0M983.7 484.8h0M994.5 505.0h0M1032.4 490.4h0M951.6 485.3h0M957.4 490.8h0M1032.0 485.2h0M967.9 492.1h0M947.3 477.6h0M954.8 489.0h0M1021.0 494.0h0M1013.8 496.6h0M1054.2 489.9h0M961.4 503.9h0M1022.6 478.5h0M952.5 491.4h0M1040.4 489.0h0M1004.3 493.2h0M950.6 491.0h0M944.8 505.4h0M1056.3 493.2h0M1000.5 485.2h0M1052.5 493.6h0M960.1 491.9h0M1000.3 501.0h0M1026.2 488.1h0M951.5 491.3h0M1010.5 500.8h0M1057.9 482.9h0M974.1 489.3h0M974.5 501.5h0M974.1 509.0h0M1006.2 492.6h0M983.7 492.3h0M1014.0 502.8h0M1058.5 480.3h0M954.6 487.2h0M1055.2 486.3h0M1036.2 475.3h0M1018.6 489.7h0M987.8 501.2h0M1034.5 499.1h0M961.0 504.3h0M946.8 492.0h0M1012.0 504.9h0M969.3 485.7h0M976.6 481.9h0M980.4 496.3h0M984.0 493.4h0M1011.4 498.8h0M1046.6 493.2h0M1050.8 504.2h0M1005.7 499.4h0M962.3 495.5h0M985.7 490.0h0M1058.3 499.5h0M958.9 487.5h0M1038.9 501.7h0M1012.1 503.4h0M1035.3 501.6h0M1038.6 482.1h0M1010.7 497.2h0M1041.0 496.6h0M1039.6 501.0h0M1043.1 479.6h0M1047.9 488.0h0M961.9 492.6h0M1001.2 505.6h0M1061.1 488.1h0M978.0 501.2h0M983.3 494.6h0M1044.3 510.3h0M1035.4 496.2h0M1038.6 479.2h0M1044.4 490.9h0M1061.9 495.6h0M963.0 504.5h0M1007.1 499.2h0M992.7 490.9h0M991.6 482.2h0M1044.3 493.6h0M1061.2 492.3h0M1026.6 505.1h0M947.2 501.5h0M993.4 481.0h0M1056.2 489.7h0M1006.0 495.7h0M970.7 484.8h0M959.1 488.8h0M967.5 503.8h0M954.8 499.8h0M1040.9 478.2h0M1023.7 496.4h0M1018.8 494.8h0M1035.7 491.6h0M998.9 498.3h0M1036.9 498.5h0M1039.0 495.4h0M1024.5 486.9h0M966.3 489.0h0M1057.9 499.7h0M1002.7 510.4h0M1030.1 498.7h0M976.0 498.1h0M957.6 495.7h0M950.8 489.5h0M951.5 494.1h0M1059.4 482.7h0M954.5 500.0h0M961.1 497.6h0M1051.2 495.0h0M945.4 485.8h0M1042.0 491.1h0M1036.0 488.4h0M1051.9 496.1h0M1020.2 490.9h0M974.3 496.6h0M1061.2 501.6h0M1035.8 504.6h0M975.6 484.4h0M976.7 490.5h0M1034.7 483.8h0M1009.4 504.4h0M1049.5 485.9h0M986.6 505.3h0M967.5 489.0h0M1032.1 502.5h0M951.8 488.7h0M980.4 491.5h0M993.6 494.5h0M1010.4 494.2h0M1005.3 492.2h0M1049.1 499.3h0M1042.0 504.0h0M963.8 501.1h0M961.3 489.2h0M1022.1 477.1h0M988.6 494.5h0M1060.0 499.4h0M979.7 498.9h0M967.9 482.8h0M985.0 498.6h0M1027.3 487.6h0M1011.3 504.6h0M973.7 486.7h0M1051.5 486.1h0M1054.5 487.7h0M1039.8 495.6h0M979.5 484.3h0M951.2 490.2h0M1020.4 508.9h0M1022.4 491.0h0M1050.0 490.7h0M947.3 487.2h0M972.1 486.8h0M1054.5 497.3h0M1061.8 504.0h0M984.8 494.4h0M1046.7 485.6h0M1041.1 495.4h0M957.6 486.5h0M1034.9 494.6h0M992.1 478.1h0M982.6 487.9h0M1028.3 493.9h0M995.1 489.9h0M1048.5 491.2h0M977.5 507.1h0M973.0 501.9h0M953.5 506.8h0M1044.6 495.4h0M989.2 495.5h0M951.6 509.0h0M1059.5 488.0h0M962.7 496.4h0M970.3 494.7h0M1024.0 496.1h0M1058.8 498.7h0M1058.1 494.5h0M1061.0 500.6h0M984.7 486.0h0M985.9 497.8h0M951.5 484.3h0M1035.2 502.9h0M1045.7 502.1h0M947.0 491.6h0M983.1 489.0h0M1049.3 493.2h0M993.0 498.3h0M1037.8 480.1h0M993.6 484.6h0M1057.9 501.7h0M954.9 491.5h0M1030.8 482.1h0M1055.1 489.5h0M1038.0 478.0h0M1044.5 494.5h0M981.7 492.6h0M1009.1 509.5h0M1003.7 482.4h0M948.3 498.9h0M1037.7 482.8h0M952.1 484.3h0M971.0 491.5h0M978.2 485.9h0M1054.6 509.2h0M1051.8 492.8h0M985.0 486.7h0M988.0 486.3h0M965.6 490.0h0M977.2 491.4h0M954.1 486.4h0M1052.2 498.5h0M984.9 503.6h0M968.3 481.9h0M955.2 488.9h0M961.6 489.9h0M948.5 480.9h0M992.5 481.6h0M1041.5 489.9h0M1052.8 485.2h0M973.1 495.8h0M957.5 500.3h0M988.8 494.7h0M946.8 495.6h0M1040.1 485.0h0M980.5 487.8h0M980.3 496.5h0M1048.2 498.1h0M1054.6 492.3h0M1051.1 497.8h0M1004.2 490.9h0M983.9 482.9h0M954.0 495.7h0M1057.0 489.3h0M948.6 478.2h0M1041.5 500.4h0M1045.1 496.4h0M1040.0 499.4h0M1044.3 488.9h0M994.7 505.9h0M1046.2 497.2h0M986.9 501.5h0M1055.5 487.3h0M950.3 490.3h0M1046.3 504.2h0M988.8 492.8h0M1012.2 493.2h0M948.6 506.0h0M945.9 503.1h0M956.3 495.0h0M971.1 509.6h0M980.0 480.1h0M1019.9 492.5h0M994.4 488.3h0M1017.1 505.8h0M976.5 506.7h0M956.6 488.9h0M1034.2 494.3h0M1013.9 501.2h0M1047.3 497.6h0M1052.4 495.4h0M998.8 501.7h0" fill="none" stroke="#c2c2c2" stroke-width="2.44" stroke-linecap="round"/>
<line x1="944.4" x2="1062.2" y1="493.7" y2="493.7" stroke="#c2c2c2" stroke-width="2.6"/>
<path d="M946.7 467.1h0M955.9 471.6h0M960.0 468.0h0M966.0 461.8h0M966.0 470.1h0M972.8 473.3h0M979.0 460.9h0M980.7 465.0h0M982.5 472.1h0M985.5 460.9h0M988.2 466.3h0M989.2 469.8h0M990.8 472.5h0M1003.8 453.5h0M1004.6 464.8h0M1011.4 471.6h0M1026.3 459.2h0M1028.6 464.1h0M1037.4 469.4h0M1038.7 468.6h0M1041.3 465.9h0M1043.3 466.8h0M1044.0 452.6h0" fill="none" stroke="#7a1f30" stroke-width="2.44" stroke-linecap="round"/>
<path d="M961.8 518.0h0M968.3 515.0h0M970.5 517.6h0M973.3 514.4h0M974.5 517.6h0M976.0 520.6h0M986.9 518.9h0M993.1 525.9h0M964.8 532.3h0M1004.1 517.3h0M1009.6 514.1h0M1011.4 513.7h0M1013.0 515.5h0M1017.4 513.5h0M1025.4 517.3h0M1027.7 521.7h0M1013.5 534.1h0M1049.8 519.4h0M1049.8 522.9h0M1051.2 515.0h0M1052.6 514.6h0" fill="none" stroke="#4a50a2" stroke-width="2.44" stroke-linecap="round"/>
</g>
</svg></body></html>
